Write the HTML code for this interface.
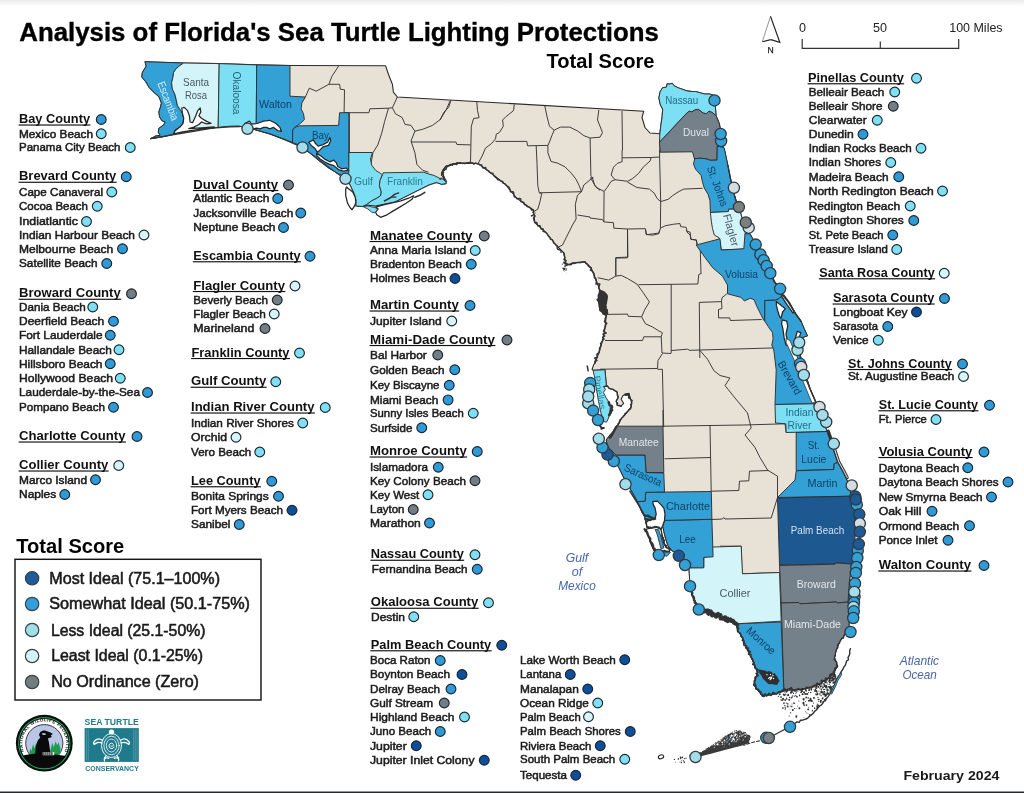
<!DOCTYPE html>
<html lang="en"><head><meta charset="utf-8"><title>Analysis of Florida's Sea Turtle Lighting Protections</title>
<style>html,body{margin:0;padding:0;background:#fff;}body{width:1024px;height:793px;overflow:hidden;position:relative;font-family:"Liberation Sans", sans-serif;}svg{will-change:transform;position:absolute;left:0;top:0;display:block;}text{font-family:"Liberation Sans", sans-serif;}.cn{font-weight:bold;font-size:12.9px;fill:#111;}.bn{font-size:11px;fill:#1c1c1c;stroke:#1c1c1c;stroke-width:0.5px;}.ml{font-size:10.5px;}.cb{fill:none;stroke:#353535;stroke-width:0.95;stroke-linejoin:round;}.cy{stroke:#2f2f2f;stroke-width:0.95;stroke-linejoin:round;}.wt{fill:#fff;stroke:#262626;stroke-width:1.25;stroke-linejoin:round;}.mk{stroke:#303a42;stroke-width:1.3;}.ld{stroke:#1c262e;stroke-width:1.15;}</style></head><body>
<svg width="1024" height="793" viewBox="0 0 1024 793">
<defs><linearGradient id="tg" x1="0" y1="0" x2="0" y2="1"><stop offset="0" stop-color="#ebebeb"/><stop offset="1" stop-color="#ffffff"/></linearGradient></defs>
<rect x="0" y="0" width="1024" height="793" fill="#fff"/>
<rect x="0" y="0" width="1024" height="6.5" fill="url(#tg)"/>
<rect x="0" y="791.5" width="1024" height="1.5" fill="#27282c"/>
<text x="19.3" y="40.5" font-size="25" font-weight="bold" fill="#000" stroke="#000" stroke-width="0.35" textLength="639.5" lengthAdjust="spacingAndGlyphs">Analysis of Florida's Sea Turtle Lighting Protections</text>
<text x="546.5" y="68" font-size="20.6" font-weight="bold" fill="#000" textLength="108" lengthAdjust="spacingAndGlyphs">Total Score</text>
<path d="M802.2 39.1V48.4H958.7V39.1M880.3 41.6V48.4" fill="none" stroke="#333" stroke-width="1.2"/>
<text x="802.4" y="32" font-size="12.6" fill="#222" text-anchor="middle">0</text>
<text x="880" y="32" font-size="12.6" fill="#222" text-anchor="middle">50</text>
<text x="949.2" y="32" font-size="12.6" fill="#222" textLength="53.4" lengthAdjust="spacingAndGlyphs">100 Miles</text>
<path d="M770.5 16.4L762.3 41.8" fill="none" stroke="#666" stroke-width="0.7"/>
<path d="M770.5 16.4L779.8 42.4L770.8 39.6" fill="#fff" stroke="#222" stroke-width="1.2" stroke-linejoin="miter"/>
<path d="M762.3 41.8L770.8 39.6" fill="none" stroke="#222" stroke-width="1.1"/>
<text x="770.7" y="53.4" font-size="8.6" fill="#222" text-anchor="middle" stroke="#222" stroke-width="0.25">N</text>
<g id="map">
<polygon points="145.0,61.7 183.7,63.0 219.2,63.6 256.7,64.9 290.0,65.5 290.0,65.5 385.6,65.8 388.5,74.5 392.4,84.3 393.4,92.2 397.3,97.0 643.8,111.2 642.0,117.5 645.0,127.5 650.0,133.0 660.0,133.8 659.9,133.4 660.8,125.8 662.1,116.9 662.7,109.3 660.2,104.2 658.9,97.8 660.2,91.5 662.7,87.7 666.5,87.1 667.1,83.9 669.7,84.1 672.2,83.2 674.1,85.8 677.9,87.7 681.7,89.0 686.8,90.9 691.9,91.5 695.7,91.5 700.1,92.8 704.6,94.0 709.7,94.0 713.5,95.3 715.0,97.8 715.4,106.7 716.0,115.6 719.2,123.2 720.5,129.6 721.4,135.9 722.6,143.6 723.6,147.4 724.6,150.0 727.8,165.2 730.3,177.9 733.5,191.9 736.0,200.8 739.2,208.7 743.0,221.1 745.2,232.5 745.5,237.6 744.9,249.0 743.8,248.8 745.0,233.8 750.0,233.8 756.0,245.0 761.0,255.8 766.1,265.3 770.5,273.6 774.4,281.8 780.1,288.8 782.6,295.1 788.3,302.1 795.9,314.2 801.0,321.2 804.2,328.8 807.4,335.8 801.2,338.0 798.0,341.2 800.0,355.0 804.5,372.5 810.0,388.8 816.2,403.0 813.8,403.8 818.8,412.5 823.8,422.5 827.0,431.5 831.2,443.8 835.0,455.0 837.5,462.5 842.5,471.2 846.2,478.8 849.5,485.0 851.2,496.2 853.8,505.0 855.0,520.0 855.0,535.0 853.8,550.0 852.0,564.0 849.5,580.0 848.0,602.0 849.5,617.5 848.8,627.5 843.8,636.2 840.0,641.2 836.2,650.0 834.5,657.5 837.5,666.2 833.8,672.5 827.5,678.8 820.0,683.8 812.5,687.0 802.5,689.0 792.5,690.0 783.8,689.5 776.2,693.8 762.5,696.2 753.8,685.0 757.5,672.5 753.8,662.5 747.5,650.0 742.5,637.5 737.5,630.0 736.2,623.8 727.5,618.8 715.0,615.0 705.0,611.2 698.8,609.5 693.8,600.0 690.0,586.2 689.0,567.8 685.5,565.0 677.4,553.8 671.5,550.3 668.0,545.6 665.6,538.6 663.9,531.6 662.7,525.7 664.5,520.4 662.7,525.7 651.6,528.0 646.9,526.9 644.5,516.3 642.2,512.8 639.9,506.9 637.5,501.7 632.5,492.5 625.0,480.0 618.8,467.5 613.8,458.8 610.0,450.0 607.5,445.0 606.2,440.0 610.0,435.0 613.8,431.2 617.5,426.2 616.2,426.9 619.2,422.9 621.1,419.0 624.6,415.1 628.0,411.1 631.0,407.2 631.5,402.3 630.0,397.4 629.0,393.4 626.0,393.9 623.1,395.4 621.1,399.3 623.6,403.3 621.1,406.2 617.2,405.2 616.2,401.3 618.2,397.4 617.2,392.4 613.3,389.5 609.3,388.5 607.4,386.1 606.4,385.6 604.9,369.8 593.1,370.3 592.1,369.3 593.6,364.9 595.0,362.9 595.0,363.0 598.8,353.0 602.5,340.5 605.0,328.0 606.2,315.5 600.0,310.5 598.8,303.0 600.0,290.5 596.2,280.5 591.2,268.0 585.0,261.8 572.5,263.0 566.2,265.5 563.8,253.0 556.0,245.0 546.0,232.5 534.8,222.5 533.5,210.0 526.0,205.0 516.0,197.5 506.0,185.0 493.5,175.0 478.5,163.8 471.0,163.0 453.5,163.8 446.0,166.2 442.2,172.5 446.0,181.2 446.0,183.6 441.6,184.3 436.5,182.4 428.9,184.9 421.2,188.7 411.1,193.8 403.5,197.6 394.6,202.1 388.2,203.3 381.9,204.6 375.6,205.9 367.9,205.2 362.9,206.5 355.9,205.9 355.9,199.5 354.0,193.2 350.8,186.2 347.9,180.5 346.5,177.2 338.6,173.9 328.9,168.0 319.1,160.6 309.3,152.4 303.1,146.9 292.5,142.4 280.0,137.5 270.0,133.8 256.2,130.0 247.5,127.5 237.5,126.0 230.0,126.2 218.0,127.0 214.2,127.7 201.5,129.0 188.8,130.9 176.1,133.4 173.6,134.1 163.4,136.6 150.7,138.8 155.8,136.0 160.2,135.3 158.3,132.2 158.9,128.4 163.4,125.2 165.3,122.0 162.1,120.8 159.6,116.9 158.9,111.9 160.2,108.0 161.5,103.0 158.9,96.6 154.5,92.8 149.4,87.7 145.6,81.4 141.8,77.0 142.4,72.5 146.2,66.2 145.0,61.7" fill="#e8e1d5" stroke="#2a2a2a" stroke-width="1.1" stroke-linejoin="round"/>
<path class="cb" d="M305.4 97.0 L309.3 88.2 L316.2 91.2 L328.9 84.3 L339.6 84.3 L340.2 89.2 L344.5 89.8 L344.1 112.7 M338.6 66.1 L331.8 76.5 L328.9 84.3 M344.1 112.7 L368.9 112.7 L369.9 108.8 L388.5 108.2 L392.4 107.8 L397.3 97.0 M349.4 112.7 L349.4 152.8 M388.5 108.2 L384.6 121.5 L381.7 133.2 L377.8 144.9 L372.9 152.8 L370.9 164.5 M392.4 107.8 L395.4 113.7 L402.2 117.6 L405.1 124.4 L411.0 125.4 L414.9 131.2 M450.1 100.9 L446.2 109.7 L440.3 119.5 L432.5 125.4 L422.7 129.3 L414.9 131.2 L411.0 141.0 L414.9 152.8 L416.9 164.5 L422.7 170.3 L428.6 172.3 M411.0 142.0 L455.9 142.0 L456.9 144.5 L470.6 144.9 M450.9 100.5 L448.6 107.5 L443.9 112.2 L440.0 120.0 M476.8 102.0 L477.5 110.6 L479.1 117.7 L473.6 118.5 L471.3 126.3 L470.5 163.0 M514.3 104.4 L513.5 110.6 L505.7 116.9 L502.6 120.0 L503.3 126.3 L499.4 132.5 L496.3 134.1 L495.5 138.8 L491.6 143.5 L485.4 148.2 L482.2 156.0 L478.3 163.0 M495.5 141.4 L526.8 141.4 L527.6 145.8 L547.9 145.4 M544.8 106.0 L547.1 116.9 L549.5 126.3 L554.2 130.2 L551.8 135.7 L549.5 141.9 L547.9 145.4 L547.9 152.9 L551.0 161.5 L557.3 163.0 L565.1 166.9 L571.4 173.2 L576.1 179.4 L579.2 185.7 L581.5 191.7 M554.2 130.2 L560.4 127.1 L569.8 127.1 L577.6 131.0 L583.9 135.7 L590.1 138.0 L600.0 137.2 L602.5 132.5 L597.5 120.0 L598.8 110.0 M536.2 145.8 L537.0 163.8 L537.8 185.7 L539.3 192.8 L541.7 193.5 L540.1 201.3 L537.8 209.2 L533.8 211.5 M539.3 192.8 L581.5 191.7 L577.6 195.1 L575.3 204.5 L576.1 219.0 L572.5 225.0 L562.5 245.0 L557.5 247.5 M590.1 138.0 L590.9 176.3 L592.5 177.9 L583.9 184.9 L581.5 191.7 M592.5 177.9 L594.8 185.7 L600.0 190.4 M622.0 111.2 L622.5 150.0 L622.1 150.0 L622.1 157.8 M660.0 133.8 L660.0 150.0 L659.6 150.0 L659.6 157.0 L660.7 201.6 L660.4 228.2 M577.5 215.0 L590.0 217.0 L590.0 218.0 L602.5 219.6 L603.8 221.9 M622.1 157.8 L651.0 157.5 L650.2 160.9 L643.2 167.2 L638.5 173.5 L632.2 178.9 L627.5 181.3 L615.0 179.7 L611.1 175.0 L613.5 167.2 L617.4 163.3 L622.1 161.7 L622.1 157.8 M651.0 157.5 L659.6 157.0 M590.0 178.2 L593.1 177.4 L591.6 179.7 L596.3 187.5 L604.1 191.4 L607.2 187.5 L611.1 181.3 L615.0 179.7 M627.5 182.1 L636.9 187.5 L649.4 189.1 L654.1 193.0 L657.2 198.5 L660.7 201.6 L668.2 199.3 L672.9 195.4 L679.1 191.4 L683.8 189.1 L702.6 188.3 M604.1 191.4 L603.8 221.9 L613.5 222.7 L613.8 228.2 L627.5 229.0 L645.5 228.7 L646.3 234.4 L652.6 235.2 L658.8 233.7 L660.4 228.2 L665.1 225.8 L672.9 224.3 L679.9 223.5 L680.7 226.6 L686.2 227.4 L687.0 231.3 L690.1 232.1 L690.9 239.2 L696.4 239.9 L697.1 244.6 M627.5 229.0 L627.9 257.1 L615.8 257.6 L615.8 274.0 L615.8 276.1 M700.3 250.1 L701.0 274.0 L700.3 273.8 L698.7 274.6 L697.9 284.0 M597.8 277.7 L608.8 280.1 L615.8 276.1 L621.3 275.4 L627.5 278.5 L636.9 284.0 L643.2 292.6 L649.4 301.9 L644.7 309.8 L641.6 316.8 L645.5 323.8 L652.6 327.0 L658.8 330.9 L661.9 332.4 M627.5 230.0 L627.5 257.8 L615.8 258.1 L615.8 276.1 M638.5 284.7 L697.9 284.0 M606.4 314.4 L627.5 314.1 L628.3 316.3 L641.6 316.8 M645.5 230.0 L646.3 234.7 L652.6 233.9 L658.8 233.1 L659.6 230.0 M686.2 230.0 L687.8 233.1 L690.1 234.7 L690.9 239.4 L696.4 240.2 L697.1 244.9 M699.3 302.4 L721.5 301.6 L722.0 297.7 L726.9 293.8 M721.5 301.6 L722.0 308.5 L718.5 309.5 L718.5 317.9 L729.8 317.9 L730.3 320.5 L761.8 319.5 M699.3 302.4 L699.8 358.0 M690.0 350.3 L774.6 347.9 M671.2 284.2 L671.2 353.0 M605.0 340.5 L642.5 340.5 L643.8 336.8 L661.2 336.8 L662.0 353.0 L671.2 353.5 M661.2 336.8 L662.5 332.5 M600.0 369.2 L657.5 368.5 L658.0 360.5 L662.5 353.5 M657.5 369.3 L662.4 369.3 L663.7 426.8 M671.2 350.5 L687.5 349.2 L690.0 350.5 M700.0 350.5 L707.5 359.2 L713.8 370.5 L720.0 375.5 L730.0 378.0 L725.0 385.5 L735.0 398.0 L747.5 413.0 L751.2 428.0 L745.0 435.0 L755.0 447.5 L760.0 457.5 L767.5 470.0 L777.5 476.2 L777.5 497.5 M663.0 410.0 L663.0 426.2 M663.0 426.2 L710.0 425.5 L743.8 425.0 L785.0 423.8 L786.2 432.5 M710.0 425.5 L711.2 491.2 M664.5 458.8 L710.5 457.5 M711.2 491.2 L738.8 490.5 L739.5 481.2 L748.8 480.8 L749.5 471.2 L768.8 470.5 M712.0 519.5 L722.5 519.0 L723.8 517.5 L725.0 519.0 L771.2 518.0 L777.5 497.5 M720.0 546.2 L741.2 546.2 L742.0 573.8 L779.5 572.5"/>
<polygon class="cy" points="145.0,61.7 183.7,63.0 179.9,65.5 176.1,68.7 173.6,72.5 172.9,77.6 171.6,82.7 172.3,89.0 174.8,94.1 176.1,99.2 177.4,105.5 179.9,109.3 182.4,113.1 183.7,118.2 183.1,123.3 179.9,127.1 174.8,130.3 173.6,134.1 163.4,136.6 150.7,138.8 155.8,136.0 160.2,135.3 158.3,132.2 158.9,128.4 163.4,125.2 165.3,122.0 162.1,120.8 159.6,116.9 158.9,111.9 160.2,108.0 161.5,103.0 158.9,96.6 154.5,92.8 149.4,87.7 145.6,81.4 141.8,77.0 142.4,72.5 146.2,66.2 145.0,61.7" fill="#33a0d6"/>
<polygon class="cy" points="183.7,63.0 219.2,63.6 218.2,127.3 214.2,127.7 201.5,129.0 188.8,130.9 176.1,133.4 173.6,134.1 174.8,130.3 179.9,127.1 183.1,123.3 183.7,118.2 182.4,113.1 179.9,109.3 177.4,105.5 176.1,99.2 174.8,94.1 172.3,89.0 171.6,82.7 172.9,77.6 173.6,72.5 176.1,68.7 179.9,65.5 183.7,63.0" fill="#d3f4f9"/>
<polygon class="cy" points="219.2,63.6 256.7,64.9 256.2,130.0 247.5,127.5 237.5,126.0 230.0,126.2 218.2,127.3" fill="#7ddff3"/>
<polygon class="cy" points="256.7,64.9 290.0,65.5 290.0,96.2 305.4,97.0 301.9,102.9 301.1,108.8 303.5,113.7 304.4,119.5 300.5,123.4 294.7,127.3 292.7,130.3 292.5,142.4 280.0,137.5 270.0,133.8 256.2,130.0" fill="#33a0d6"/>
<polygon class="cy" points="292.7,130.3 294.7,127.3 299.6,125.8 338.6,125.4 339.6,112.7 348.8,112.7 348.8,172.3 346.5,177.2 338.6,173.9 328.9,168.0 319.1,160.6 309.3,152.4 303.1,146.9 292.5,142.4" fill="#33a0d6"/>
<polygon class="cy" points="348.9,152.5 372.4,152.5 370.5,158.9 371.7,165.2 375.6,170.3 380.6,173.5 382.5,174.8 380.0,180.5 379.4,185.6 381.3,191.9 380.6,195.7 376.8,198.2 371.7,200.8 366.7,204.6 362.9,206.5 355.9,205.9 355.9,199.5 354.0,193.2 350.8,186.2 347.9,180.5 346.5,177.2 348.8,172.3" fill="#7ddff3"/>
<polygon class="cy" points="382.5,174.8 383.2,172.8 423.8,172.2 428.9,174.1 433.9,175.4 440.3,178.6 446.0,179.8 446.0,183.6 441.6,184.3 436.5,182.4 428.9,184.9 421.2,188.7 411.1,193.8 403.5,197.6 394.6,202.1 388.2,203.3 381.9,204.6 375.6,205.9 367.9,205.2 362.9,206.5 366.7,204.6 371.7,200.8 376.8,198.2 380.6,195.7 381.3,191.9 379.4,185.6 380.0,180.5 382.5,174.8" fill="#7ddff3"/>
<polygon class="cy" points="659.5,142.3 659.9,133.4 660.8,125.8 662.1,116.9 662.7,109.3 660.2,104.2 658.9,97.8 660.2,91.5 662.7,87.7 666.5,87.1 667.1,83.9 669.7,84.1 672.2,83.2 674.1,85.8 677.9,87.7 681.7,89.0 686.8,90.9 691.9,91.5 695.7,91.5 700.1,92.8 704.6,94.0 709.7,94.0 713.5,95.3 715.0,97.8 715.4,106.7 716.0,115.6 712.2,112.5 709.0,111.2 706.5,113.7 703.3,113.1 700.8,111.2 698.2,109.3 695.1,109.9 691.9,111.8 689.4,111.2 686.8,113.1 659.5,142.3" fill="#7ddff3"/>
<polygon class="cy" points="659.5,142.3 686.8,113.1 689.4,111.2 691.9,111.8 695.1,109.9 698.2,109.3 700.8,111.2 703.3,113.1 706.5,113.7 709.0,111.2 712.2,112.5 716.0,115.6 719.2,123.2 720.5,129.6 721.4,135.9 722.6,143.6 723.6,147.4 717.3,146.1 717.0,160.1 710.3,160.3 705.9,158.8 699.5,158.2 694.4,158.8 692.5,151.8 660.2,152.2" fill="#74808a"/>
<polygon class="cy" points="694.4,158.8 699.5,158.2 705.9,158.8 710.3,160.3 717.0,160.1 717.3,146.1 723.6,147.4 724.6,150.0 727.8,165.2 730.3,177.9 733.5,191.9 736.0,200.8 739.2,208.7 728.6,209.3 728.4,211.6 710.4,212.5 710.0,200.8 708.1,194.4 704.3,188.1 702.4,181.7 701.1,175.4 695.4,169.0 693.5,164.0 694.8,158.2" fill="#33a0d6"/>
<polygon class="cy" points="710.4,212.5 728.4,211.6 728.6,209.3 739.2,208.7 743.0,221.1 745.2,232.5 745.5,237.6 744.9,249.0 721.3,250.0 720.1,242.7 718.9,237.6 714.4,235.1 712.5,228.7 711.3,221.1 710.4,212.5" fill="#d3f4f9"/>
<polygon class="cy" points="696.2,245.0 720.0,238.8 721.2,250.0 743.8,248.8 745.0,233.8 750.0,233.8 756.0,245.0 761.0,255.8 766.1,265.3 770.5,273.6 774.4,281.8 780.1,288.8 782.6,295.1 779.4,298.3 775.6,300.2 764.8,300.5 764.8,321.2 763.6,319.9 760.4,313.6 756.6,305.9 754.0,299.6 750.2,298.3 744.5,300.9 740.7,297.3 735.0,295.8 727.5,293.8 727.5,285.0 722.5,276.2 712.5,267.5 705.0,257.5 696.2,245.0" fill="#33a0d6"/>
<polygon class="cy" points="764.8,321.2 764.8,300.5 775.6,300.2 779.4,298.3 782.6,295.1 788.3,302.1 795.9,314.2 801.0,321.2 804.2,328.8 807.4,335.8 801.2,338.0 798.0,341.2 800.0,355.0 804.5,372.5 810.0,388.8 816.2,403.0 813.8,403.8 775.0,404.5 776.2,370.0 773.8,350.0 771.8,345.0 773.1,338.9 772.5,332.6 768.0,326.2 764.8,321.2" fill="#33a0d6"/>
<polygon class="cy" points="775.0,404.5 813.8,403.8 818.8,412.5 823.8,422.5 827.0,431.5 786.2,432.5 785.8,423.8 775.5,423.0" fill="#7ddff3"/>
<polygon class="cy" points="796.2,432.5 827.0,431.5 831.2,443.8 835.0,455.0 837.5,462.5 834.2,463.8 833.8,469.5 796.2,470.5" fill="#33a0d6"/>
<polygon class="cy" points="796.2,470.8 833.8,469.5 834.2,463.8 837.5,462.5 842.5,471.2 846.2,478.8 849.5,485.0 851.2,496.2 777.5,497.5 795.0,480.0" fill="#33a0d6"/>
<polygon class="cy" points="777.5,498.0 851.2,496.2 853.8,505.0 855.0,520.0 855.0,535.0 853.8,550.0 852.0,564.0 836.2,562.5 835.0,564.0 779.5,565.0" fill="#1d5891"/>
<polygon class="cy" points="779.5,565.5 835.0,564.2 836.2,563.0 852.0,564.0 849.5,580.0 848.0,602.0 837.5,603.0 836.2,602.0 800.0,603.8 798.8,602.5 781.2,603.0" fill="#74808a"/>
<polygon class="cy" points="781.2,603.0 798.8,602.5 800.0,603.8 836.2,602.0 837.5,603.0 848.0,602.0 849.5,617.5 848.8,627.5 843.8,636.2 840.0,641.2 836.2,650.0 834.5,657.5 837.5,666.2 833.8,672.5 827.5,678.8 820.0,683.8 812.5,687.0 802.5,689.0 792.5,690.0 783.8,689.5" fill="#74808a"/>
<polygon class="cy" points="736.2,623.8 781.2,622.0 783.8,689.5 776.2,693.8 762.5,696.2 753.8,685.0 757.5,672.5 753.8,662.5 747.5,650.0 742.5,637.5 737.5,630.0 736.2,623.8" fill="#33a0d6"/>
<polygon class="cy" points="689.0,567.8 703.8,567.5 703.8,557.5 712.5,555.0 712.5,547.0 741.2,546.2 742.5,573.8 779.5,572.5 781.2,621.2 736.2,623.8 727.5,618.8 715.0,615.0 705.0,611.2 698.8,609.5 693.8,600.0 690.0,586.2 689.0,567.8" fill="#d3f4f9"/>
<polygon class="cy" points="664.5,520.4 711.9,519.3 713.1,556.8 703.7,557.4 703.7,567.9 689.0,567.8 685.5,565.0 677.4,553.8 671.5,550.3 668.0,545.6 665.6,538.6 663.9,531.6 662.7,525.7 664.5,520.4" fill="#33a0d6"/>
<polygon class="cy" points="645.7,492.3 711.3,491.5 711.9,519.3 664.5,520.4 662.7,525.7 651.6,528.0 646.9,526.9 644.5,516.3 642.2,512.8 639.9,506.9 637.5,501.7 645.1,501.1" fill="#33a0d6"/>
<polygon class="cy" points="616.2,455.0 645.0,455.0 646.2,472.5 663.8,473.0 664.5,492.0 645.7,492.3 645.1,501.1 637.5,501.7 632.5,492.5 625.0,480.0 618.8,467.5 613.8,458.8 610.0,450.0" fill="#33a0d6"/>
<polygon class="cy" points="617.5,426.2 663.0,426.2 663.8,472.5 646.2,472.5 645.0,455.0 616.2,455.0 610.0,450.0 607.5,445.0 606.2,440.0 610.0,435.0 613.8,431.2 617.5,426.2" fill="#74808a"/>
<polygon class="cy" points="593.1,370.3 604.9,369.8 606.4,385.6 603.9,386.6 605.4,389.5 603.4,392.4 605.9,397.4 608.4,401.3 609.3,404.2 610.3,407.7 609.8,412.6 608.5,418.0 606.6,422.1 604.4,421.8 602.5,419.0 600.5,411.1 598.5,401.3 597.0,392.4 595.6,384.6 594.6,377.7" fill="#7ddff3"/>
<polygon class="wt" points="181.8,108.0 184.3,107.4 187.5,110.6 189.4,115.7 190.1,122.0 192.6,122.7 195.8,115.7 197.7,110.6 200.2,108.0 200.8,111.9 198.9,115.7 201.5,118.2 206.6,121.4 211.0,123.3 206.6,123.9 201.5,122.0 198.9,124.5 193.9,127.1 188.8,128.6 201.5,127.8 214.2,126.8 214.2,127.7 201.5,129.0 188.8,130.9 181.2,132.2 176.1,133.4 174.2,134.1 174.8,130.9 179.9,127.1 183.1,123.3 183.7,118.2 182.4,113.1"/>
<polygon class="wt" points="249.4,121.1 251.7,124.2 257.2,123.5 263.5,121.1 269.7,120.3 276.0,123.5 279.9,127.4 281.4,131.3 277.5,130.5 273.6,127.4 269.7,128.9 266.6,127.4 263.5,127.4 260.3,128.9 256.4,128.2 253.3,128.9 250.9,126.6 248.6,125.0 244.7,124.7 244.7,123.5"/>
<polygon class="wt" points="308.8,142.2 313.5,139.9 315.1,143.0 318.2,146.1 322.9,144.6 327.6,142.2 329.9,137.5 330.7,140.7 328.4,145.4 322.9,146.9 319.8,150.1 317.4,152.4 315.1,148.5 311.2,145.4"/>
<polygon class="wt" points="316.6,153.2 321.3,156.3 325.2,159.4 329.9,161.8 333.8,160.2 336.2,162.6 337.8,166.5 341.7,168.8 346.4,168.0 347.9,170.4 343.2,171.2 338.5,169.6 333.8,165.7 329.1,164.1 324.4,161.8 319.8,158.7 316.6,155.5"/>
<polygon class="wt" points="346.4,186.8 347.6,188.1 352.7,191.9 355.2,197.0 355.9,202.1 354.6,205.9 352.1,209.7 350.2,207.8 347.6,203.3 345.7,195.7 345.7,189.4"/>
<polygon class="wt" points="375.6,207.1 384.4,204.6 393.3,202.7 400.9,200.8 408.6,198.2 413.6,195.7 412.4,198.9 406.0,203.3 399.7,207.1 393.3,210.9 387.0,214.8 380.6,217.3 376.8,214.8 375.6,212.2 378.1,209.0"/>
<polygon class="wt" points="652.7,501.7 657.4,501.1 660.9,504.6 663.9,508.1 665.0,514.0 664.5,520.4 662.7,525.7 660.9,529.2 656.2,526.9 651.6,528.0 646.9,526.9 646.3,522.2 649.2,519.9 655.1,518.7 656.2,514.0 655.1,508.1 653.3,504.6"/>
<polygon class="wt" points="646.3,529.2 651.6,528.0 656.2,526.9 660.9,529.2 662.1,535.1 663.3,542.1 665.6,546.8 670.3,549.1 669.1,551.5 663.3,550.9 658.6,550.3 653.9,550.3 651.6,545.6 649.2,538.6 646.9,532.7"/>
<polygon class="wt" points="776.3,301.5 779.4,304.0 783.2,306.9 785.4,308.7 782.6,312.0 781.0,318.4 779.4,316.1 777.8,311.0 776.5,305.9"/>
<polygon class="wt" points="782.2,319.9 786.8,321.2 787.7,326.2 786.0,333.9 787.3,341.5 789.0,345.0 786.0,345.0 784.1,337.7 782.9,328.8 781.6,323.7"/>
<polygon class="wt" points="797.2,331.3 800.8,332.6 798.7,338.9 794.9,341.7 795.9,336.4"/>
<polygon class="wt" points="781.3,295.8 783.9,295.1 789.6,302.8 794.7,312.3 792.8,312.9 787.0,304.7"/>
<path d="M470.0 163.3 L468.4 163.4 L466.9 162.8 L465.3 163.2 L463.7 163.1 L462.1 163.5 L460.6 162.7 L459.0 163.2 L457.3 162.6 L455.8 163.4 L454.3 164.0 L452.4 163.9 L451.0 165.1 L449.4 165.6 L447.9 166.5 L446.6 167.3 L446.1 169.3 L443.7 168.9 L442.8 170.3 L442.1 171.9 L441.6 173.6 L441.6 175.4" fill="none" stroke="#333" stroke-width="1.3" stroke-linecap="round" stroke-linejoin="round"/>
<path d="M446.0 181.2 L444.3 180.3 L443.6 178.8 L443.6 177.1 L443.2 175.5 L443.1 173.9 L442.2 172.5 L443.2 170.9 L444.4 169.6 L444.7 167.6 L446.0 166.2 L447.6 166.0 L449.1 165.5 L450.4 164.3 L452.4 165.4 L453.5 163.8 L455.1 164.1 L456.7 164.5 L458.3 163.1 L459.8 163.0 L461.4 163.2 L463.0 163.3 L464.7 163.7 L466.2 163.4 L467.8 162.8 L469.4 162.4 L471.0 163.0 L472.5 162.8 L473.9 164.2 L475.6 162.9 L477.0 163.8 L478.5 163.8 L479.6 164.9 L481.6 164.8 L482.2 166.6 L483.0 168.2 L485.6 167.3 L486.1 169.2 L487.3 170.3 L488.8 170.8 L489.5 172.5 L491.0 173.1 L492.9 173.2 L493.5 175.0 L494.4 176.5 L495.7 177.4 L496.8 178.5 L497.9 179.8 L499.6 180.2 L500.9 181.1 L502.8 181.3 L503.2 183.3 L505.0 183.7 L506.0 185.0 L507.2 186.1 L508.7 186.9 L509.5 188.3 L510.3 189.8 L510.3 191.8 L513.1 191.6 L513.8 193.1 L513.9 195.1 L514.2 196.9 L516.0 197.5 L517.0 198.8 L519.3 198.3 L520.8 198.9 L520.8 201.5 L522.6 201.8 L524.0 202.5 L524.3 204.6 L526.0 205.0 L526.8 206.5 L528.4 206.8 L529.7 207.6 L530.8 208.6 L531.6 210.1 L533.5 210.0 L533.2 211.6 L533.5 213.2 L533.6 214.7 L535.2 216.1 L533.4 217.9 L533.8 219.4 L534.2 221.0 L534.8 222.5 L536.8 222.5 L537.3 224.2 L537.7 225.9 L540.1 225.6 L540.5 227.4 L541.0 229.0 L543.2 228.8 L543.0 231.3 L544.6 231.8 L546.0 232.5 L547.1 233.7 L547.8 235.1 L548.6 236.5 L549.9 237.6 L550.4 239.3 L552.4 239.7 L553.2 241.1 L553.4 243.0 L555.0 243.8 L556.0 245.0 L557.3 245.9 L557.1 247.9 L557.6 249.3 L559.6 249.8 L561.0 250.7 L561.0 252.5" fill="none" stroke="#333" stroke-width="1.3" stroke-linecap="round" stroke-linejoin="round"/>
<path d="M563.8 253.0 L564.2 254.5 L564.5 256.1 L564.9 257.6 L563.9 259.5 L566.1 260.7 L564.6 262.6 L566.9 263.7 L566.2 265.5 L567.6 264.3 L569.6 264.7 L571.3 264.5 L572.5 263.0 L574.1 263.5 L575.7 263.0 L577.2 262.6 L578.8 262.5 L580.4 262.7 L581.9 261.9 L583.5 262.1 L585.0 261.8 L585.9 263.3 L587.5 264.3 L588.3 265.9 L589.7 267.1 L591.2 268.0 L590.4 270.2 L592.3 271.2 L593.4 272.6 L594.0 274.1 L594.4 275.8 L594.3 277.6 L595.9 278.8 L596.2 280.5 L596.5 282.0 L595.9 283.9 L599.8 284.1 L599.2 285.9 L598.7 287.7 L599.2 289.2 L600.0 290.5 L599.7 292.0 L600.0 293.7 L599.0 295.1 L599.2 296.7 L599.6 298.4 L597.1 299.7 L598.6 301.4 L598.8 303.0 L599.4 304.4 L599.3 306.0 L599.7 307.5 L599.8 309.0 L600.0 310.5 L602.6 309.8 L602.7 312.2 L603.2 314.1 L605.6 313.8 L606.2 315.5 L606.1 317.1 L605.2 318.5 L605.1 320.1 L604.4 321.6 L606.8 323.4 L605.6 324.9 L605.4 326.5 L605.0 328.0 L604.2 329.5 L603.5 331.0 L606.2 333.1 L602.9 334.1 L604.6 336.0 L602.6 337.3 L604.0 339.2 L602.5 340.5 L601.9 342.0 L600.6 343.4 L601.2 345.2 L600.5 346.7 L599.5 348.1 L599.6 349.8 L599.3 351.5 L598.8 353.0 L597.1 354.0 L596.9 355.6 L597.4 357.4 L594.6 357.9 L596.9 360.5 L594.9 361.3 L595.0 363.0" fill="none" stroke="#333" stroke-width="1.5" stroke-linecap="round" stroke-linejoin="round"/>
<path d="M736.2 623.8 L734.9 623.3 L733.8 622.2 L732.9 620.9 L731.4 620.7 L730.3 619.6 L727.9 620.9 L727.5 618.8 L725.8 620.0 L725.2 617.4 L723.4 618.6 L722.2 618.3 L720.8 618.4 L720.4 615.2 L719.0 615.3 L718.0 614.2 L716.0 616.4 L715.0 615.0 L713.8 614.5 L712.1 615.2 L711.5 612.8 L710.6 611.5 L708.4 613.6 L708.1 610.6 L706.6 610.7 L705.0 611.2 L703.4 611.0 L701.3 612.5 L700.7 608.4 L698.8 609.5" fill="none" stroke="#333" stroke-width="4.4" stroke-linecap="round" stroke-linejoin="round"/>
<path d="M698.8 609.5 L698.1 608.3 L697.2 607.3 L697.1 605.8 L696.4 604.7 L696.3 603.2 L694.5 602.6 L694.9 600.9 L693.8 600.0 L694.1 598.4 L693.7 597.1 L692.5 595.9 L691.9 594.6 L692.4 593.0 L691.6 591.7 L691.2 590.4 L691.4 588.8 L690.2 587.7 L690.0 586.2" fill="none" stroke="#333" stroke-width="2.2" stroke-linecap="round" stroke-linejoin="round"/>
<path d="M736.2 623.8 L738.4 625.0 L737.2 626.8 L738.6 628.1 L737.5 630.0 L737.8 631.6 L739.0 632.6 L740.4 633.5 L740.8 635.0 L741.1 636.6 L742.5 637.5 L742.9 638.8 L742.5 640.4 L744.0 641.2 L743.7 642.8 L743.9 644.2 L744.3 645.5 L746.5 646.1 L745.8 647.8 L748.4 648.2 L747.5 650.0 L748.9 650.9 L750.2 651.8 L748.6 654.1 L750.9 654.6 L750.6 656.2 L751.4 657.4 L751.9 658.7 L752.9 659.8 L753.0 661.3 L753.8 662.5 L752.9 664.3 L754.7 665.0 L754.8 666.4 L754.9 667.8 L756.2 668.7 L757.5 669.6 L757.4 671.1 L757.5 672.5 L756.3 673.5 L758.0 675.4 L756.8 676.4 L755.2 677.3 L755.0 678.6 L755.2 680.0 L754.3 681.1 L754.4 682.5 L755.0 684.0 L753.8 685.0 L755.6 685.4 L755.9 686.9 L755.8 688.8 L757.6 689.2 L758.7 690.2 L759.5 691.4 L760.8 692.1 L760.8 693.9 L762.4 694.5 L762.5 696.2 L763.9 696.3 L764.9 693.9 L766.7 695.8 L767.9 694.7 L769.1 693.5 L770.9 695.3 L772.1 694.3 L773.2 692.5 L774.7 693.3 L776.2 693.8 L777.6 693.2 L778.6 692.0 L780.3 692.2 L781.5 691.4 L782.8 690.7 L783.8 689.5" fill="none" stroke="#333" stroke-width="1.8" stroke-linecap="round" stroke-linejoin="round"/>
<path d="M837.5 666.2 L836.5 667.4 L835.1 668.2 L834.8 669.7 L834.2 671.1 L833.8 672.5 L833.9 674.7 L831.2 674.1 L829.9 674.9 L829.8 676.8 L828.8 678.0 L827.5 678.8 L825.4 678.3 L825.8 681.6 L823.5 680.9 L821.4 680.5 L821.7 683.5 L820.0 683.8 L818.5 683.8 L816.9 683.4 L816.3 685.5 L814.8 685.5 L813.5 685.8 L812.5 687.0 L811.2 688.0 L809.7 687.6 L808.2 687.6 L806.7 687.5 L805.4 688.5 L804.0 688.9 L802.5 689.0 L801.2 690.0 L799.7 689.6 L798.1 688.7 L796.8 689.5 L795.4 690.4 L794.0 690.5 L792.5 690.0 L791.2 687.8 L789.6 688.9 L788.2 689.2 L786.5 691.7 L785.2 689.1 L783.8 689.5" fill="none" stroke="#333" stroke-width="1.8" stroke-linecap="round" stroke-linejoin="round"/>
<path d="M848.8 627.5 L847.7 628.8 L846.4 630.0 L846.1 631.8 L845.4 633.4 L844.4 634.7 L843.8 636.2 L843.6 638.1 L841.5 638.4 L840.8 639.9 L840.0 641.2 L839.7 642.8 L838.1 643.9 L837.3 645.3 L838.1 647.4 L837.2 648.7 L836.2 650.0 L835.8 651.5 L835.5 653.0 L835.4 654.5 L835.3 656.1 L834.5 657.5 L834.0 659.3 L835.0 660.6 L836.6 661.7 L837.1 663.1 L836.2 665.1 L837.5 666.2" fill="none" stroke="#333" stroke-width="1.1" stroke-linecap="round" stroke-linejoin="round"/>
<path d="M151.2 138.2 L165.0 136.2 L180.0 133.5 L195.0 131.2 L212.5 128.2 L230.0 126.8 L240.0 126.5" fill="none" stroke="#333" stroke-width="1.3" stroke-linecap="round" stroke-linejoin="round"/>
<path d="M256.2 130.0 L270.0 134.2 L285.0 140.0 L297.5 145.5 L310.0 153.0 L325.0 164.0 L337.5 173.8 L345.0 179.2" fill="none" stroke="#333" stroke-width="1.0" stroke-linecap="round" stroke-linejoin="round"/>
<path d="M414.9 197.2 L421.2 194.7 L424.8 192.4" fill="none" stroke="#333" stroke-width="1.6" stroke-linecap="round" stroke-linejoin="round"/>
<path d="M384.4 201.0 L390.8 197.5 L394.6 194.4 L398.6 192.9" fill="none" stroke="#333" stroke-width="1.5" stroke-linecap="round" stroke-linejoin="round"/>
<path d="M391.4 197.2 L395.9 197.2" fill="none" stroke="#333" stroke-width="1.2" stroke-linecap="round" stroke-linejoin="round"/>
<path d="M362.9 206.5 L367.9 205.9 L375.6 207.8 L377.4 209.7 L374.9 212.8 L371.7 212.2 L367.9 209.0Z" fill="#7ddff3" stroke="#333" stroke-width="0.9"/>
<path d="M782.6 295.1 L788.3 302.1 L795.9 314.2 L801.0 321.2" fill="none" stroke="#333" stroke-width="1.6" stroke-linecap="round" stroke-linejoin="round"/>
<path d="M771.2 274.8 L774.4 281.8 L780.1 288.8 L782.6 295.1" fill="none" stroke="#333" stroke-width="1.8" stroke-linecap="round" stroke-linejoin="round"/>
<path d="M786.2 338.5 L789.8 340.5 L798.2 359.0 L806.3 380.5 L815.6 402.2 L812.0 403.0 L803.0 381.5 L795.0 362.0 L786.2 342.5Z" fill="#fff" stroke="#333" stroke-width="0.8" stroke-linejoin="round"/>
<path d="M798.0 341.2 L800.0 355.0 L804.5 372.5 L810.0 388.8 L816.2 403.0 L822.5 416.2" fill="none" stroke="#333" stroke-width="1.5" stroke-linecap="round" stroke-linejoin="round"/>
<path d="M828.3 431.0 L832.6 443.3 L836.4 454.6 L838.9 462.0 L843.8 470.8 L847.3 477.6" fill="none" stroke="#333" stroke-width="3.0" stroke-linecap="round" stroke-linejoin="round"/>
<path d="M832.6 443.3 L836.4 454.6 L838.9 462.0 L843.8 470.8 L847.3 477.6" fill="none" stroke="#fff" stroke-width="0.9" stroke-linecap="round" stroke-linejoin="round"/>
<path d="M727.8 165.2 L730.3 177.9 L733.5 191.9 L736.0 200.8" fill="none" stroke="#333" stroke-width="1.3" stroke-linecap="round" stroke-linejoin="round"/>
<path d="M587.2 365.9 L588.2 370.8" fill="none" stroke="#333" stroke-width="1.5" stroke-linecap="round" stroke-linejoin="round"/>
<path d="M608.8 402.3 L609.2 403.6 L609.6 404.8 L610.7 405.5 L611.8 406.2 L612.0 407.5 L611.2 408.6 L612.1 410.1 L610.8 411.1 L610.7 412.6 L609.9 413.8 L609.3 415.1" fill="none" stroke="#333" stroke-width="2.6" stroke-linecap="round" stroke-linejoin="round"/>
<path d="M625.1 394.6 L626.8 394.8 L628.5 394.4 L629.1 396.1 L629.0 397.9" fill="none" stroke="#333" stroke-width="2.2" stroke-linecap="round" stroke-linejoin="round"/>
<path d="M616.2 426.9 L615.6 428.2 L614.7 429.4 L614.2 430.8 L613.4 432.0 L612.7 433.3 L612.3 434.7 L611.4 435.6 L610.8 436.8 L609.8 437.7" fill="none" stroke="#333" stroke-width="2.4" stroke-linecap="round" stroke-linejoin="round"/>
<path d="M599.5 423.9 L599.7 425.3 L600.5 426.4 L601.3 427.5 L601.5 428.8 L602.6 428.1 L603.9 427.9" fill="none" stroke="#333" stroke-width="2.0" stroke-linecap="round" stroke-linejoin="round"/>
<path d="M603.9 386.6 L605.6 386.3 L607.4 386.1 L608.4 387.3 L609.3 388.5 L610.6 388.9 L612.0 389.2 L613.3 389.5 L614.2 390.3 L615.3 390.9 L616.6 391.3 L617.2 392.4 L617.3 393.7 L617.2 395.0 L617.7 396.2 L618.2 397.4 L617.6 398.7 L616.7 399.9 L616.2 401.3 L617.0 402.5 L617.7 403.7 L617.2 405.2 L618.5 405.6 L619.9 405.5 L621.1 406.2" fill="none" stroke="#333" stroke-width="1.3" stroke-linecap="round" stroke-linejoin="round"/>
<path d="M630.0 397.4 L630.0 398.7 L631.2 399.7 L632.2 400.7 L631.5 402.3 L631.8 403.6 L630.5 404.7 L631.3 406.0 L631.0 407.2 L630.7 408.6 L629.8 409.4 L628.6 410.0 L628.0 411.1 L627.0 412.0 L626.2 413.0 L624.9 413.6 L624.6 415.1 L623.5 415.8 L622.9 417.0 L621.8 417.8 L621.1 419.0 L619.8 420.0 L619.4 421.4 L619.2 422.9 L618.1 423.6 L618.1 425.2 L617.0 425.9 L616.2 426.9" fill="none" stroke="#333" stroke-width="1.4" stroke-linecap="round" stroke-linejoin="round"/>
<path d="M655.1 529.2 L658.6 529.8 L660.9 536.2 L662.7 543.3 L663.9 548.0 L660.9 548.6 L659.2 542.1 L657.4 535.1Z" fill="#33a0d6" stroke="#333" stroke-width="0.9"/>
<path d="M663.3 551.7 L670.5 552.4 L666.8 556.4 L663.9 555.2Z" fill="#33a0d6" stroke="#333" stroke-width="0.8"/>
<path d="M644.5 529.2 L645.5 530.9 L646.9 532.1 L647.6 533.3 L647.7 534.7 L648.4 535.8 L648.9 537.0 L649.9 538.0 L650.4 539.2 L650.0 541.0 L651.1 542.2 L652.2 543.4 L652.7 544.8 L653.3 546.2 L653.0 547.8 L654.6 548.5 L654.8 549.9 L655.7 550.9" fill="none" stroke="#333" stroke-width="2.2" stroke-linecap="round" stroke-linejoin="round"/>
<path d="M644.5 515.2 L645.6 515.9 L646.9 515.9 L648.2 515.8 L649.2 516.6 L650.4 517.1 L651.5 517.5 L652.6 518.3 L653.8 518.5 L655.1 518.7 L653.8 519.0 L652.4 519.0 L651.1 519.5 L649.8 520.1 L648.4 519.7 L646.9 519.4 L645.5 519.1" fill="none" stroke="#333" stroke-width="2.4" stroke-linecap="round" stroke-linejoin="round"/>
<path d="M646.9 526.9 L648.1 527.1 L649.2 527.7 L650.5 527.3 L651.6 528.0 L652.7 527.5 L653.9 527.5 L654.9 526.6 L656.2 526.9 L657.5 527.3 L659.0 527.3 L659.9 528.4 L660.9 529.2" fill="none" stroke="#333" stroke-width="1.8" stroke-linecap="round" stroke-linejoin="round"/>
<path d="M653.9 550.3 L655.5 550.5 L657.0 550.5 L658.6 550.3 L660.2 550.5 L661.7 550.6 L663.3 550.9 L664.8 550.6 L666.2 551.7 L667.7 551.5 L669.1 551.5" fill="none" stroke="#333" stroke-width="1.5" stroke-linecap="round" stroke-linejoin="round"/>
<path d="M662.1 535.1 L662.0 536.6 L663.2 537.8 L663.2 539.3 L664.2 540.5 L663.9 542.1 L664.2 543.6 L664.7 544.9 L666.3 545.8 L666.2 547.4 L667.6 548.0 L668.8 548.9 L670.3 549.4" fill="none" stroke="#333" stroke-width="1.8" stroke-linecap="round" stroke-linejoin="round"/>
<path d="M629.9 491.1 L634.0 497.6 L638.7 505.2 L643.4 513.4" fill="none" stroke="#333" stroke-width="1.6" stroke-linecap="round" stroke-linejoin="round"/>
<path d="M598.8 290.5 L600.5 289.9 L602.1 290.2 L603.5 290.9 L605.0 291.8 L606.3 293.3 L607.6 294.7 L608.0 296.8 L607.8 298.4 L607.5 300.1 L607.2 301.7 L607.0 303.4 L606.4 305.0 L607.0 306.8 L606.6 308.3 L608.1 309.7 L607.9 311.2 L608.3 312.7 L608.0 314.2 L606.4 315.4 L604.5 315.5 L603.4 314.3 L602.3 313.0 L601.2 311.8 L601.2 310.1 L599.8 308.8 L599.7 307.2 L600.0 305.5 L599.2 303.8 L598.2 302.2 L597.5 300.5 L597.5 298.9 L597.7 297.4 L597.5 295.8 L598.0 294.2 L598.7 292.4 L598.8 290.5Z" fill="#333"/>
<path d="M564.3 266.8a0.7 0.7 0 1 0 1.5 0a0.7 0.7 0 1 0 -1.5 0M562.9 270.0a0.5 0.5 0 1 0 1.1 0a0.5 0.5 0 1 0 -1.1 0M563.5 263.1a0.8 0.8 0 1 0 1.5 0a0.8 0.8 0 1 0 -1.5 0M564.5 264.2a0.3 0.3 0 1 0 0.7 0a0.3 0.3 0 1 0 -0.7 0M562.2 268.2a0.7 0.7 0 1 0 1.5 0a0.7 0.7 0 1 0 -1.5 0M565.2 265.9a0.3 0.3 0 1 0 0.6 0a0.3 0.3 0 1 0 -0.6 0M565.7 268.9a0.7 0.7 0 1 0 1.4 0a0.7 0.7 0 1 0 -1.4 0M564.5 265.6a0.5 0.5 0 1 0 0.9 0a0.5 0.5 0 1 0 -0.9 0M561.7 264.1a0.6 0.6 0 1 0 1.2 0a0.6 0.6 0 1 0 -1.2 0M563.9 271.0a0.4 0.4 0 1 0 0.8 0a0.4 0.4 0 1 0 -0.8 0M566.5 273.0a0.3 0.3 0 1 0 0.6 0a0.3 0.3 0 1 0 -0.6 0M563.1 262.3a0.9 0.9 0 1 0 1.8 0a0.9 0.9 0 1 0 -1.8 0M564.8 265.0a0.4 0.4 0 1 0 0.9 0a0.4 0.4 0 1 0 -0.9 0M564.2 268.7a0.6 0.6 0 1 0 1.3 0a0.6 0.6 0 1 0 -1.3 0M563.3 269.0a0.9 0.9 0 1 0 1.7 0a0.9 0.9 0 1 0 -1.7 0M565.4 270.2a0.6 0.6 0 1 0 1.2 0a0.6 0.6 0 1 0 -1.2 0" fill="#333"/>
<path d="M534.4 215.4a0.4 0.4 0 1 0 0.9 0a0.4 0.4 0 1 0 -0.9 0M532.2 214.8a0.3 0.3 0 1 0 0.6 0a0.3 0.3 0 1 0 -0.6 0M532.2 215.3a0.6 0.6 0 1 0 1.1 0a0.6 0.6 0 1 0 -1.1 0M533.0 212.6a0.5 0.5 0 1 0 1.0 0a0.5 0.5 0 1 0 -1.0 0M533.7 211.5a0.3 0.3 0 1 0 0.6 0a0.3 0.3 0 1 0 -0.6 0M534.9 213.0a0.4 0.4 0 1 0 0.7 0a0.4 0.4 0 1 0 -0.7 0M530.7 215.8a0.8 0.8 0 1 0 1.7 0a0.8 0.8 0 1 0 -1.7 0M532.3 212.5a0.5 0.5 0 1 0 1.1 0a0.5 0.5 0 1 0 -1.1 0" fill="#333"/>
<path d="M441.6 178.1a0.5 0.5 0 1 0 1.0 0a0.5 0.5 0 1 0 -1.0 0M443.7 172.1a0.3 0.3 0 1 0 0.7 0a0.3 0.3 0 1 0 -0.7 0M440.7 178.2a0.5 0.5 0 1 0 0.9 0a0.5 0.5 0 1 0 -0.9 0M442.8 176.5a0.5 0.5 0 1 0 0.9 0a0.5 0.5 0 1 0 -0.9 0M443.1 172.1a0.5 0.5 0 1 0 1.0 0a0.5 0.5 0 1 0 -1.0 0M439.3 179.2a0.8 0.8 0 1 0 1.6 0a0.8 0.8 0 1 0 -1.6 0M443.7 169.7a0.9 0.9 0 1 0 1.7 0a0.9 0.9 0 1 0 -1.7 0M443.0 169.0a0.3 0.3 0 1 0 0.7 0a0.3 0.3 0 1 0 -0.7 0M441.9 173.4a0.8 0.8 0 1 0 1.5 0a0.8 0.8 0 1 0 -1.5 0M442.2 172.0a0.3 0.3 0 1 0 0.7 0a0.3 0.3 0 1 0 -0.7 0M441.0 174.8a0.6 0.6 0 1 0 1.2 0a0.6 0.6 0 1 0 -1.2 0M442.7 172.6a0.7 0.7 0 1 0 1.5 0a0.7 0.7 0 1 0 -1.5 0M442.0 176.5a0.7 0.7 0 1 0 1.4 0a0.7 0.7 0 1 0 -1.4 0M442.9 172.9a0.5 0.5 0 1 0 1.1 0a0.5 0.5 0 1 0 -1.1 0" fill="#333"/>
<path d="M757.8 668.9 L759.2 669.7 L760.8 669.7 L762.3 670.1 L763.8 670.4 L765.4 670.5 L766.8 671.7 L768.6 670.9 L770.2 671.5 L771.7 671.8 L772.3 673.7 L774.7 673.2 L775.7 674.7 L776.8 675.9 L777.7 677.6 L778.6 679.3 L779.6 680.9 L778.5 682.2 L777.8 683.7 L776.8 685.0 L775.2 684.7 L773.6 684.6 L772.1 684.1 L770.5 684.2 L768.4 683.9 L766.9 682.5 L765.4 681.2 L764.4 679.9 L763.2 678.9 L762.2 677.6 L761.6 676.1 L760.9 674.7 L759.7 673.7 L759.0 672.3 L758.6 670.5 L757.8 668.9Z" fill="#2f2f2f"/>
<path d="M769.9 678.4a0.7 0.7 0 1 0 1.4 0a0.7 0.7 0 1 0 -1.4 0M769.6 679.3a0.6 0.6 0 1 0 1.1 0a0.6 0.6 0 1 0 -1.1 0M770.5 676.8a0.4 0.4 0 1 0 0.8 0a0.4 0.4 0 1 0 -0.8 0M768.0 678.5a0.5 0.5 0 1 0 1.0 0a0.5 0.5 0 1 0 -1.0 0M772.8 678.5a0.6 0.6 0 1 0 1.3 0a0.6 0.6 0 1 0 -1.3 0M769.3 677.4a0.6 0.6 0 1 0 1.2 0a0.6 0.6 0 1 0 -1.2 0M771.3 677.1a0.5 0.5 0 1 0 1.1 0a0.5 0.5 0 1 0 -1.1 0M770.6 678.2a0.7 0.7 0 1 0 1.3 0a0.7 0.7 0 1 0 -1.3 0M772.2 675.5a0.7 0.7 0 1 0 1.4 0a0.7 0.7 0 1 0 -1.4 0M768.7 677.7a0.4 0.4 0 1 0 0.7 0a0.4 0.4 0 1 0 -0.7 0M766.3 674.8a0.7 0.7 0 1 0 1.4 0a0.7 0.7 0 1 0 -1.4 0M769.9 674.6a0.6 0.6 0 1 0 1.2 0a0.6 0.6 0 1 0 -1.2 0" fill="#fff"/>
<path d="M814.3 698.1a0.5 0.5 0 1 0 1.0 0a0.5 0.5 0 1 0 -1.0 0M833.1 679.9a0.5 0.5 0 1 0 1.1 0a0.5 0.5 0 1 0 -1.1 0M824.1 693.7a0.7 0.7 0 1 0 1.4 0a0.7 0.7 0 1 0 -1.4 0M821.3 689.9a0.4 0.4 0 1 0 0.7 0a0.4 0.4 0 1 0 -0.7 0M802.7 699.2a1.0 1.0 0 1 0 1.9 0a1.0 1.0 0 1 0 -1.9 0M814.0 690.9a0.8 0.8 0 1 0 1.7 0a0.8 0.8 0 1 0 -1.7 0M803.0 688.9a0.6 0.6 0 1 0 1.3 0a0.6 0.6 0 1 0 -1.3 0M797.0 706.0a0.4 0.4 0 1 0 0.7 0a0.4 0.4 0 1 0 -0.7 0M805.3 697.5a0.9 0.9 0 1 0 1.8 0a0.9 0.9 0 1 0 -1.8 0M827.7 686.9a0.6 0.6 0 1 0 1.1 0a0.6 0.6 0 1 0 -1.1 0M829.6 679.3a0.6 0.6 0 1 0 1.1 0a0.6 0.6 0 1 0 -1.1 0M833.6 676.9a0.6 0.6 0 1 0 1.3 0a0.6 0.6 0 1 0 -1.3 0M826.0 698.2a0.5 0.5 0 1 0 1.0 0a0.5 0.5 0 1 0 -1.0 0M833.6 672.8a0.6 0.6 0 1 0 1.3 0a0.6 0.6 0 1 0 -1.3 0M832.6 682.2a1.0 1.0 0 1 0 2.0 0a1.0 1.0 0 1 0 -2.0 0M806.1 691.2a0.4 0.4 0 1 0 0.7 0a0.4 0.4 0 1 0 -0.7 0M824.5 686.4a0.5 0.5 0 1 0 0.9 0a0.5 0.5 0 1 0 -0.9 0M782.3 691.8a0.4 0.4 0 1 0 0.9 0a0.4 0.4 0 1 0 -0.9 0M832.4 674.3a0.9 0.9 0 1 0 1.9 0a0.9 0.9 0 1 0 -1.9 0M810.6 687.3a1.0 1.0 0 1 0 2.0 0a1.0 1.0 0 1 0 -2.0 0M794.1 696.2a0.6 0.6 0 1 0 1.3 0a0.6 0.6 0 1 0 -1.3 0M830.5 687.1a0.4 0.4 0 1 0 0.8 0a0.4 0.4 0 1 0 -0.8 0M832.3 674.3a0.6 0.6 0 1 0 1.2 0a0.6 0.6 0 1 0 -1.2 0M795.5 716.5a0.9 0.9 0 1 0 1.7 0a0.9 0.9 0 1 0 -1.7 0M804.5 693.9a1.0 1.0 0 1 0 2.0 0a1.0 1.0 0 1 0 -2.0 0M824.5 699.5a0.7 0.7 0 1 0 1.4 0a0.7 0.7 0 1 0 -1.4 0M834.4 682.0a0.7 0.7 0 1 0 1.3 0a0.7 0.7 0 1 0 -1.3 0M816.4 708.1a0.9 0.9 0 1 0 1.7 0a0.9 0.9 0 1 0 -1.7 0M830.2 686.3a0.6 0.6 0 1 0 1.1 0a0.6 0.6 0 1 0 -1.1 0M807.3 709.4a0.9 0.9 0 1 0 1.8 0a0.9 0.9 0 1 0 -1.8 0M800.6 690.4a0.6 0.6 0 1 0 1.2 0a0.6 0.6 0 1 0 -1.2 0M835.7 679.6a0.4 0.4 0 1 0 0.8 0a0.4 0.4 0 1 0 -0.8 0M786.8 695.8a0.5 0.5 0 1 0 1.0 0a0.5 0.5 0 1 0 -1.0 0M810.1 700.7a0.9 0.9 0 1 0 1.9 0a0.9 0.9 0 1 0 -1.9 0M824.5 681.9a0.7 0.7 0 1 0 1.5 0a0.7 0.7 0 1 0 -1.5 0M808.2 707.5a0.5 0.5 0 1 0 1.0 0a0.5 0.5 0 1 0 -1.0 0M784.9 708.0a0.6 0.6 0 1 0 1.3 0a0.6 0.6 0 1 0 -1.3 0M834.5 676.0a0.8 0.8 0 1 0 1.6 0a0.8 0.8 0 1 0 -1.6 0M832.6 672.2a0.9 0.9 0 1 0 1.9 0a0.9 0.9 0 1 0 -1.9 0M831.9 674.2a0.5 0.5 0 1 0 1.0 0a0.5 0.5 0 1 0 -1.0 0M834.3 676.4a1.0 1.0 0 1 0 1.9 0a1.0 1.0 0 1 0 -1.9 0M813.0 689.6a0.4 0.4 0 1 0 0.8 0a0.4 0.4 0 1 0 -0.8 0M822.2 694.1a0.4 0.4 0 1 0 0.9 0a0.4 0.4 0 1 0 -0.9 0M795.3 693.5a0.5 0.5 0 1 0 1.0 0a0.5 0.5 0 1 0 -1.0 0M783.0 691.0a0.6 0.6 0 1 0 1.1 0a0.6 0.6 0 1 0 -1.1 0M789.5 709.0a0.4 0.4 0 1 0 0.8 0a0.4 0.4 0 1 0 -0.8 0M809.4 699.9a0.5 0.5 0 1 0 0.9 0a0.5 0.5 0 1 0 -0.9 0M825.2 685.9a1.0 1.0 0 1 0 2.0 0a1.0 1.0 0 1 0 -2.0 0M802.5 703.1a1.0 1.0 0 1 0 1.9 0a1.0 1.0 0 1 0 -1.9 0M834.8 674.5a0.5 0.5 0 1 0 1.0 0a0.5 0.5 0 1 0 -1.0 0M777.7 696.3a0.6 0.6 0 1 0 1.3 0a0.6 0.6 0 1 0 -1.3 0M831.7 678.9a0.7 0.7 0 1 0 1.5 0a0.7 0.7 0 1 0 -1.5 0M825.0 698.6a0.6 0.6 0 1 0 1.2 0a0.6 0.6 0 1 0 -1.2 0M815.4 688.0a1.0 1.0 0 1 0 2.0 0a1.0 1.0 0 1 0 -2.0 0M788.2 695.5a0.5 0.5 0 1 0 1.0 0a0.5 0.5 0 1 0 -1.0 0M783.8 707.5a0.4 0.4 0 1 0 0.8 0a0.4 0.4 0 1 0 -0.8 0M832.9 676.0a0.9 0.9 0 1 0 1.9 0a0.9 0.9 0 1 0 -1.9 0M786.8 706.5a0.9 0.9 0 1 0 1.9 0a0.9 0.9 0 1 0 -1.9 0M829.6 678.2a0.7 0.7 0 1 0 1.4 0a0.7 0.7 0 1 0 -1.4 0M808.1 690.0a1.0 1.0 0 1 0 2.0 0a1.0 1.0 0 1 0 -2.0 0M782.8 694.5a0.9 0.9 0 1 0 1.9 0a0.9 0.9 0 1 0 -1.9 0M786.3 699.0a0.6 0.6 0 1 0 1.1 0a0.6 0.6 0 1 0 -1.1 0M810.3 700.5a0.7 0.7 0 1 0 1.3 0a0.7 0.7 0 1 0 -1.3 0M811.5 686.5a0.5 0.5 0 1 0 1.0 0a0.5 0.5 0 1 0 -1.0 0M828.2 690.0a0.7 0.7 0 1 0 1.4 0a0.7 0.7 0 1 0 -1.4 0M790.5 691.3a0.7 0.7 0 1 0 1.3 0a0.7 0.7 0 1 0 -1.3 0M815.8 685.6a0.9 0.9 0 1 0 1.7 0a0.9 0.9 0 1 0 -1.7 0M829.1 684.5a0.6 0.6 0 1 0 1.2 0a0.6 0.6 0 1 0 -1.2 0M833.6 672.1a0.9 0.9 0 1 0 1.7 0a0.9 0.9 0 1 0 -1.7 0M829.3 678.2a1.0 1.0 0 1 0 2.0 0a1.0 1.0 0 1 0 -2.0 0M832.5 673.6a0.4 0.4 0 1 0 0.8 0a0.4 0.4 0 1 0 -0.8 0M807.2 709.7a0.5 0.5 0 1 0 1.1 0a0.5 0.5 0 1 0 -1.1 0M828.1 677.7a0.5 0.5 0 1 0 1.0 0a0.5 0.5 0 1 0 -1.0 0M798.4 701.0a0.5 0.5 0 1 0 1.0 0a0.5 0.5 0 1 0 -1.0 0M784.7 709.3a0.5 0.5 0 1 0 0.9 0a0.5 0.5 0 1 0 -0.9 0M827.5 678.3a0.6 0.6 0 1 0 1.2 0a0.6 0.6 0 1 0 -1.2 0M830.9 680.0a0.4 0.4 0 1 0 0.8 0a0.4 0.4 0 1 0 -0.8 0M834.2 676.8a0.5 0.5 0 1 0 1.1 0a0.5 0.5 0 1 0 -1.1 0M834.1 676.5a0.7 0.7 0 1 0 1.3 0a0.7 0.7 0 1 0 -1.3 0M789.6 706.1a0.5 0.5 0 1 0 1.1 0a0.5 0.5 0 1 0 -1.1 0M823.9 699.8a0.6 0.6 0 1 0 1.1 0a0.6 0.6 0 1 0 -1.1 0M784.2 690.2a0.7 0.7 0 1 0 1.3 0a0.7 0.7 0 1 0 -1.3 0M817.6 705.4a0.8 0.8 0 1 0 1.6 0a0.8 0.8 0 1 0 -1.6 0M785.3 689.9a0.6 0.6 0 1 0 1.2 0a0.6 0.6 0 1 0 -1.2 0M793.1 703.1a0.8 0.8 0 1 0 1.6 0a0.8 0.8 0 1 0 -1.6 0M814.6 687.6a0.5 0.5 0 1 0 0.9 0a0.5 0.5 0 1 0 -0.9 0M785.8 698.1a0.6 0.6 0 1 0 1.3 0a0.6 0.6 0 1 0 -1.3 0M800.8 688.9a0.6 0.6 0 1 0 1.2 0a0.6 0.6 0 1 0 -1.2 0M825.0 687.6a0.5 0.5 0 1 0 1.0 0a0.5 0.5 0 1 0 -1.0 0M831.1 674.1a0.5 0.5 0 1 0 1.0 0a0.5 0.5 0 1 0 -1.0 0M782.1 698.7a1.0 1.0 0 1 0 2.0 0a1.0 1.0 0 1 0 -2.0 0M791.9 692.0a0.8 0.8 0 1 0 1.6 0a0.8 0.8 0 1 0 -1.6 0M829.2 678.5a0.4 0.4 0 1 0 0.8 0a0.4 0.4 0 1 0 -0.8 0M832.4 682.9a0.9 0.9 0 1 0 1.9 0a0.9 0.9 0 1 0 -1.9 0M827.5 684.2a0.5 0.5 0 1 0 1.0 0a0.5 0.5 0 1 0 -1.0 0M790.1 692.6a0.9 0.9 0 1 0 1.7 0a0.9 0.9 0 1 0 -1.7 0M826.2 693.8a0.7 0.7 0 1 0 1.5 0a0.7 0.7 0 1 0 -1.5 0M811.7 706.0a0.8 0.8 0 1 0 1.6 0a0.8 0.8 0 1 0 -1.6 0M833.5 673.5a0.5 0.5 0 1 0 1.1 0a0.5 0.5 0 1 0 -1.1 0M793.8 708.3a0.6 0.6 0 1 0 1.2 0a0.6 0.6 0 1 0 -1.2 0M831.3 678.5a0.8 0.8 0 1 0 1.6 0a0.8 0.8 0 1 0 -1.6 0M826.3 690.3a0.9 0.9 0 1 0 1.9 0a0.9 0.9 0 1 0 -1.9 0M825.6 694.6a0.7 0.7 0 1 0 1.5 0a0.7 0.7 0 1 0 -1.5 0M803.0 692.3a1.0 1.0 0 1 0 2.0 0a1.0 1.0 0 1 0 -2.0 0M794.7 691.0a0.6 0.6 0 1 0 1.2 0a0.6 0.6 0 1 0 -1.2 0M794.2 690.5a0.8 0.8 0 1 0 1.6 0a0.8 0.8 0 1 0 -1.6 0M826.9 692.0a0.6 0.6 0 1 0 1.2 0a0.6 0.6 0 1 0 -1.2 0M830.3 687.6a1.0 1.0 0 1 0 1.9 0a1.0 1.0 0 1 0 -1.9 0M834.2 684.2a0.4 0.4 0 1 0 0.9 0a0.4 0.4 0 1 0 -0.9 0M780.1 697.1a0.9 0.9 0 1 0 1.9 0a0.9 0.9 0 1 0 -1.9 0M823.4 685.9a0.9 0.9 0 1 0 1.8 0a0.9 0.9 0 1 0 -1.8 0M795.2 695.5a0.5 0.5 0 1 0 1.1 0a0.5 0.5 0 1 0 -1.1 0M798.4 708.2a1.0 1.0 0 1 0 2.0 0a1.0 1.0 0 1 0 -2.0 0M816.7 704.2a0.6 0.6 0 1 0 1.3 0a0.6 0.6 0 1 0 -1.3 0M811.7 706.2a0.7 0.7 0 1 0 1.5 0a0.7 0.7 0 1 0 -1.5 0M790.2 712.7a0.5 0.5 0 1 0 0.9 0a0.5 0.5 0 1 0 -0.9 0M783.5 689.0a0.4 0.4 0 1 0 0.7 0a0.4 0.4 0 1 0 -0.7 0M815.5 694.7a0.7 0.7 0 1 0 1.4 0a0.7 0.7 0 1 0 -1.4 0M806.3 713.0a0.5 0.5 0 1 0 1.1 0a0.5 0.5 0 1 0 -1.1 0M791.0 706.6a0.8 0.8 0 1 0 1.6 0a0.8 0.8 0 1 0 -1.6 0M782.3 699.7a0.8 0.8 0 1 0 1.6 0a0.8 0.8 0 1 0 -1.6 0M806.2 697.4a0.4 0.4 0 1 0 0.8 0a0.4 0.4 0 1 0 -0.8 0M830.9 674.9a1.0 1.0 0 1 0 2.0 0a1.0 1.0 0 1 0 -2.0 0M816.2 691.8a0.7 0.7 0 1 0 1.3 0a0.7 0.7 0 1 0 -1.3 0M818.5 699.3a0.6 0.6 0 1 0 1.2 0a0.6 0.6 0 1 0 -1.2 0M805.1 690.3a0.9 0.9 0 1 0 1.7 0a0.9 0.9 0 1 0 -1.7 0M792.1 696.9a0.4 0.4 0 1 0 0.9 0a0.4 0.4 0 1 0 -0.9 0M814.1 708.2a0.6 0.6 0 1 0 1.1 0a0.6 0.6 0 1 0 -1.1 0M826.9 694.0a0.5 0.5 0 1 0 1.0 0a0.5 0.5 0 1 0 -1.0 0M805.1 701.6a0.5 0.5 0 1 0 1.0 0a0.5 0.5 0 1 0 -1.0 0M835.8 678.9a0.4 0.4 0 1 0 0.8 0a0.4 0.4 0 1 0 -0.8 0M809.1 715.0a0.7 0.7 0 1 0 1.3 0a0.7 0.7 0 1 0 -1.3 0M791.4 704.0a0.6 0.6 0 1 0 1.2 0a0.6 0.6 0 1 0 -1.2 0M784.1 691.9a0.7 0.7 0 1 0 1.4 0a0.7 0.7 0 1 0 -1.4 0M824.1 689.4a0.6 0.6 0 1 0 1.3 0a0.6 0.6 0 1 0 -1.3 0M827.2 693.8a0.9 0.9 0 1 0 1.7 0a0.9 0.9 0 1 0 -1.7 0M810.4 689.7a0.9 0.9 0 1 0 1.8 0a0.9 0.9 0 1 0 -1.8 0M826.2 693.4a0.7 0.7 0 1 0 1.3 0a0.7 0.7 0 1 0 -1.3 0M803.2 705.1a0.9 0.9 0 1 0 1.8 0a0.9 0.9 0 1 0 -1.8 0M826.6 689.4a0.7 0.7 0 1 0 1.3 0a0.7 0.7 0 1 0 -1.3 0M822.8 687.2a0.5 0.5 0 1 0 1.0 0a0.5 0.5 0 1 0 -1.0 0M824.0 694.8a1.0 1.0 0 1 0 2.1 0a1.0 1.0 0 1 0 -2.1 0M783.2 695.0a1.0 1.0 0 1 0 2.0 0a1.0 1.0 0 1 0 -2.0 0M816.0 686.0a0.9 0.9 0 1 0 1.7 0a0.9 0.9 0 1 0 -1.7 0M817.3 697.4a0.6 0.6 0 1 0 1.3 0a0.6 0.6 0 1 0 -1.3 0M832.4 673.6a0.9 0.9 0 1 0 1.8 0a0.9 0.9 0 1 0 -1.8 0M782.1 708.4a0.5 0.5 0 1 0 1.1 0a0.5 0.5 0 1 0 -1.1 0M808.8 687.6a0.8 0.8 0 1 0 1.7 0a0.8 0.8 0 1 0 -1.7 0M806.3 693.9a1.0 1.0 0 1 0 2.0 0a1.0 1.0 0 1 0 -2.0 0M817.7 687.4a0.5 0.5 0 1 0 1.0 0a0.5 0.5 0 1 0 -1.0 0M785.6 703.1a0.7 0.7 0 1 0 1.4 0a0.7 0.7 0 1 0 -1.4 0M819.8 686.8a0.8 0.8 0 1 0 1.6 0a0.8 0.8 0 1 0 -1.6 0M830.0 687.7a0.7 0.7 0 1 0 1.5 0a0.7 0.7 0 1 0 -1.5 0M783.9 705.6a0.5 0.5 0 1 0 1.1 0a0.5 0.5 0 1 0 -1.1 0M808.0 692.4a0.4 0.4 0 1 0 0.7 0a0.4 0.4 0 1 0 -0.7 0M826.3 683.0a0.7 0.7 0 1 0 1.4 0a0.7 0.7 0 1 0 -1.4 0M810.9 701.1a1.0 1.0 0 1 0 2.0 0a1.0 1.0 0 1 0 -2.0 0M830.4 674.8a0.9 0.9 0 1 0 1.8 0a0.9 0.9 0 1 0 -1.8 0M785.5 705.8a0.4 0.4 0 1 0 0.7 0a0.4 0.4 0 1 0 -0.7 0M834.1 678.6a0.4 0.4 0 1 0 0.9 0a0.4 0.4 0 1 0 -0.9 0M791.8 710.0a1.0 1.0 0 1 0 2.0 0a1.0 1.0 0 1 0 -2.0 0M828.7 678.3a0.9 0.9 0 1 0 1.8 0a0.9 0.9 0 1 0 -1.8 0M826.0 695.5a0.5 0.5 0 1 0 1.0 0a0.5 0.5 0 1 0 -1.0 0M825.4 687.2a1.0 1.0 0 1 0 1.9 0a1.0 1.0 0 1 0 -1.9 0M819.1 688.1a0.7 0.7 0 1 0 1.4 0a0.7 0.7 0 1 0 -1.4 0M785.2 694.7a0.7 0.7 0 1 0 1.4 0a0.7 0.7 0 1 0 -1.4 0M820.1 702.5a0.7 0.7 0 1 0 1.4 0a0.7 0.7 0 1 0 -1.4 0M820.5 695.7a0.6 0.6 0 1 0 1.3 0a0.6 0.6 0 1 0 -1.3 0M832.8 672.3a0.4 0.4 0 1 0 0.7 0a0.4 0.4 0 1 0 -0.7 0M822.7 694.2a1.0 1.0 0 1 0 2.1 0a1.0 1.0 0 1 0 -2.1 0M816.6 694.0a0.9 0.9 0 1 0 1.7 0a0.9 0.9 0 1 0 -1.7 0M823.6 686.5a0.7 0.7 0 1 0 1.4 0a0.7 0.7 0 1 0 -1.4 0M818.2 701.3a0.6 0.6 0 1 0 1.3 0a0.6 0.6 0 1 0 -1.3 0M819.9 701.5a0.6 0.6 0 1 0 1.3 0a0.6 0.6 0 1 0 -1.3 0M814.5 689.6a0.8 0.8 0 1 0 1.6 0a0.8 0.8 0 1 0 -1.6 0M828.3 681.2a0.8 0.8 0 1 0 1.5 0a0.8 0.8 0 1 0 -1.5 0M824.5 695.8a1.0 1.0 0 1 0 1.9 0a1.0 1.0 0 1 0 -1.9 0M818.5 685.0a0.5 0.5 0 1 0 1.0 0a0.5 0.5 0 1 0 -1.0 0M832.2 678.4a1.0 1.0 0 1 0 2.0 0a1.0 1.0 0 1 0 -2.0 0M822.1 692.3a0.8 0.8 0 1 0 1.5 0a0.8 0.8 0 1 0 -1.5 0M824.5 682.4a0.9 0.9 0 1 0 1.8 0a0.9 0.9 0 1 0 -1.8 0M790.5 691.9a1.0 1.0 0 1 0 2.0 0a1.0 1.0 0 1 0 -2.0 0M824.7 685.4a0.7 0.7 0 1 0 1.5 0a0.7 0.7 0 1 0 -1.5 0M798.9 695.4a0.7 0.7 0 1 0 1.3 0a0.7 0.7 0 1 0 -1.3 0M825.3 699.0a0.4 0.4 0 1 0 0.8 0a0.4 0.4 0 1 0 -0.8 0M783.3 703.3a0.7 0.7 0 1 0 1.3 0a0.7 0.7 0 1 0 -1.3 0M781.5 691.2a1.0 1.0 0 1 0 2.1 0a1.0 1.0 0 1 0 -2.1 0M815.1 694.0a0.5 0.5 0 1 0 1.0 0a0.5 0.5 0 1 0 -1.0 0M795.2 690.2a0.4 0.4 0 1 0 0.9 0a0.4 0.4 0 1 0 -0.9 0M833.6 672.5a0.4 0.4 0 1 0 0.7 0a0.4 0.4 0 1 0 -0.7 0M826.5 681.8a0.4 0.4 0 1 0 0.8 0a0.4 0.4 0 1 0 -0.8 0M829.5 687.5a0.4 0.4 0 1 0 0.8 0a0.4 0.4 0 1 0 -0.8 0M822.7 694.4a0.5 0.5 0 1 0 1.1 0a0.5 0.5 0 1 0 -1.1 0M834.2 678.5a0.8 0.8 0 1 0 1.6 0a0.8 0.8 0 1 0 -1.6 0M828.9 677.8a0.5 0.5 0 1 0 0.9 0a0.5 0.5 0 1 0 -0.9 0M831.4 680.3a0.8 0.8 0 1 0 1.5 0a0.8 0.8 0 1 0 -1.5 0M812.9 703.1a0.6 0.6 0 1 0 1.2 0a0.6 0.6 0 1 0 -1.2 0M823.6 691.9a0.9 0.9 0 1 0 1.8 0a0.9 0.9 0 1 0 -1.8 0M833.9 680.1a0.4 0.4 0 1 0 0.8 0a0.4 0.4 0 1 0 -0.8 0M834.6 677.5a0.8 0.8 0 1 0 1.5 0a0.8 0.8 0 1 0 -1.5 0M834.5 678.9a0.6 0.6 0 1 0 1.3 0a0.6 0.6 0 1 0 -1.3 0M831.1 677.0a1.0 1.0 0 1 0 2.0 0a1.0 1.0 0 1 0 -2.0 0M829.4 679.6a0.6 0.6 0 1 0 1.3 0a0.6 0.6 0 1 0 -1.3 0M821.6 698.6a0.9 0.9 0 1 0 1.9 0a0.9 0.9 0 1 0 -1.9 0M829.7 688.8a0.9 0.9 0 1 0 1.9 0a0.9 0.9 0 1 0 -1.9 0M830.4 685.7a0.4 0.4 0 1 0 0.8 0a0.4 0.4 0 1 0 -0.8 0M819.9 700.7a1.0 1.0 0 1 0 2.0 0a1.0 1.0 0 1 0 -2.0 0M794.2 703.5a0.5 0.5 0 1 0 1.0 0a0.5 0.5 0 1 0 -1.0 0M795.7 708.5a0.4 0.4 0 1 0 0.8 0a0.4 0.4 0 1 0 -0.8 0M829.7 688.2a1.0 1.0 0 1 0 2.0 0a1.0 1.0 0 1 0 -2.0 0M831.4 679.6a0.5 0.5 0 1 0 1.0 0a0.5 0.5 0 1 0 -1.0 0M795.5 691.9a0.7 0.7 0 1 0 1.5 0a0.7 0.7 0 1 0 -1.5 0M809.5 698.9a1.0 1.0 0 1 0 2.1 0a1.0 1.0 0 1 0 -2.1 0M807.5 688.4a0.5 0.5 0 1 0 0.9 0a0.5 0.5 0 1 0 -0.9 0M821.9 687.9a0.4 0.4 0 1 0 0.7 0a0.4 0.4 0 1 0 -0.7 0M834.7 679.0a0.5 0.5 0 1 0 1.1 0a0.5 0.5 0 1 0 -1.1 0M828.9 682.5a0.9 0.9 0 1 0 1.8 0a0.9 0.9 0 1 0 -1.8 0M833.8 674.0a0.5 0.5 0 1 0 1.0 0a0.5 0.5 0 1 0 -1.0 0M788.6 689.9a0.7 0.7 0 1 0 1.3 0a0.7 0.7 0 1 0 -1.3 0M835.0 682.0a0.6 0.6 0 1 0 1.3 0a0.6 0.6 0 1 0 -1.3 0M782.1 708.1a0.8 0.8 0 1 0 1.6 0a0.8 0.8 0 1 0 -1.6 0M833.8 678.7a0.5 0.5 0 1 0 0.9 0a0.5 0.5 0 1 0 -0.9 0M835.2 681.9a0.5 0.5 0 1 0 1.1 0a0.5 0.5 0 1 0 -1.1 0M807.7 713.8a0.4 0.4 0 1 0 0.8 0a0.4 0.4 0 1 0 -0.8 0M828.5 686.3a0.4 0.4 0 1 0 0.8 0a0.4 0.4 0 1 0 -0.8 0M787.3 703.9a0.6 0.6 0 1 0 1.1 0a0.6 0.6 0 1 0 -1.1 0M822.4 697.3a0.5 0.5 0 1 0 1.1 0a0.5 0.5 0 1 0 -1.1 0M789.0 697.4a0.5 0.5 0 1 0 0.9 0a0.5 0.5 0 1 0 -0.9 0M825.0 680.6a0.4 0.4 0 1 0 0.8 0a0.4 0.4 0 1 0 -0.8 0M833.0 674.4a1.0 1.0 0 1 0 1.9 0a1.0 1.0 0 1 0 -1.9 0M790.6 697.6a0.9 0.9 0 1 0 1.9 0a0.9 0.9 0 1 0 -1.9 0M822.9 689.6a0.7 0.7 0 1 0 1.4 0a0.7 0.7 0 1 0 -1.4 0M823.1 683.9a0.8 0.8 0 1 0 1.7 0a0.8 0.8 0 1 0 -1.7 0M819.2 685.6a0.6 0.6 0 1 0 1.3 0a0.6 0.6 0 1 0 -1.3 0M793.1 693.4a0.5 0.5 0 1 0 0.9 0a0.5 0.5 0 1 0 -0.9 0M815.0 690.8a1.0 1.0 0 1 0 2.1 0a1.0 1.0 0 1 0 -2.1 0M780.4 700.0a0.7 0.7 0 1 0 1.4 0a0.7 0.7 0 1 0 -1.4 0M801.5 694.2a1.0 1.0 0 1 0 2.1 0a1.0 1.0 0 1 0 -2.1 0M835.6 679.4a1.0 1.0 0 1 0 2.0 0a1.0 1.0 0 1 0 -2.0 0M782.3 699.1a0.4 0.4 0 1 0 0.7 0a0.4 0.4 0 1 0 -0.7 0M828.8 680.4a0.9 0.9 0 1 0 1.9 0a0.9 0.9 0 1 0 -1.9 0M816.4 687.8a0.5 0.5 0 1 0 1.0 0a0.5 0.5 0 1 0 -1.0 0M820.1 686.1a0.8 0.8 0 1 0 1.7 0a0.8 0.8 0 1 0 -1.7 0M797.2 691.0a0.7 0.7 0 1 0 1.4 0a0.7 0.7 0 1 0 -1.4 0M800.2 692.2a0.9 0.9 0 1 0 1.8 0a0.9 0.9 0 1 0 -1.8 0M821.5 686.2a0.6 0.6 0 1 0 1.3 0a0.6 0.6 0 1 0 -1.3 0M826.0 679.4a0.9 0.9 0 1 0 1.9 0a0.9 0.9 0 1 0 -1.9 0M832.3 680.2a0.7 0.7 0 1 0 1.4 0a0.7 0.7 0 1 0 -1.4 0M831.4 677.9a0.6 0.6 0 1 0 1.2 0a0.6 0.6 0 1 0 -1.2 0M792.1 695.9a0.7 0.7 0 1 0 1.4 0a0.7 0.7 0 1 0 -1.4 0M812.9 697.9a0.9 0.9 0 1 0 1.8 0a0.9 0.9 0 1 0 -1.8 0M830.6 677.4a0.9 0.9 0 1 0 1.8 0a0.9 0.9 0 1 0 -1.8 0M781.5 700.2a0.7 0.7 0 1 0 1.4 0a0.7 0.7 0 1 0 -1.4 0M819.5 694.7a0.5 0.5 0 1 0 1.0 0a0.5 0.5 0 1 0 -1.0 0M795.9 692.0a0.4 0.4 0 1 0 0.7 0a0.4 0.4 0 1 0 -0.7 0M784.4 700.0a0.8 0.8 0 1 0 1.5 0a0.8 0.8 0 1 0 -1.5 0M820.4 692.0a1.0 1.0 0 1 0 1.9 0a1.0 1.0 0 1 0 -1.9 0M826.3 680.3a0.7 0.7 0 1 0 1.4 0a0.7 0.7 0 1 0 -1.4 0M801.4 691.0a0.8 0.8 0 1 0 1.5 0a0.8 0.8 0 1 0 -1.5 0M829.9 675.9a0.5 0.5 0 1 0 0.9 0a0.5 0.5 0 1 0 -0.9 0M830.3 689.7a0.9 0.9 0 1 0 1.9 0a0.9 0.9 0 1 0 -1.9 0M818.4 691.1a0.6 0.6 0 1 0 1.2 0a0.6 0.6 0 1 0 -1.2 0M796.0 696.7a0.9 0.9 0 1 0 1.8 0a0.9 0.9 0 1 0 -1.8 0M833.4 682.1a0.7 0.7 0 1 0 1.4 0a0.7 0.7 0 1 0 -1.4 0M834.6 682.0a0.8 0.8 0 1 0 1.6 0a0.8 0.8 0 1 0 -1.6 0M807.8 700.7a0.7 0.7 0 1 0 1.4 0a0.7 0.7 0 1 0 -1.4 0M785.3 690.1a1.0 1.0 0 1 0 2.0 0a1.0 1.0 0 1 0 -2.0 0M825.0 695.5a0.4 0.4 0 1 0 0.7 0a0.4 0.4 0 1 0 -0.7 0M823.5 684.7a0.7 0.7 0 1 0 1.5 0a0.7 0.7 0 1 0 -1.5 0M833.1 679.7a0.7 0.7 0 1 0 1.3 0a0.7 0.7 0 1 0 -1.3 0M833.0 675.3a0.4 0.4 0 1 0 0.9 0a0.4 0.4 0 1 0 -0.9 0M821.9 701.9a0.7 0.7 0 1 0 1.4 0a0.7 0.7 0 1 0 -1.4 0M818.0 686.7a0.6 0.6 0 1 0 1.1 0a0.6 0.6 0 1 0 -1.1 0M809.9 692.6a0.7 0.7 0 1 0 1.5 0a0.7 0.7 0 1 0 -1.5 0M830.2 682.6a0.5 0.5 0 1 0 1.0 0a0.5 0.5 0 1 0 -1.0 0M825.6 685.7a0.7 0.7 0 1 0 1.4 0a0.7 0.7 0 1 0 -1.4 0M803.8 693.7a0.6 0.6 0 1 0 1.2 0a0.6 0.6 0 1 0 -1.2 0M820.3 684.3a0.5 0.5 0 1 0 1.0 0a0.5 0.5 0 1 0 -1.0 0M819.4 693.8a0.6 0.6 0 1 0 1.1 0a0.6 0.6 0 1 0 -1.1 0M828.7 679.7a0.7 0.7 0 1 0 1.3 0a0.7 0.7 0 1 0 -1.3 0M785.3 693.7a0.4 0.4 0 1 0 0.9 0a0.4 0.4 0 1 0 -0.9 0M788.7 716.0a0.6 0.6 0 1 0 1.2 0a0.6 0.6 0 1 0 -1.2 0M805.6 705.1a0.9 0.9 0 1 0 1.8 0a0.9 0.9 0 1 0 -1.8 0M817.5 699.5a0.7 0.7 0 1 0 1.4 0a0.7 0.7 0 1 0 -1.4 0M829.0 687.4a1.0 1.0 0 1 0 1.9 0a1.0 1.0 0 1 0 -1.9 0M778.7 694.2a1.0 1.0 0 1 0 2.0 0a1.0 1.0 0 1 0 -2.0 0M820.4 689.2a0.8 0.8 0 1 0 1.6 0a0.8 0.8 0 1 0 -1.6 0M807.6 697.8a0.6 0.6 0 1 0 1.1 0a0.6 0.6 0 1 0 -1.1 0M808.5 700.6a0.9 0.9 0 1 0 1.8 0a0.9 0.9 0 1 0 -1.8 0M830.5 681.0a0.6 0.6 0 1 0 1.1 0a0.6 0.6 0 1 0 -1.1 0M788.3 699.8a1.0 1.0 0 1 0 2.0 0a1.0 1.0 0 1 0 -2.0 0M804.9 711.8a0.5 0.5 0 1 0 1.0 0a0.5 0.5 0 1 0 -1.0 0M811.7 710.8a0.7 0.7 0 1 0 1.5 0a0.7 0.7 0 1 0 -1.5 0M816.2 706.2a1.0 1.0 0 1 0 2.1 0a1.0 1.0 0 1 0 -2.1 0M817.0 694.1a0.6 0.6 0 1 0 1.2 0a0.6 0.6 0 1 0 -1.2 0M822.2 687.8a0.7 0.7 0 1 0 1.4 0a0.7 0.7 0 1 0 -1.4 0M787.5 694.8a0.8 0.8 0 1 0 1.5 0a0.8 0.8 0 1 0 -1.5 0M832.2 686.4a0.8 0.8 0 1 0 1.6 0a0.8 0.8 0 1 0 -1.6 0M833.6 673.4a0.5 0.5 0 1 0 0.9 0a0.5 0.5 0 1 0 -0.9 0M803.5 717.7a0.4 0.4 0 1 0 0.9 0a0.4 0.4 0 1 0 -0.9 0" fill="#333"/>
<path d="M850.5 648.6 L849.6 650.8 L849.9 653.3 L849.2 655.5 L848.0 657.3 L848.5 659.7 L846.5 661.1 L846.0 663.2 L845.2 665.4 L843.7 667.3 L842.8 669.5 L841.4 671.3 L840.3 673.3 L839.7 675.1 L838.4 676.5 L837.4 678.0 L836.5 679.7 L835.4 681.7 L835.1 684.0 L833.9 686.0 L833.3 688.1 L832.6 690.1 L830.3 691.3 L830.1 693.6 L828.9 695.4 L827.7 697.1 L826.3 698.7 L825.5 700.6 L823.5 701.7 L822.7 703.6 L821.2 705.1 L819.4 706.2 L818.0 707.9 L816.7 709.6 L815.0 711.0 L813.6 712.7 L812.4 714.2 L810.7 715.3 L809.2 716.6 L807.8 718.1 L806.0 719.0 L804.2 719.6 L802.4 720.2 L800.4 720.3 L799.1 722.4 L796.9 721.9 L795.2 723.3 L793.4 724.6 L791.5 725.8 L789.5 726.9" fill="none" stroke="#333" stroke-width="1.4" stroke-linecap="round" stroke-linejoin="round"/>
<path d="M841.6 672.7 L840.3 673.3 L836.5 679.7 L833.9 686.0 L830.4 693.6 L831.7 694.1 L835.5 686.5 L838.0 680.4 L841.6 674.8Z" fill="#33a0d6" stroke="#333" stroke-width="0.8"/>
<path d="M789.5 726.9 L779.7 732.0 L768.8 738.0" fill="none" stroke="#333" stroke-width="1.3" stroke-linecap="round" stroke-linejoin="round"/>
<path d="M759.4 740.9 L753.1 742.2 L743.8 745.3" fill="none" stroke="#333" stroke-width="1.1" stroke-linecap="round" stroke-linejoin="round" stroke-dasharray="3 2"/>
<path d="M706.7 752.6a0.9 0.9 0 1 0 1.9 0a0.9 0.9 0 1 0 -1.9 0M706.1 753.1a0.5 0.5 0 1 0 1.0 0a0.5 0.5 0 1 0 -1.0 0M732.0 734.4a0.6 0.6 0 1 0 1.1 0a0.6 0.6 0 1 0 -1.1 0M740.5 744.2a0.4 0.4 0 1 0 0.8 0a0.4 0.4 0 1 0 -0.8 0M739.4 741.8a0.8 0.8 0 1 0 1.7 0a0.8 0.8 0 1 0 -1.7 0M720.3 748.5a0.6 0.6 0 1 0 1.1 0a0.6 0.6 0 1 0 -1.1 0M707.0 748.5a0.5 0.5 0 1 0 1.0 0a0.5 0.5 0 1 0 -1.0 0M721.1 745.3a0.6 0.6 0 1 0 1.2 0a0.6 0.6 0 1 0 -1.2 0M703.3 750.8a0.5 0.5 0 1 0 1.0 0a0.5 0.5 0 1 0 -1.0 0M746.9 740.2a0.7 0.7 0 1 0 1.5 0a0.7 0.7 0 1 0 -1.5 0M714.0 751.0a1.1 1.1 0 1 0 2.2 0a1.1 1.1 0 1 0 -2.2 0M742.5 741.5a1.0 1.0 0 1 0 1.9 0a1.0 1.0 0 1 0 -1.9 0M741.2 741.8a0.8 0.8 0 1 0 1.5 0a0.8 0.8 0 1 0 -1.5 0M746.9 739.8a0.9 0.9 0 1 0 1.8 0a0.9 0.9 0 1 0 -1.8 0M714.8 748.3a0.8 0.8 0 1 0 1.6 0a0.8 0.8 0 1 0 -1.6 0M713.2 749.5a1.0 1.0 0 1 0 1.9 0a1.0 1.0 0 1 0 -1.9 0M730.0 736.1a0.4 0.4 0 1 0 0.8 0a0.4 0.4 0 1 0 -0.8 0M710.9 750.2a0.5 0.5 0 1 0 1.0 0a0.5 0.5 0 1 0 -1.0 0M747.0 741.3a0.7 0.7 0 1 0 1.5 0a0.7 0.7 0 1 0 -1.5 0M707.3 750.5a0.6 0.6 0 1 0 1.1 0a0.6 0.6 0 1 0 -1.1 0M722.6 748.7a0.5 0.5 0 1 0 1.0 0a0.5 0.5 0 1 0 -1.0 0M742.0 741.2a0.5 0.5 0 1 0 1.0 0a0.5 0.5 0 1 0 -1.0 0M711.8 750.4a0.5 0.5 0 1 0 1.1 0a0.5 0.5 0 1 0 -1.1 0M701.1 752.9a0.5 0.5 0 1 0 1.0 0a0.5 0.5 0 1 0 -1.0 0M710.8 747.7a0.3 0.3 0 1 0 0.7 0a0.3 0.3 0 1 0 -0.7 0M718.4 742.3a0.3 0.3 0 1 0 0.6 0a0.3 0.3 0 1 0 -0.6 0M727.9 736.5a0.6 0.6 0 1 0 1.3 0a0.6 0.6 0 1 0 -1.3 0M709.6 750.5a0.8 0.8 0 1 0 1.7 0a0.8 0.8 0 1 0 -1.7 0M725.2 736.6a0.3 0.3 0 1 0 0.6 0a0.3 0.3 0 1 0 -0.6 0M747.1 739.6a0.5 0.5 0 1 0 0.9 0a0.5 0.5 0 1 0 -0.9 0M724.8 747.4a0.9 0.9 0 1 0 1.8 0a0.9 0.9 0 1 0 -1.8 0M718.0 741.7a0.5 0.5 0 1 0 1.0 0a0.5 0.5 0 1 0 -1.0 0M721.1 747.4a0.8 0.8 0 1 0 1.6 0a0.8 0.8 0 1 0 -1.6 0M715.1 743.9a0.3 0.3 0 1 0 0.6 0a0.3 0.3 0 1 0 -0.6 0M729.9 740.2a0.5 0.5 0 1 0 1.0 0a0.5 0.5 0 1 0 -1.0 0M739.7 741.0a0.8 0.8 0 1 0 1.6 0a0.8 0.8 0 1 0 -1.6 0M731.1 743.4a0.6 0.6 0 1 0 1.2 0a0.6 0.6 0 1 0 -1.2 0M704.2 753.2a1.0 1.0 0 1 0 2.0 0a1.0 1.0 0 1 0 -2.0 0M720.7 743.0a0.4 0.4 0 1 0 0.7 0a0.4 0.4 0 1 0 -0.7 0M731.0 742.7a0.7 0.7 0 1 0 1.4 0a0.7 0.7 0 1 0 -1.4 0M717.1 750.2a0.6 0.6 0 1 0 1.3 0a0.6 0.6 0 1 0 -1.3 0M713.1 750.9a0.9 0.9 0 1 0 1.8 0a0.9 0.9 0 1 0 -1.8 0M717.0 747.3a0.9 0.9 0 1 0 1.9 0a0.9 0.9 0 1 0 -1.9 0M742.2 733.5a0.6 0.6 0 1 0 1.3 0a0.6 0.6 0 1 0 -1.3 0M708.2 751.7a0.4 0.4 0 1 0 0.8 0a0.4 0.4 0 1 0 -0.8 0M737.7 736.9a0.5 0.5 0 1 0 1.0 0a0.5 0.5 0 1 0 -1.0 0M725.3 740.6a0.7 0.7 0 1 0 1.4 0a0.7 0.7 0 1 0 -1.4 0M717.1 742.9a0.4 0.4 0 1 0 0.8 0a0.4 0.4 0 1 0 -0.8 0M733.4 744.7a0.5 0.5 0 1 0 0.9 0a0.5 0.5 0 1 0 -0.9 0M746.3 737.1a0.7 0.7 0 1 0 1.3 0a0.7 0.7 0 1 0 -1.3 0M701.0 754.7a0.5 0.5 0 1 0 1.0 0a0.5 0.5 0 1 0 -1.0 0M712.1 750.1a0.6 0.6 0 1 0 1.2 0a0.6 0.6 0 1 0 -1.2 0M700.9 754.0a0.8 0.8 0 1 0 1.6 0a0.8 0.8 0 1 0 -1.6 0M712.6 745.6a0.5 0.5 0 1 0 1.1 0a0.5 0.5 0 1 0 -1.1 0M737.1 743.0a0.7 0.7 0 1 0 1.3 0a0.7 0.7 0 1 0 -1.3 0M736.5 741.9a0.4 0.4 0 1 0 0.7 0a0.4 0.4 0 1 0 -0.7 0M744.0 735.7a0.4 0.4 0 1 0 0.8 0a0.4 0.4 0 1 0 -0.8 0M702.1 751.7a0.5 0.5 0 1 0 1.1 0a0.5 0.5 0 1 0 -1.1 0M701.8 754.0a0.4 0.4 0 1 0 0.9 0a0.4 0.4 0 1 0 -0.9 0M739.6 743.0a1.0 1.0 0 1 0 2.0 0a1.0 1.0 0 1 0 -2.0 0M737.7 744.5a0.9 0.9 0 1 0 1.8 0a0.9 0.9 0 1 0 -1.8 0M724.7 739.6a0.7 0.7 0 1 0 1.4 0a0.7 0.7 0 1 0 -1.4 0M715.8 750.3a1.1 1.1 0 1 0 2.2 0a1.1 1.1 0 1 0 -2.2 0M727.5 735.4a0.5 0.5 0 1 0 1.1 0a0.5 0.5 0 1 0 -1.1 0M740.7 734.1a0.6 0.6 0 1 0 1.1 0a0.6 0.6 0 1 0 -1.1 0M724.5 748.2a0.9 0.9 0 1 0 1.8 0a0.9 0.9 0 1 0 -1.8 0M725.2 742.6a0.9 0.9 0 1 0 1.8 0a0.9 0.9 0 1 0 -1.8 0M709.0 748.3a0.3 0.3 0 1 0 0.6 0a0.3 0.3 0 1 0 -0.6 0M739.4 734.4a0.4 0.4 0 1 0 0.8 0a0.4 0.4 0 1 0 -0.8 0M734.1 731.0a0.5 0.5 0 1 0 1.0 0a0.5 0.5 0 1 0 -1.0 0M730.0 744.6a0.4 0.4 0 1 0 0.8 0a0.4 0.4 0 1 0 -0.8 0M721.5 745.6a0.5 0.5 0 1 0 0.9 0a0.5 0.5 0 1 0 -0.9 0M717.7 749.4a0.9 0.9 0 1 0 1.8 0a0.9 0.9 0 1 0 -1.8 0M735.3 743.6a0.5 0.5 0 1 0 1.1 0a0.5 0.5 0 1 0 -1.1 0M729.1 741.9a0.9 0.9 0 1 0 1.9 0a0.9 0.9 0 1 0 -1.9 0M720.3 747.1a1.0 1.0 0 1 0 1.9 0a1.0 1.0 0 1 0 -1.9 0M709.3 749.4a0.5 0.5 0 1 0 1.0 0a0.5 0.5 0 1 0 -1.0 0M742.0 738.8a0.8 0.8 0 1 0 1.5 0a0.8 0.8 0 1 0 -1.5 0M711.3 747.6a0.6 0.6 0 1 0 1.2 0a0.6 0.6 0 1 0 -1.2 0M728.4 737.3a0.7 0.7 0 1 0 1.4 0a0.7 0.7 0 1 0 -1.4 0M706.8 752.0a0.6 0.6 0 1 0 1.2 0a0.6 0.6 0 1 0 -1.2 0M712.1 751.6a0.6 0.6 0 1 0 1.2 0a0.6 0.6 0 1 0 -1.2 0M713.3 746.4a0.5 0.5 0 1 0 1.1 0a0.5 0.5 0 1 0 -1.1 0M706.7 751.9a0.7 0.7 0 1 0 1.3 0a0.7 0.7 0 1 0 -1.3 0M720.9 748.3a0.4 0.4 0 1 0 0.9 0a0.4 0.4 0 1 0 -0.9 0M698.7 753.4a0.5 0.5 0 1 0 1.1 0a0.5 0.5 0 1 0 -1.1 0M705.1 750.4a0.8 0.8 0 1 0 1.6 0a0.8 0.8 0 1 0 -1.6 0M730.0 746.2a0.7 0.7 0 1 0 1.5 0a0.7 0.7 0 1 0 -1.5 0M724.2 747.0a0.8 0.8 0 1 0 1.5 0a0.8 0.8 0 1 0 -1.5 0M698.3 753.8a0.5 0.5 0 1 0 1.1 0a0.5 0.5 0 1 0 -1.1 0M737.2 731.6a0.5 0.5 0 1 0 1.0 0a0.5 0.5 0 1 0 -1.0 0M715.2 749.5a0.5 0.5 0 1 0 0.9 0a0.5 0.5 0 1 0 -0.9 0M700.3 752.9a0.7 0.7 0 1 0 1.4 0a0.7 0.7 0 1 0 -1.4 0M717.1 749.2a0.8 0.8 0 1 0 1.7 0a0.8 0.8 0 1 0 -1.7 0M745.1 733.7a0.3 0.3 0 1 0 0.6 0a0.3 0.3 0 1 0 -0.6 0M742.3 734.5a0.6 0.6 0 1 0 1.2 0a0.6 0.6 0 1 0 -1.2 0M718.6 748.8a1.0 1.0 0 1 0 1.9 0a1.0 1.0 0 1 0 -1.9 0M719.1 746.9a0.7 0.7 0 1 0 1.4 0a0.7 0.7 0 1 0 -1.4 0M724.1 739.0a0.4 0.4 0 1 0 0.7 0a0.4 0.4 0 1 0 -0.7 0M701.4 753.0a0.7 0.7 0 1 0 1.4 0a0.7 0.7 0 1 0 -1.4 0M742.8 736.6a0.8 0.8 0 1 0 1.5 0a0.8 0.8 0 1 0 -1.5 0M746.7 739.7a0.6 0.6 0 1 0 1.3 0a0.6 0.6 0 1 0 -1.3 0M709.5 751.0a0.8 0.8 0 1 0 1.5 0a0.8 0.8 0 1 0 -1.5 0M705.2 750.8a0.4 0.4 0 1 0 0.8 0a0.4 0.4 0 1 0 -0.8 0M729.0 734.0a0.3 0.3 0 1 0 0.5 0a0.3 0.3 0 1 0 -0.5 0M701.4 753.5a0.5 0.5 0 1 0 0.9 0a0.5 0.5 0 1 0 -0.9 0M736.3 745.4a1.0 1.0 0 1 0 2.1 0a1.0 1.0 0 1 0 -2.1 0M744.7 735.8a0.5 0.5 0 1 0 1.0 0a0.5 0.5 0 1 0 -1.0 0M718.3 744.1a0.6 0.6 0 1 0 1.2 0a0.6 0.6 0 1 0 -1.2 0M724.3 745.3a0.6 0.6 0 1 0 1.3 0a0.6 0.6 0 1 0 -1.3 0M737.8 733.9a0.7 0.7 0 1 0 1.4 0a0.7 0.7 0 1 0 -1.4 0M710.0 750.8a0.7 0.7 0 1 0 1.3 0a0.7 0.7 0 1 0 -1.3 0M731.2 742.9a0.5 0.5 0 1 0 1.0 0a0.5 0.5 0 1 0 -1.0 0M704.7 752.6a0.7 0.7 0 1 0 1.3 0a0.7 0.7 0 1 0 -1.3 0M748.7 736.2a0.6 0.6 0 1 0 1.3 0a0.6 0.6 0 1 0 -1.3 0M749.0 735.8a0.5 0.5 0 1 0 1.0 0a0.5 0.5 0 1 0 -1.0 0M740.1 744.1a0.9 0.9 0 1 0 1.8 0a0.9 0.9 0 1 0 -1.8 0M732.7 743.3a0.8 0.8 0 1 0 1.5 0a0.8 0.8 0 1 0 -1.5 0M746.8 739.9a0.7 0.7 0 1 0 1.5 0a0.7 0.7 0 1 0 -1.5 0M717.7 747.6a0.9 0.9 0 1 0 1.9 0a0.9 0.9 0 1 0 -1.9 0M699.6 754.7a0.9 0.9 0 1 0 1.7 0a0.9 0.9 0 1 0 -1.7 0M724.4 748.0a0.9 0.9 0 1 0 1.8 0a0.9 0.9 0 1 0 -1.8 0M722.9 742.9a0.6 0.6 0 1 0 1.1 0a0.6 0.6 0 1 0 -1.1 0M730.8 739.4a0.5 0.5 0 1 0 1.1 0a0.5 0.5 0 1 0 -1.1 0M706.2 752.6a1.0 1.0 0 1 0 2.0 0a1.0 1.0 0 1 0 -2.0 0M729.0 746.4a1.0 1.0 0 1 0 2.0 0a1.0 1.0 0 1 0 -2.0 0M714.7 750.6a0.8 0.8 0 1 0 1.6 0a0.8 0.8 0 1 0 -1.6 0M715.8 747.1a0.7 0.7 0 1 0 1.3 0a0.7 0.7 0 1 0 -1.3 0M714.8 746.8a0.4 0.4 0 1 0 0.8 0a0.4 0.4 0 1 0 -0.8 0M730.3 739.3a0.4 0.4 0 1 0 0.7 0a0.4 0.4 0 1 0 -0.7 0M722.6 748.6a0.7 0.7 0 1 0 1.4 0a0.7 0.7 0 1 0 -1.4 0M743.8 738.9a0.7 0.7 0 1 0 1.5 0a0.7 0.7 0 1 0 -1.5 0M737.9 744.2a1.1 1.1 0 1 0 2.2 0a1.1 1.1 0 1 0 -2.2 0M736.5 744.7a1.0 1.0 0 1 0 2.0 0a1.0 1.0 0 1 0 -2.0 0M721.8 747.9a1.1 1.1 0 1 0 2.1 0a1.1 1.1 0 1 0 -2.1 0M733.7 735.0a0.3 0.3 0 1 0 0.7 0a0.3 0.3 0 1 0 -0.7 0M739.0 744.5a0.6 0.6 0 1 0 1.1 0a0.6 0.6 0 1 0 -1.1 0M720.6 749.5a0.8 0.8 0 1 0 1.7 0a0.8 0.8 0 1 0 -1.7 0M712.8 749.8a0.8 0.8 0 1 0 1.7 0a0.8 0.8 0 1 0 -1.7 0M727.4 736.1a0.5 0.5 0 1 0 1.1 0a0.5 0.5 0 1 0 -1.1 0M744.1 738.7a0.9 0.9 0 1 0 1.7 0a0.9 0.9 0 1 0 -1.7 0M742.8 742.8a0.9 0.9 0 1 0 1.8 0a0.9 0.9 0 1 0 -1.8 0M722.0 740.9a0.6 0.6 0 1 0 1.2 0a0.6 0.6 0 1 0 -1.2 0M741.1 743.5a0.7 0.7 0 1 0 1.3 0a0.7 0.7 0 1 0 -1.3 0M741.3 732.0a0.5 0.5 0 1 0 1.1 0a0.5 0.5 0 1 0 -1.1 0M702.0 752.7a0.4 0.4 0 1 0 0.7 0a0.4 0.4 0 1 0 -0.7 0M733.3 734.5a0.3 0.3 0 1 0 0.6 0a0.3 0.3 0 1 0 -0.6 0M746.7 737.9a0.4 0.4 0 1 0 0.9 0a0.4 0.4 0 1 0 -0.9 0M712.0 748.9a0.9 0.9 0 1 0 1.7 0a0.9 0.9 0 1 0 -1.7 0M731.1 746.0a0.4 0.4 0 1 0 0.8 0a0.4 0.4 0 1 0 -0.8 0M707.8 748.7a0.4 0.4 0 1 0 0.7 0a0.4 0.4 0 1 0 -0.7 0M730.2 743.9a0.8 0.8 0 1 0 1.7 0a0.8 0.8 0 1 0 -1.7 0M721.2 748.3a1.0 1.0 0 1 0 2.0 0a1.0 1.0 0 1 0 -2.0 0M731.7 736.9a0.7 0.7 0 1 0 1.5 0a0.7 0.7 0 1 0 -1.5 0M745.8 743.0a0.7 0.7 0 1 0 1.3 0a0.7 0.7 0 1 0 -1.3 0M709.4 749.6a0.9 0.9 0 1 0 1.7 0a0.9 0.9 0 1 0 -1.7 0M740.0 744.4a0.5 0.5 0 1 0 1.1 0a0.5 0.5 0 1 0 -1.1 0M742.9 737.0a0.5 0.5 0 1 0 1.0 0a0.5 0.5 0 1 0 -1.0 0M725.9 746.8a1.0 1.0 0 1 0 2.0 0a1.0 1.0 0 1 0 -2.0 0M725.5 737.5a0.5 0.5 0 1 0 1.1 0a0.5 0.5 0 1 0 -1.1 0M704.2 752.8a0.5 0.5 0 1 0 1.0 0a0.5 0.5 0 1 0 -1.0 0M745.5 738.5a0.3 0.3 0 1 0 0.7 0a0.3 0.3 0 1 0 -0.7 0M710.5 750.2a0.7 0.7 0 1 0 1.3 0a0.7 0.7 0 1 0 -1.3 0M731.9 742.1a0.6 0.6 0 1 0 1.2 0a0.6 0.6 0 1 0 -1.2 0M697.7 754.8a0.5 0.5 0 1 0 1.0 0a0.5 0.5 0 1 0 -1.0 0M699.0 754.2a1.0 1.0 0 1 0 1.9 0a1.0 1.0 0 1 0 -1.9 0M701.2 754.3a0.9 0.9 0 1 0 1.7 0a0.9 0.9 0 1 0 -1.7 0M716.2 748.8a0.7 0.7 0 1 0 1.4 0a0.7 0.7 0 1 0 -1.4 0M716.7 745.9a0.6 0.6 0 1 0 1.2 0a0.6 0.6 0 1 0 -1.2 0M748.9 735.1a0.2 0.2 0 1 0 0.5 0a0.2 0.2 0 1 0 -0.5 0M733.2 735.1a0.7 0.7 0 1 0 1.4 0a0.7 0.7 0 1 0 -1.4 0M741.0 737.5a0.7 0.7 0 1 0 1.3 0a0.7 0.7 0 1 0 -1.3 0M720.8 747.1a0.9 0.9 0 1 0 1.8 0a0.9 0.9 0 1 0 -1.8 0M745.8 734.0a0.5 0.5 0 1 0 1.1 0a0.5 0.5 0 1 0 -1.1 0M719.8 742.1a0.7 0.7 0 1 0 1.3 0a0.7 0.7 0 1 0 -1.3 0M730.2 738.5a0.5 0.5 0 1 0 1.0 0a0.5 0.5 0 1 0 -1.0 0M731.0 742.1a0.4 0.4 0 1 0 0.8 0a0.4 0.4 0 1 0 -0.8 0M719.5 747.1a1.0 1.0 0 1 0 2.0 0a1.0 1.0 0 1 0 -2.0 0M727.5 743.8a0.5 0.5 0 1 0 1.0 0a0.5 0.5 0 1 0 -1.0 0M714.6 748.9a0.4 0.4 0 1 0 0.9 0a0.4 0.4 0 1 0 -0.9 0M698.2 754.0a0.5 0.5 0 1 0 0.9 0a0.5 0.5 0 1 0 -0.9 0M726.7 741.3a0.5 0.5 0 1 0 1.0 0a0.5 0.5 0 1 0 -1.0 0M709.9 752.2a0.6 0.6 0 1 0 1.2 0a0.6 0.6 0 1 0 -1.2 0M720.0 742.5a0.6 0.6 0 1 0 1.1 0a0.6 0.6 0 1 0 -1.1 0M745.7 741.0a1.0 1.0 0 1 0 1.9 0a1.0 1.0 0 1 0 -1.9 0M731.0 746.3a0.5 0.5 0 1 0 1.1 0a0.5 0.5 0 1 0 -1.1 0M735.7 730.5a0.4 0.4 0 1 0 0.7 0a0.4 0.4 0 1 0 -0.7 0M739.9 740.4a0.9 0.9 0 1 0 1.8 0a0.9 0.9 0 1 0 -1.8 0M703.4 752.3a0.9 0.9 0 1 0 1.8 0a0.9 0.9 0 1 0 -1.8 0M716.7 748.9a0.4 0.4 0 1 0 0.8 0a0.4 0.4 0 1 0 -0.8 0M709.8 751.0a0.9 0.9 0 1 0 1.7 0a0.9 0.9 0 1 0 -1.7 0M713.7 748.8a0.5 0.5 0 1 0 1.0 0a0.5 0.5 0 1 0 -1.0 0M735.7 733.1a0.6 0.6 0 1 0 1.1 0a0.6 0.6 0 1 0 -1.1 0M713.1 746.0a0.8 0.8 0 1 0 1.6 0a0.8 0.8 0 1 0 -1.6 0M731.3 746.2a1.0 1.0 0 1 0 2.0 0a1.0 1.0 0 1 0 -2.0 0M743.9 741.2a0.4 0.4 0 1 0 0.9 0a0.4 0.4 0 1 0 -0.9 0M711.9 748.3a0.8 0.8 0 1 0 1.7 0a0.8 0.8 0 1 0 -1.7 0M737.8 731.9a0.3 0.3 0 1 0 0.7 0a0.3 0.3 0 1 0 -0.7 0M721.1 741.6a0.6 0.6 0 1 0 1.2 0a0.6 0.6 0 1 0 -1.2 0M725.2 740.4a0.5 0.5 0 1 0 1.0 0a0.5 0.5 0 1 0 -1.0 0M703.0 753.0a0.4 0.4 0 1 0 0.7 0a0.4 0.4 0 1 0 -0.7 0M733.7 742.6a0.7 0.7 0 1 0 1.4 0a0.7 0.7 0 1 0 -1.4 0M732.1 744.0a0.7 0.7 0 1 0 1.4 0a0.7 0.7 0 1 0 -1.4 0M699.1 753.3a0.5 0.5 0 1 0 1.0 0a0.5 0.5 0 1 0 -1.0 0M747.2 742.5a0.9 0.9 0 1 0 1.7 0a0.9 0.9 0 1 0 -1.7 0M738.0 742.0a0.4 0.4 0 1 0 0.8 0a0.4 0.4 0 1 0 -0.8 0M708.9 752.0a0.9 0.9 0 1 0 1.9 0a0.9 0.9 0 1 0 -1.9 0M706.1 749.5a0.5 0.5 0 1 0 0.9 0a0.5 0.5 0 1 0 -0.9 0M731.2 738.9a0.6 0.6 0 1 0 1.3 0a0.6 0.6 0 1 0 -1.3 0M736.5 738.0a0.5 0.5 0 1 0 1.0 0a0.5 0.5 0 1 0 -1.0 0M737.9 742.8a0.9 0.9 0 1 0 1.7 0a0.9 0.9 0 1 0 -1.7 0M741.5 735.2a0.4 0.4 0 1 0 0.9 0a0.4 0.4 0 1 0 -0.9 0M742.8 731.9a0.4 0.4 0 1 0 0.8 0a0.4 0.4 0 1 0 -0.8 0M717.2 746.0a0.9 0.9 0 1 0 1.8 0a0.9 0.9 0 1 0 -1.8 0M707.4 753.0a0.8 0.8 0 1 0 1.5 0a0.8 0.8 0 1 0 -1.5 0M737.4 734.9a0.5 0.5 0 1 0 0.9 0a0.5 0.5 0 1 0 -0.9 0M747.4 741.6a0.9 0.9 0 1 0 1.8 0a0.9 0.9 0 1 0 -1.8 0M704.9 753.7a0.5 0.5 0 1 0 1.0 0a0.5 0.5 0 1 0 -1.0 0M703.0 752.5a0.7 0.7 0 1 0 1.3 0a0.7 0.7 0 1 0 -1.3 0M713.2 744.4a0.4 0.4 0 1 0 0.8 0a0.4 0.4 0 1 0 -0.8 0M708.6 751.9a0.9 0.9 0 1 0 1.8 0a0.9 0.9 0 1 0 -1.8 0M745.2 742.4a0.4 0.4 0 1 0 0.8 0a0.4 0.4 0 1 0 -0.8 0M739.2 742.7a1.1 1.1 0 1 0 2.1 0a1.1 1.1 0 1 0 -2.1 0M729.8 738.8a0.5 0.5 0 1 0 1.0 0a0.5 0.5 0 1 0 -1.0 0M741.4 739.9a0.5 0.5 0 1 0 1.1 0a0.5 0.5 0 1 0 -1.1 0M743.9 742.9a0.9 0.9 0 1 0 1.9 0a0.9 0.9 0 1 0 -1.9 0M703.8 751.6a0.5 0.5 0 1 0 1.0 0a0.5 0.5 0 1 0 -1.0 0M742.4 743.6a0.8 0.8 0 1 0 1.6 0a0.8 0.8 0 1 0 -1.6 0M726.5 736.1a0.7 0.7 0 1 0 1.3 0a0.7 0.7 0 1 0 -1.3 0M733.4 744.2a0.6 0.6 0 1 0 1.1 0a0.6 0.6 0 1 0 -1.1 0M716.4 747.4a0.5 0.5 0 1 0 1.0 0a0.5 0.5 0 1 0 -1.0 0M713.8 745.5a0.6 0.6 0 1 0 1.2 0a0.6 0.6 0 1 0 -1.2 0M720.9 738.9a0.3 0.3 0 1 0 0.6 0a0.3 0.3 0 1 0 -0.6 0M730.1 745.6a1.0 1.0 0 1 0 2.0 0a1.0 1.0 0 1 0 -2.0 0M743.0 741.9a0.9 0.9 0 1 0 1.8 0a0.9 0.9 0 1 0 -1.8 0M741.5 742.0a0.6 0.6 0 1 0 1.2 0a0.6 0.6 0 1 0 -1.2 0M730.7 734.1a0.3 0.3 0 1 0 0.6 0a0.3 0.3 0 1 0 -0.6 0M737.4 738.0a0.6 0.6 0 1 0 1.1 0a0.6 0.6 0 1 0 -1.1 0M735.0 732.7a0.3 0.3 0 1 0 0.7 0a0.3 0.3 0 1 0 -0.7 0M743.8 740.9a0.9 0.9 0 1 0 1.7 0a0.9 0.9 0 1 0 -1.7 0M742.4 742.7a1.0 1.0 0 1 0 2.0 0a1.0 1.0 0 1 0 -2.0 0M748.3 741.2a0.4 0.4 0 1 0 0.8 0a0.4 0.4 0 1 0 -0.8 0M708.4 747.3a0.2 0.2 0 1 0 0.5 0a0.2 0.2 0 1 0 -0.5 0M744.3 742.6a0.9 0.9 0 1 0 1.8 0a0.9 0.9 0 1 0 -1.8 0M705.2 753.0a0.9 0.9 0 1 0 1.7 0a0.9 0.9 0 1 0 -1.7 0M704.8 752.4a1.0 1.0 0 1 0 1.9 0a1.0 1.0 0 1 0 -1.9 0M740.0 733.1a0.7 0.7 0 1 0 1.4 0a0.7 0.7 0 1 0 -1.4 0M700.1 754.4a0.9 0.9 0 1 0 1.9 0a0.9 0.9 0 1 0 -1.9 0M735.2 745.6a0.8 0.8 0 1 0 1.5 0a0.8 0.8 0 1 0 -1.5 0M714.7 748.2a0.4 0.4 0 1 0 0.8 0a0.4 0.4 0 1 0 -0.8 0M700.0 752.6a0.4 0.4 0 1 0 0.7 0a0.4 0.4 0 1 0 -0.7 0M743.1 743.1a0.7 0.7 0 1 0 1.5 0a0.7 0.7 0 1 0 -1.5 0M708.7 750.6a0.5 0.5 0 1 0 0.9 0a0.5 0.5 0 1 0 -0.9 0M735.2 744.5a0.9 0.9 0 1 0 1.8 0a0.9 0.9 0 1 0 -1.8 0M727.2 747.0a0.6 0.6 0 1 0 1.3 0a0.6 0.6 0 1 0 -1.3 0M731.4 733.2a0.4 0.4 0 1 0 0.8 0a0.4 0.4 0 1 0 -0.8 0M715.3 742.7a0.6 0.6 0 1 0 1.2 0a0.6 0.6 0 1 0 -1.2 0M738.0 742.7a0.5 0.5 0 1 0 1.0 0a0.5 0.5 0 1 0 -1.0 0M715.6 750.6a0.4 0.4 0 1 0 0.9 0a0.4 0.4 0 1 0 -0.9 0M728.8 742.6a0.7 0.7 0 1 0 1.4 0a0.7 0.7 0 1 0 -1.4 0M720.1 749.6a0.9 0.9 0 1 0 1.8 0a0.9 0.9 0 1 0 -1.8 0M735.8 739.0a0.6 0.6 0 1 0 1.3 0a0.6 0.6 0 1 0 -1.3 0M739.8 731.0a0.6 0.6 0 1 0 1.2 0a0.6 0.6 0 1 0 -1.2 0M737.9 741.0a0.6 0.6 0 1 0 1.1 0a0.6 0.6 0 1 0 -1.1 0M727.6 734.8a0.4 0.4 0 1 0 0.8 0a0.4 0.4 0 1 0 -0.8 0M723.0 745.0a0.4 0.4 0 1 0 0.9 0a0.4 0.4 0 1 0 -0.9 0M747.5 742.5a0.9 0.9 0 1 0 1.7 0a0.9 0.9 0 1 0 -1.7 0M745.2 741.7a0.8 0.8 0 1 0 1.6 0a0.8 0.8 0 1 0 -1.6 0M721.8 747.3a0.5 0.5 0 1 0 1.0 0a0.5 0.5 0 1 0 -1.0 0M708.0 748.2a0.6 0.6 0 1 0 1.3 0a0.6 0.6 0 1 0 -1.3 0M744.0 743.2a0.9 0.9 0 1 0 1.8 0a0.9 0.9 0 1 0 -1.8 0M720.5 743.2a0.6 0.6 0 1 0 1.2 0a0.6 0.6 0 1 0 -1.2 0M721.9 738.6a0.2 0.2 0 1 0 0.5 0a0.2 0.2 0 1 0 -0.5 0M741.2 733.8a0.5 0.5 0 1 0 1.0 0a0.5 0.5 0 1 0 -1.0 0M736.3 730.3a0.3 0.3 0 1 0 0.6 0a0.3 0.3 0 1 0 -0.6 0M736.1 735.5a0.5 0.5 0 1 0 0.9 0a0.5 0.5 0 1 0 -0.9 0M737.5 741.1a0.7 0.7 0 1 0 1.4 0a0.7 0.7 0 1 0 -1.4 0M735.1 736.8a0.5 0.5 0 1 0 0.9 0a0.5 0.5 0 1 0 -0.9 0M735.0 739.1a0.5 0.5 0 1 0 0.9 0a0.5 0.5 0 1 0 -0.9 0M732.5 743.7a1.0 1.0 0 1 0 2.0 0a1.0 1.0 0 1 0 -2.0 0M728.9 737.8a0.6 0.6 0 1 0 1.1 0a0.6 0.6 0 1 0 -1.1 0M726.7 746.0a0.5 0.5 0 1 0 0.9 0a0.5 0.5 0 1 0 -0.9 0M746.1 739.3a0.6 0.6 0 1 0 1.3 0a0.6 0.6 0 1 0 -1.3 0M732.4 734.5a0.4 0.4 0 1 0 0.8 0a0.4 0.4 0 1 0 -0.8 0M712.1 746.0a0.5 0.5 0 1 0 1.0 0a0.5 0.5 0 1 0 -1.0 0M736.8 733.8a0.7 0.7 0 1 0 1.4 0a0.7 0.7 0 1 0 -1.4 0M742.6 743.7a0.7 0.7 0 1 0 1.4 0a0.7 0.7 0 1 0 -1.4 0M744.2 735.1a0.3 0.3 0 1 0 0.6 0a0.3 0.3 0 1 0 -0.6 0M709.5 751.4a0.4 0.4 0 1 0 0.9 0a0.4 0.4 0 1 0 -0.9 0M723.1 739.8a0.5 0.5 0 1 0 1.0 0a0.5 0.5 0 1 0 -1.0 0M724.9 747.9a0.7 0.7 0 1 0 1.4 0a0.7 0.7 0 1 0 -1.4 0M749.0 738.5a0.5 0.5 0 1 0 1.1 0a0.5 0.5 0 1 0 -1.1 0M729.5 736.2a0.6 0.6 0 1 0 1.3 0a0.6 0.6 0 1 0 -1.3 0M710.2 748.2a0.5 0.5 0 1 0 1.0 0a0.5 0.5 0 1 0 -1.0 0M728.6 745.1a0.6 0.6 0 1 0 1.3 0a0.6 0.6 0 1 0 -1.3 0M720.6 746.3a0.4 0.4 0 1 0 0.7 0a0.4 0.4 0 1 0 -0.7 0M713.3 747.6a0.3 0.3 0 1 0 0.7 0a0.3 0.3 0 1 0 -0.7 0M712.2 746.8a0.4 0.4 0 1 0 0.9 0a0.4 0.4 0 1 0 -0.9 0M718.7 748.2a1.0 1.0 0 1 0 1.9 0a1.0 1.0 0 1 0 -1.9 0M705.6 750.6a0.8 0.8 0 1 0 1.6 0a0.8 0.8 0 1 0 -1.6 0M712.4 748.9a0.8 0.8 0 1 0 1.7 0a0.8 0.8 0 1 0 -1.7 0M733.8 742.1a0.4 0.4 0 1 0 0.8 0a0.4 0.4 0 1 0 -0.8 0M725.3 744.5a0.8 0.8 0 1 0 1.6 0a0.8 0.8 0 1 0 -1.6 0M717.8 746.9a0.8 0.8 0 1 0 1.5 0a0.8 0.8 0 1 0 -1.5 0M741.3 741.3a0.6 0.6 0 1 0 1.2 0a0.6 0.6 0 1 0 -1.2 0M735.3 731.9a0.3 0.3 0 1 0 0.6 0a0.3 0.3 0 1 0 -0.6 0M748.3 738.0a0.5 0.5 0 1 0 1.0 0a0.5 0.5 0 1 0 -1.0 0M735.6 742.4a0.4 0.4 0 1 0 0.8 0a0.4 0.4 0 1 0 -0.8 0M739.2 741.1a0.7 0.7 0 1 0 1.4 0a0.7 0.7 0 1 0 -1.4 0M731.1 733.6a0.6 0.6 0 1 0 1.2 0a0.6 0.6 0 1 0 -1.2 0M700.0 753.6a0.6 0.6 0 1 0 1.2 0a0.6 0.6 0 1 0 -1.2 0M729.1 735.9a0.5 0.5 0 1 0 0.9 0a0.5 0.5 0 1 0 -0.9 0M730.0 734.5a0.4 0.4 0 1 0 0.9 0a0.4 0.4 0 1 0 -0.9 0M728.4 741.2a0.8 0.8 0 1 0 1.7 0a0.8 0.8 0 1 0 -1.7 0M737.7 735.5a0.5 0.5 0 1 0 1.0 0a0.5 0.5 0 1 0 -1.0 0M701.6 752.6a0.6 0.6 0 1 0 1.2 0a0.6 0.6 0 1 0 -1.2 0M741.8 735.3a0.3 0.3 0 1 0 0.7 0a0.3 0.3 0 1 0 -0.7 0M712.6 751.3a1.0 1.0 0 1 0 2.0 0a1.0 1.0 0 1 0 -2.0 0M705.3 753.3a0.9 0.9 0 1 0 1.9 0a0.9 0.9 0 1 0 -1.9 0M729.7 746.8a0.9 0.9 0 1 0 1.8 0a0.9 0.9 0 1 0 -1.8 0M738.2 739.8a0.4 0.4 0 1 0 0.7 0a0.4 0.4 0 1 0 -0.7 0M736.7 740.9a0.7 0.7 0 1 0 1.4 0a0.7 0.7 0 1 0 -1.4 0M749.2 737.5a0.7 0.7 0 1 0 1.4 0a0.7 0.7 0 1 0 -1.4 0M708.8 751.0a0.7 0.7 0 1 0 1.4 0a0.7 0.7 0 1 0 -1.4 0M698.2 753.9a0.3 0.3 0 1 0 0.7 0a0.3 0.3 0 1 0 -0.7 0M716.0 748.6a0.5 0.5 0 1 0 1.1 0a0.5 0.5 0 1 0 -1.1 0M743.8 738.8a0.6 0.6 0 1 0 1.2 0a0.6 0.6 0 1 0 -1.2 0M723.3 748.6a0.6 0.6 0 1 0 1.2 0a0.6 0.6 0 1 0 -1.2 0M744.9 735.7a0.7 0.7 0 1 0 1.4 0a0.7 0.7 0 1 0 -1.4 0M715.5 749.8a0.4 0.4 0 1 0 0.8 0a0.4 0.4 0 1 0 -0.8 0M730.0 742.7a0.7 0.7 0 1 0 1.3 0a0.7 0.7 0 1 0 -1.3 0M728.9 740.0a0.5 0.5 0 1 0 1.0 0a0.5 0.5 0 1 0 -1.0 0M740.0 743.0a1.0 1.0 0 1 0 2.1 0a1.0 1.0 0 1 0 -2.1 0M729.6 746.9a0.6 0.6 0 1 0 1.3 0a0.6 0.6 0 1 0 -1.3 0M729.9 742.2a0.7 0.7 0 1 0 1.4 0a0.7 0.7 0 1 0 -1.4 0M718.8 747.9a0.9 0.9 0 1 0 1.8 0a0.9 0.9 0 1 0 -1.8 0M718.8 743.2a0.7 0.7 0 1 0 1.4 0a0.7 0.7 0 1 0 -1.4 0M732.5 740.9a0.9 0.9 0 1 0 1.8 0a0.9 0.9 0 1 0 -1.8 0M728.6 735.7a0.3 0.3 0 1 0 0.5 0a0.3 0.3 0 1 0 -0.5 0M726.6 740.4a0.3 0.3 0 1 0 0.7 0a0.3 0.3 0 1 0 -0.7 0M742.3 743.6a0.8 0.8 0 1 0 1.7 0a0.8 0.8 0 1 0 -1.7 0M712.9 744.7a0.5 0.5 0 1 0 1.0 0a0.5 0.5 0 1 0 -1.0 0M741.3 739.4a0.7 0.7 0 1 0 1.5 0a0.7 0.7 0 1 0 -1.5 0M735.7 742.8a0.5 0.5 0 1 0 1.0 0a0.5 0.5 0 1 0 -1.0 0M741.3 743.2a1.0 1.0 0 1 0 2.1 0a1.0 1.0 0 1 0 -2.1 0M712.4 751.4a0.5 0.5 0 1 0 0.9 0a0.5 0.5 0 1 0 -0.9 0M743.1 732.5a0.4 0.4 0 1 0 0.8 0a0.4 0.4 0 1 0 -0.8 0M734.4 743.4a1.0 1.0 0 1 0 2.0 0a1.0 1.0 0 1 0 -2.0 0M735.7 744.5a0.4 0.4 0 1 0 0.8 0a0.4 0.4 0 1 0 -0.8 0M735.2 745.5a1.0 1.0 0 1 0 2.0 0a1.0 1.0 0 1 0 -2.0 0M717.2 748.8a0.8 0.8 0 1 0 1.6 0a0.8 0.8 0 1 0 -1.6 0M720.1 744.5a0.4 0.4 0 1 0 0.8 0a0.4 0.4 0 1 0 -0.8 0M744.7 741.2a0.9 0.9 0 1 0 1.8 0a0.9 0.9 0 1 0 -1.8 0M710.4 747.0a0.8 0.8 0 1 0 1.5 0a0.8 0.8 0 1 0 -1.5 0M721.8 749.1a0.7 0.7 0 1 0 1.4 0a0.7 0.7 0 1 0 -1.4 0M733.7 744.0a0.8 0.8 0 1 0 1.5 0a0.8 0.8 0 1 0 -1.5 0M705.4 751.6a0.8 0.8 0 1 0 1.6 0a0.8 0.8 0 1 0 -1.6 0M726.6 739.8a0.4 0.4 0 1 0 0.7 0a0.4 0.4 0 1 0 -0.7 0M740.8 743.5a1.1 1.1 0 1 0 2.1 0a1.1 1.1 0 1 0 -2.1 0M749.6 736.5a0.5 0.5 0 1 0 0.9 0a0.5 0.5 0 1 0 -0.9 0M717.3 747.7a0.9 0.9 0 1 0 1.7 0a0.9 0.9 0 1 0 -1.7 0M731.6 733.0a0.3 0.3 0 1 0 0.6 0a0.3 0.3 0 1 0 -0.6 0M730.3 734.7a0.5 0.5 0 1 0 1.1 0a0.5 0.5 0 1 0 -1.1 0M729.1 746.7a0.5 0.5 0 1 0 1.0 0a0.5 0.5 0 1 0 -1.0 0M718.5 741.4a0.6 0.6 0 1 0 1.3 0a0.6 0.6 0 1 0 -1.3 0M716.2 742.7a0.3 0.3 0 1 0 0.5 0a0.3 0.3 0 1 0 -0.5 0M736.4 730.9a0.4 0.4 0 1 0 0.7 0a0.4 0.4 0 1 0 -0.7 0M747.4 738.2a0.3 0.3 0 1 0 0.6 0a0.3 0.3 0 1 0 -0.6 0M720.3 745.6a0.5 0.5 0 1 0 1.0 0a0.5 0.5 0 1 0 -1.0 0M737.6 743.7a0.9 0.9 0 1 0 1.9 0a0.9 0.9 0 1 0 -1.9 0M717.0 750.2a0.8 0.8 0 1 0 1.6 0a0.8 0.8 0 1 0 -1.6 0M705.7 751.0a0.8 0.8 0 1 0 1.6 0a0.8 0.8 0 1 0 -1.6 0M733.3 740.8a0.4 0.4 0 1 0 0.7 0a0.4 0.4 0 1 0 -0.7 0M727.5 747.0a0.9 0.9 0 1 0 1.7 0a0.9 0.9 0 1 0 -1.7 0M708.7 749.6a0.5 0.5 0 1 0 1.0 0a0.5 0.5 0 1 0 -1.0 0M723.6 741.5a0.4 0.4 0 1 0 0.8 0a0.4 0.4 0 1 0 -0.8 0M712.4 744.9a0.4 0.4 0 1 0 0.8 0a0.4 0.4 0 1 0 -0.8 0M744.6 734.4a0.5 0.5 0 1 0 0.9 0a0.5 0.5 0 1 0 -0.9 0M708.3 752.4a1.0 1.0 0 1 0 2.1 0a1.0 1.0 0 1 0 -2.1 0M707.3 750.7a0.7 0.7 0 1 0 1.3 0a0.7 0.7 0 1 0 -1.3 0M707.5 750.8a0.4 0.4 0 1 0 0.9 0a0.4 0.4 0 1 0 -0.9 0M730.7 740.4a0.5 0.5 0 1 0 1.1 0a0.5 0.5 0 1 0 -1.1 0M712.5 749.2a0.5 0.5 0 1 0 1.0 0a0.5 0.5 0 1 0 -1.0 0M707.2 752.0a1.0 1.0 0 1 0 2.0 0a1.0 1.0 0 1 0 -2.0 0M731.7 733.6a0.3 0.3 0 1 0 0.5 0a0.3 0.3 0 1 0 -0.5 0M746.4 739.8a0.8 0.8 0 1 0 1.6 0a0.8 0.8 0 1 0 -1.6 0M733.4 736.7a0.4 0.4 0 1 0 0.8 0a0.4 0.4 0 1 0 -0.8 0M738.2 743.9a0.6 0.6 0 1 0 1.1 0a0.6 0.6 0 1 0 -1.1 0M700.3 754.0a0.7 0.7 0 1 0 1.4 0a0.7 0.7 0 1 0 -1.4 0M720.0 740.7a0.3 0.3 0 1 0 0.6 0a0.3 0.3 0 1 0 -0.6 0M731.1 744.5a0.8 0.8 0 1 0 1.6 0a0.8 0.8 0 1 0 -1.6 0M742.0 736.3a0.3 0.3 0 1 0 0.6 0a0.3 0.3 0 1 0 -0.6 0M715.6 746.0a0.9 0.9 0 1 0 1.7 0a0.9 0.9 0 1 0 -1.7 0M701.5 752.8a0.7 0.7 0 1 0 1.4 0a0.7 0.7 0 1 0 -1.4 0M741.1 741.4a0.9 0.9 0 1 0 1.8 0a0.9 0.9 0 1 0 -1.8 0M729.7 734.3a0.2 0.2 0 1 0 0.5 0a0.2 0.2 0 1 0 -0.5 0M746.3 740.4a0.6 0.6 0 1 0 1.2 0a0.6 0.6 0 1 0 -1.2 0M704.6 752.9a0.9 0.9 0 1 0 1.8 0a0.9 0.9 0 1 0 -1.8 0M735.2 744.6a0.6 0.6 0 1 0 1.3 0a0.6 0.6 0 1 0 -1.3 0M708.4 752.0a0.5 0.5 0 1 0 1.1 0a0.5 0.5 0 1 0 -1.1 0M722.4 738.0a0.6 0.6 0 1 0 1.3 0a0.6 0.6 0 1 0 -1.3 0M741.0 739.7a0.6 0.6 0 1 0 1.3 0a0.6 0.6 0 1 0 -1.3 0M742.6 733.1a0.6 0.6 0 1 0 1.2 0a0.6 0.6 0 1 0 -1.2 0M733.4 744.4a0.8 0.8 0 1 0 1.6 0a0.8 0.8 0 1 0 -1.6 0M744.5 735.7a0.3 0.3 0 1 0 0.6 0a0.3 0.3 0 1 0 -0.6 0M737.7 741.7a0.5 0.5 0 1 0 0.9 0a0.5 0.5 0 1 0 -0.9 0M747.8 738.3a0.7 0.7 0 1 0 1.4 0a0.7 0.7 0 1 0 -1.4 0M709.3 747.5a0.7 0.7 0 1 0 1.4 0a0.7 0.7 0 1 0 -1.4 0M746.0 736.9a0.7 0.7 0 1 0 1.4 0a0.7 0.7 0 1 0 -1.4 0M741.9 738.2a0.6 0.6 0 1 0 1.1 0a0.6 0.6 0 1 0 -1.1 0M743.4 735.5a0.7 0.7 0 1 0 1.4 0a0.7 0.7 0 1 0 -1.4 0M720.6 739.4a0.5 0.5 0 1 0 0.9 0a0.5 0.5 0 1 0 -0.9 0M745.4 742.5a1.1 1.1 0 1 0 2.2 0a1.1 1.1 0 1 0 -2.2 0M739.7 742.5a1.0 1.0 0 1 0 1.9 0a1.0 1.0 0 1 0 -1.9 0M713.8 750.2a0.7 0.7 0 1 0 1.4 0a0.7 0.7 0 1 0 -1.4 0M714.7 747.4a0.9 0.9 0 1 0 1.8 0a0.9 0.9 0 1 0 -1.8 0M738.1 736.1a0.5 0.5 0 1 0 1.0 0a0.5 0.5 0 1 0 -1.0 0M742.1 735.0a0.6 0.6 0 1 0 1.2 0a0.6 0.6 0 1 0 -1.2 0M747.7 736.5a0.5 0.5 0 1 0 0.9 0a0.5 0.5 0 1 0 -0.9 0M705.3 750.7a0.8 0.8 0 1 0 1.5 0a0.8 0.8 0 1 0 -1.5 0M721.0 743.5a0.8 0.8 0 1 0 1.6 0a0.8 0.8 0 1 0 -1.6 0M739.4 744.6a0.8 0.8 0 1 0 1.5 0a0.8 0.8 0 1 0 -1.5 0M698.3 755.2a1.0 1.0 0 1 0 2.0 0a1.0 1.0 0 1 0 -2.0 0M725.4 741.3a0.6 0.6 0 1 0 1.1 0a0.6 0.6 0 1 0 -1.1 0M719.5 748.3a0.6 0.6 0 1 0 1.3 0a0.6 0.6 0 1 0 -1.3 0M743.7 737.9a0.5 0.5 0 1 0 0.9 0a0.5 0.5 0 1 0 -0.9 0M704.7 752.8a0.8 0.8 0 1 0 1.7 0a0.8 0.8 0 1 0 -1.7 0M726.8 739.8a0.7 0.7 0 1 0 1.5 0a0.7 0.7 0 1 0 -1.5 0M708.3 749.2a0.3 0.3 0 1 0 0.6 0a0.3 0.3 0 1 0 -0.6 0M741.3 743.0a0.6 0.6 0 1 0 1.1 0a0.6 0.6 0 1 0 -1.1 0M746.9 740.8a0.5 0.5 0 1 0 1.0 0a0.5 0.5 0 1 0 -1.0 0M744.9 738.3a0.8 0.8 0 1 0 1.6 0a0.8 0.8 0 1 0 -1.6 0M723.3 743.5a0.9 0.9 0 1 0 1.8 0a0.9 0.9 0 1 0 -1.8 0M732.5 731.4a0.3 0.3 0 1 0 0.6 0a0.3 0.3 0 1 0 -0.6 0M741.3 743.1a0.8 0.8 0 1 0 1.5 0a0.8 0.8 0 1 0 -1.5 0M696.0 755.8a1.1 1.1 0 1 0 2.1 0a1.1 1.1 0 1 0 -2.1 0M728.6 736.7a0.4 0.4 0 1 0 0.8 0a0.4 0.4 0 1 0 -0.8 0M719.9 749.1a0.8 0.8 0 1 0 1.6 0a0.8 0.8 0 1 0 -1.6 0M743.8 739.3a0.6 0.6 0 1 0 1.1 0a0.6 0.6 0 1 0 -1.1 0M747.4 735.5a0.5 0.5 0 1 0 1.1 0a0.5 0.5 0 1 0 -1.1 0M704.6 751.3a0.6 0.6 0 1 0 1.1 0a0.6 0.6 0 1 0 -1.1 0M746.6 740.8a0.8 0.8 0 1 0 1.6 0a0.8 0.8 0 1 0 -1.6 0M734.1 741.9a0.7 0.7 0 1 0 1.4 0a0.7 0.7 0 1 0 -1.4 0M738.9 732.4a0.5 0.5 0 1 0 0.9 0a0.5 0.5 0 1 0 -0.9 0M724.6 736.7a0.2 0.2 0 1 0 0.5 0a0.2 0.2 0 1 0 -0.5 0M743.5 737.0a0.6 0.6 0 1 0 1.2 0a0.6 0.6 0 1 0 -1.2 0M727.5 738.0a0.7 0.7 0 1 0 1.5 0a0.7 0.7 0 1 0 -1.5 0M740.2 735.5a0.3 0.3 0 1 0 0.6 0a0.3 0.3 0 1 0 -0.6 0M718.3 749.2a1.1 1.1 0 1 0 2.2 0a1.1 1.1 0 1 0 -2.2 0M743.6 742.8a0.8 0.8 0 1 0 1.6 0a0.8 0.8 0 1 0 -1.6 0M730.4 746.7a0.7 0.7 0 1 0 1.4 0a0.7 0.7 0 1 0 -1.4 0M740.2 737.3a0.5 0.5 0 1 0 0.9 0a0.5 0.5 0 1 0 -0.9 0M739.0 742.2a0.7 0.7 0 1 0 1.5 0a0.7 0.7 0 1 0 -1.5 0M727.6 734.6a0.5 0.5 0 1 0 1.0 0a0.5 0.5 0 1 0 -1.0 0M742.5 737.0a0.5 0.5 0 1 0 1.0 0a0.5 0.5 0 1 0 -1.0 0M747.8 737.9a0.7 0.7 0 1 0 1.3 0a0.7 0.7 0 1 0 -1.3 0M716.1 749.8a0.8 0.8 0 1 0 1.6 0a0.8 0.8 0 1 0 -1.6 0M743.8 735.4a0.4 0.4 0 1 0 0.9 0a0.4 0.4 0 1 0 -0.9 0M708.7 749.8a0.9 0.9 0 1 0 1.7 0a0.9 0.9 0 1 0 -1.7 0M711.3 747.2a0.4 0.4 0 1 0 0.7 0a0.4 0.4 0 1 0 -0.7 0M717.9 750.1a0.6 0.6 0 1 0 1.2 0a0.6 0.6 0 1 0 -1.2 0M725.3 736.2a0.6 0.6 0 1 0 1.3 0a0.6 0.6 0 1 0 -1.3 0M711.1 750.2a1.0 1.0 0 1 0 2.0 0a1.0 1.0 0 1 0 -2.0 0M712.1 749.9a0.7 0.7 0 1 0 1.3 0a0.7 0.7 0 1 0 -1.3 0M706.3 752.3a0.6 0.6 0 1 0 1.3 0a0.6 0.6 0 1 0 -1.3 0M725.7 736.2a0.3 0.3 0 1 0 0.7 0a0.3 0.3 0 1 0 -0.7 0M714.5 743.8a0.4 0.4 0 1 0 0.9 0a0.4 0.4 0 1 0 -0.9 0M743.2 737.7a0.7 0.7 0 1 0 1.5 0a0.7 0.7 0 1 0 -1.5 0M717.9 749.2a0.9 0.9 0 1 0 1.9 0a0.9 0.9 0 1 0 -1.9 0M727.7 740.9a0.7 0.7 0 1 0 1.4 0a0.7 0.7 0 1 0 -1.4 0M738.7 742.5a0.6 0.6 0 1 0 1.2 0a0.6 0.6 0 1 0 -1.2 0M745.9 739.3a0.5 0.5 0 1 0 1.0 0a0.5 0.5 0 1 0 -1.0 0M733.3 743.6a0.9 0.9 0 1 0 1.8 0a0.9 0.9 0 1 0 -1.8 0M701.9 751.9a0.5 0.5 0 1 0 1.1 0a0.5 0.5 0 1 0 -1.1 0M723.8 737.7a0.4 0.4 0 1 0 0.7 0a0.4 0.4 0 1 0 -0.7 0M714.0 751.0a0.8 0.8 0 1 0 1.6 0a0.8 0.8 0 1 0 -1.6 0M740.6 736.7a0.5 0.5 0 1 0 1.0 0a0.5 0.5 0 1 0 -1.0 0M740.4 743.8a0.6 0.6 0 1 0 1.2 0a0.6 0.6 0 1 0 -1.2 0M738.1 731.0a0.5 0.5 0 1 0 1.0 0a0.5 0.5 0 1 0 -1.0 0M738.8 734.9a0.5 0.5 0 1 0 0.9 0a0.5 0.5 0 1 0 -0.9 0M747.4 737.3a0.5 0.5 0 1 0 0.9 0a0.5 0.5 0 1 0 -0.9 0M725.2 738.7a0.4 0.4 0 1 0 0.9 0a0.4 0.4 0 1 0 -0.9 0M713.1 745.0a0.5 0.5 0 1 0 1.0 0a0.5 0.5 0 1 0 -1.0 0M730.8 737.6a0.8 0.8 0 1 0 1.6 0a0.8 0.8 0 1 0 -1.6 0M708.4 751.3a0.4 0.4 0 1 0 0.8 0a0.4 0.4 0 1 0 -0.8 0M724.4 743.1a0.8 0.8 0 1 0 1.7 0a0.8 0.8 0 1 0 -1.7 0M736.7 738.4a0.5 0.5 0 1 0 1.1 0a0.5 0.5 0 1 0 -1.1 0M730.9 744.0a0.9 0.9 0 1 0 1.9 0a0.9 0.9 0 1 0 -1.9 0M742.8 734.4a0.3 0.3 0 1 0 0.7 0a0.3 0.3 0 1 0 -0.7 0M737.8 735.3a0.5 0.5 0 1 0 1.1 0a0.5 0.5 0 1 0 -1.1 0M746.5 734.9a0.6 0.6 0 1 0 1.2 0a0.6 0.6 0 1 0 -1.2 0M742.6 737.4a0.8 0.8 0 1 0 1.6 0a0.8 0.8 0 1 0 -1.6 0M708.8 748.7a0.7 0.7 0 1 0 1.3 0a0.7 0.7 0 1 0 -1.3 0M733.1 743.6a0.4 0.4 0 1 0 0.8 0a0.4 0.4 0 1 0 -0.8 0M735.6 733.9a0.4 0.4 0 1 0 0.8 0a0.4 0.4 0 1 0 -0.8 0M713.0 750.4a0.4 0.4 0 1 0 0.9 0a0.4 0.4 0 1 0 -0.9 0M739.2 731.0a0.6 0.6 0 1 0 1.1 0a0.6 0.6 0 1 0 -1.1 0M723.0 741.4a0.3 0.3 0 1 0 0.7 0a0.3 0.3 0 1 0 -0.7 0M742.5 741.5a0.4 0.4 0 1 0 0.7 0a0.4 0.4 0 1 0 -0.7 0M733.1 745.2a0.6 0.6 0 1 0 1.2 0a0.6 0.6 0 1 0 -1.2 0M702.8 752.8a0.7 0.7 0 1 0 1.4 0a0.7 0.7 0 1 0 -1.4 0M739.8 744.3a1.0 1.0 0 1 0 2.0 0a1.0 1.0 0 1 0 -2.0 0M706.2 752.5a0.8 0.8 0 1 0 1.6 0a0.8 0.8 0 1 0 -1.6 0M720.0 746.9a0.7 0.7 0 1 0 1.5 0a0.7 0.7 0 1 0 -1.5 0M715.0 744.6a0.4 0.4 0 1 0 0.7 0a0.4 0.4 0 1 0 -0.7 0M744.2 735.3a0.5 0.5 0 1 0 1.1 0a0.5 0.5 0 1 0 -1.1 0M701.0 752.7a0.3 0.3 0 1 0 0.6 0a0.3 0.3 0 1 0 -0.6 0M729.0 742.4a0.4 0.4 0 1 0 0.8 0a0.4 0.4 0 1 0 -0.8 0M735.9 735.8a0.6 0.6 0 1 0 1.2 0a0.6 0.6 0 1 0 -1.2 0M723.9 743.2a0.7 0.7 0 1 0 1.4 0a0.7 0.7 0 1 0 -1.4 0M715.5 743.5a0.7 0.7 0 1 0 1.4 0a0.7 0.7 0 1 0 -1.4 0M743.9 732.6a0.4 0.4 0 1 0 0.7 0a0.4 0.4 0 1 0 -0.7 0M747.2 742.4a0.7 0.7 0 1 0 1.5 0a0.7 0.7 0 1 0 -1.5 0M708.3 750.5a0.8 0.8 0 1 0 1.5 0a0.8 0.8 0 1 0 -1.5 0M737.7 740.3a0.6 0.6 0 1 0 1.1 0a0.6 0.6 0 1 0 -1.1 0M712.0 749.4a0.5 0.5 0 1 0 1.1 0a0.5 0.5 0 1 0 -1.1 0M713.2 746.1a0.5 0.5 0 1 0 1.1 0a0.5 0.5 0 1 0 -1.1 0M724.3 746.9a0.9 0.9 0 1 0 1.8 0a0.9 0.9 0 1 0 -1.8 0M711.8 750.4a0.8 0.8 0 1 0 1.5 0a0.8 0.8 0 1 0 -1.5 0M740.2 731.2a0.5 0.5 0 1 0 1.1 0a0.5 0.5 0 1 0 -1.1 0M748.1 735.6a0.6 0.6 0 1 0 1.1 0a0.6 0.6 0 1 0 -1.1 0M736.7 745.0a0.5 0.5 0 1 0 1.1 0a0.5 0.5 0 1 0 -1.1 0M698.8 753.6a0.6 0.6 0 1 0 1.2 0a0.6 0.6 0 1 0 -1.2 0M733.6 743.6a0.6 0.6 0 1 0 1.2 0a0.6 0.6 0 1 0 -1.2 0M710.6 748.1a0.9 0.9 0 1 0 1.7 0a0.9 0.9 0 1 0 -1.7 0M717.6 750.2a0.5 0.5 0 1 0 1.1 0a0.5 0.5 0 1 0 -1.1 0M723.4 738.3a0.6 0.6 0 1 0 1.2 0a0.6 0.6 0 1 0 -1.2 0M725.2 747.7a0.5 0.5 0 1 0 0.9 0a0.5 0.5 0 1 0 -0.9 0M710.7 747.2a0.5 0.5 0 1 0 1.0 0a0.5 0.5 0 1 0 -1.0 0M749.3 736.6a0.6 0.6 0 1 0 1.2 0a0.6 0.6 0 1 0 -1.2 0M729.8 735.8a0.3 0.3 0 1 0 0.6 0a0.3 0.3 0 1 0 -0.6 0M706.9 750.5a0.6 0.6 0 1 0 1.2 0a0.6 0.6 0 1 0 -1.2 0M712.9 750.2a0.4 0.4 0 1 0 0.8 0a0.4 0.4 0 1 0 -0.8 0M745.9 737.3a0.8 0.8 0 1 0 1.6 0a0.8 0.8 0 1 0 -1.6 0M747.6 740.3a0.8 0.8 0 1 0 1.6 0a0.8 0.8 0 1 0 -1.6 0M724.5 738.8a0.7 0.7 0 1 0 1.4 0a0.7 0.7 0 1 0 -1.4 0M707.7 752.9a0.6 0.6 0 1 0 1.1 0a0.6 0.6 0 1 0 -1.1 0M732.4 742.2a0.4 0.4 0 1 0 0.7 0a0.4 0.4 0 1 0 -0.7 0M743.8 735.6a0.5 0.5 0 1 0 1.0 0a0.5 0.5 0 1 0 -1.0 0M702.2 751.5a0.5 0.5 0 1 0 1.0 0a0.5 0.5 0 1 0 -1.0 0M703.5 753.0a0.8 0.8 0 1 0 1.6 0a0.8 0.8 0 1 0 -1.6 0M744.4 739.7a0.7 0.7 0 1 0 1.5 0a0.7 0.7 0 1 0 -1.5 0M712.1 750.4a1.0 1.0 0 1 0 2.0 0a1.0 1.0 0 1 0 -2.0 0M721.4 748.7a0.8 0.8 0 1 0 1.6 0a0.8 0.8 0 1 0 -1.6 0M707.3 752.3a0.7 0.7 0 1 0 1.4 0a0.7 0.7 0 1 0 -1.4 0M733.5 737.7a0.7 0.7 0 1 0 1.4 0a0.7 0.7 0 1 0 -1.4 0M723.9 748.2a0.9 0.9 0 1 0 1.9 0a0.9 0.9 0 1 0 -1.9 0M702.5 752.9a0.6 0.6 0 1 0 1.2 0a0.6 0.6 0 1 0 -1.2 0M737.8 736.0a0.4 0.4 0 1 0 0.8 0a0.4 0.4 0 1 0 -0.8 0M736.6 736.4a0.5 0.5 0 1 0 1.1 0a0.5 0.5 0 1 0 -1.1 0M710.2 746.5a0.5 0.5 0 1 0 1.0 0a0.5 0.5 0 1 0 -1.0 0M702.5 753.6a1.1 1.1 0 1 0 2.1 0a1.1 1.1 0 1 0 -2.1 0M713.9 748.6a0.9 0.9 0 1 0 1.7 0a0.9 0.9 0 1 0 -1.7 0M742.7 737.7a0.7 0.7 0 1 0 1.4 0a0.7 0.7 0 1 0 -1.4 0M700.3 754.6a1.1 1.1 0 1 0 2.2 0a1.1 1.1 0 1 0 -2.2 0M740.2 744.4a0.4 0.4 0 1 0 0.9 0a0.4 0.4 0 1 0 -0.9 0M717.0 742.1a0.3 0.3 0 1 0 0.7 0a0.3 0.3 0 1 0 -0.7 0M738.8 731.9a0.5 0.5 0 1 0 1.0 0a0.5 0.5 0 1 0 -1.0 0M745.3 741.7a0.5 0.5 0 1 0 0.9 0a0.5 0.5 0 1 0 -0.9 0M699.6 753.5a0.3 0.3 0 1 0 0.7 0a0.3 0.3 0 1 0 -0.7 0M748.4 738.0a0.4 0.4 0 1 0 0.8 0a0.4 0.4 0 1 0 -0.8 0M740.4 743.3a0.8 0.8 0 1 0 1.5 0a0.8 0.8 0 1 0 -1.5 0M707.0 749.0a0.7 0.7 0 1 0 1.4 0a0.7 0.7 0 1 0 -1.4 0M744.1 743.3a1.0 1.0 0 1 0 2.1 0a1.0 1.0 0 1 0 -2.1 0M733.5 734.1a0.5 0.5 0 1 0 1.0 0a0.5 0.5 0 1 0 -1.0 0M734.6 738.3a0.8 0.8 0 1 0 1.5 0a0.8 0.8 0 1 0 -1.5 0M703.7 753.8a0.8 0.8 0 1 0 1.6 0a0.8 0.8 0 1 0 -1.6 0M718.0 747.2a0.4 0.4 0 1 0 0.7 0a0.4 0.4 0 1 0 -0.7 0M737.2 745.1a1.0 1.0 0 1 0 2.0 0a1.0 1.0 0 1 0 -2.0 0M741.9 740.0a0.4 0.4 0 1 0 0.8 0a0.4 0.4 0 1 0 -0.8 0M734.1 744.2a0.7 0.7 0 1 0 1.4 0a0.7 0.7 0 1 0 -1.4 0M708.1 747.4a0.5 0.5 0 1 0 0.9 0a0.5 0.5 0 1 0 -0.9 0M719.7 749.2a0.9 0.9 0 1 0 1.9 0a0.9 0.9 0 1 0 -1.9 0M745.0 734.9a0.3 0.3 0 1 0 0.6 0a0.3 0.3 0 1 0 -0.6 0M721.2 746.8a0.9 0.9 0 1 0 1.8 0a0.9 0.9 0 1 0 -1.8 0M709.5 748.9a0.9 0.9 0 1 0 1.7 0a0.9 0.9 0 1 0 -1.7 0M738.8 744.9a0.5 0.5 0 1 0 0.9 0a0.5 0.5 0 1 0 -0.9 0M707.5 749.4a0.6 0.6 0 1 0 1.2 0a0.6 0.6 0 1 0 -1.2 0M729.7 741.6a0.6 0.6 0 1 0 1.2 0a0.6 0.6 0 1 0 -1.2 0M734.5 737.3a0.8 0.8 0 1 0 1.6 0a0.8 0.8 0 1 0 -1.6 0M740.2 734.7a0.7 0.7 0 1 0 1.4 0a0.7 0.7 0 1 0 -1.4 0M744.0 736.6a0.3 0.3 0 1 0 0.6 0a0.3 0.3 0 1 0 -0.6 0M738.8 733.5a0.5 0.5 0 1 0 0.9 0a0.5 0.5 0 1 0 -0.9 0M742.9 742.6a1.1 1.1 0 1 0 2.1 0a1.1 1.1 0 1 0 -2.1 0M727.3 739.0a0.4 0.4 0 1 0 0.8 0a0.4 0.4 0 1 0 -0.8 0M718.1 747.5a0.6 0.6 0 1 0 1.1 0a0.6 0.6 0 1 0 -1.1 0M705.3 751.7a1.0 1.0 0 1 0 1.9 0a1.0 1.0 0 1 0 -1.9 0M738.1 731.8a0.6 0.6 0 1 0 1.1 0a0.6 0.6 0 1 0 -1.1 0M744.9 732.6a0.5 0.5 0 1 0 1.1 0a0.5 0.5 0 1 0 -1.1 0M716.3 749.0a0.7 0.7 0 1 0 1.3 0a0.7 0.7 0 1 0 -1.3 0M698.8 754.8a1.0 1.0 0 1 0 2.0 0a1.0 1.0 0 1 0 -2.0 0M745.1 741.1a0.9 0.9 0 1 0 1.7 0a0.9 0.9 0 1 0 -1.7 0M742.3 733.4a0.6 0.6 0 1 0 1.2 0a0.6 0.6 0 1 0 -1.2 0M728.3 746.6a1.0 1.0 0 1 0 2.0 0a1.0 1.0 0 1 0 -2.0 0M719.9 743.7a0.5 0.5 0 1 0 1.0 0a0.5 0.5 0 1 0 -1.0 0M733.9 731.1a0.3 0.3 0 1 0 0.6 0a0.3 0.3 0 1 0 -0.6 0M731.3 737.7a0.6 0.6 0 1 0 1.2 0a0.6 0.6 0 1 0 -1.2 0M745.9 740.5a0.9 0.9 0 1 0 1.9 0a0.9 0.9 0 1 0 -1.9 0M740.0 731.3a0.3 0.3 0 1 0 0.5 0a0.3 0.3 0 1 0 -0.5 0M712.6 749.9a1.0 1.0 0 1 0 2.0 0a1.0 1.0 0 1 0 -2.0 0M698.2 755.0a0.9 0.9 0 1 0 1.7 0a0.9 0.9 0 1 0 -1.7 0M747.6 741.9a0.7 0.7 0 1 0 1.4 0a0.7 0.7 0 1 0 -1.4 0M737.9 736.4a0.7 0.7 0 1 0 1.4 0a0.7 0.7 0 1 0 -1.4 0M738.7 742.8a0.5 0.5 0 1 0 1.1 0a0.5 0.5 0 1 0 -1.1 0M700.5 753.2a0.4 0.4 0 1 0 0.8 0a0.4 0.4 0 1 0 -0.8 0M718.2 740.9a0.5 0.5 0 1 0 1.0 0a0.5 0.5 0 1 0 -1.0 0M733.9 737.3a0.6 0.6 0 1 0 1.3 0a0.6 0.6 0 1 0 -1.3 0M736.7 742.5a0.4 0.4 0 1 0 0.8 0a0.4 0.4 0 1 0 -0.8 0M703.0 754.2a0.7 0.7 0 1 0 1.3 0a0.7 0.7 0 1 0 -1.3 0M708.2 752.4a0.7 0.7 0 1 0 1.5 0a0.7 0.7 0 1 0 -1.5 0M748.2 738.2a0.4 0.4 0 1 0 0.9 0a0.4 0.4 0 1 0 -0.9 0M739.2 743.5a0.5 0.5 0 1 0 0.9 0a0.5 0.5 0 1 0 -0.9 0M718.3 746.8a0.8 0.8 0 1 0 1.6 0a0.8 0.8 0 1 0 -1.6 0M727.7 738.5a0.3 0.3 0 1 0 0.7 0a0.3 0.3 0 1 0 -0.7 0M745.5 741.0a0.9 0.9 0 1 0 1.8 0a0.9 0.9 0 1 0 -1.8 0M701.0 752.5a0.4 0.4 0 1 0 0.7 0a0.4 0.4 0 1 0 -0.7 0M744.6 735.6a0.6 0.6 0 1 0 1.2 0a0.6 0.6 0 1 0 -1.2 0M716.1 750.8a0.5 0.5 0 1 0 1.1 0a0.5 0.5 0 1 0 -1.1 0M744.1 742.6a0.9 0.9 0 1 0 1.7 0a0.9 0.9 0 1 0 -1.7 0M734.0 737.2a0.4 0.4 0 1 0 0.8 0a0.4 0.4 0 1 0 -0.8 0M707.9 752.5a1.1 1.1 0 1 0 2.2 0a1.1 1.1 0 1 0 -2.2 0M723.7 741.5a0.6 0.6 0 1 0 1.2 0a0.6 0.6 0 1 0 -1.2 0M713.3 751.3a0.4 0.4 0 1 0 0.8 0a0.4 0.4 0 1 0 -0.8 0M741.8 743.2a1.1 1.1 0 1 0 2.2 0a1.1 1.1 0 1 0 -2.2 0M723.3 740.9a0.4 0.4 0 1 0 0.7 0a0.4 0.4 0 1 0 -0.7 0M740.0 742.5a0.6 0.6 0 1 0 1.2 0a0.6 0.6 0 1 0 -1.2 0M728.3 746.7a0.6 0.6 0 1 0 1.1 0a0.6 0.6 0 1 0 -1.1 0M740.5 742.1a0.6 0.6 0 1 0 1.3 0a0.6 0.6 0 1 0 -1.3 0M739.1 743.0a0.5 0.5 0 1 0 1.0 0a0.5 0.5 0 1 0 -1.0 0M713.6 748.9a0.6 0.6 0 1 0 1.2 0a0.6 0.6 0 1 0 -1.2 0M734.8 740.3a0.9 0.9 0 1 0 1.7 0a0.9 0.9 0 1 0 -1.7 0M702.3 752.2a0.8 0.8 0 1 0 1.5 0a0.8 0.8 0 1 0 -1.5 0M713.6 751.3a0.7 0.7 0 1 0 1.5 0a0.7 0.7 0 1 0 -1.5 0M707.0 750.9a0.8 0.8 0 1 0 1.6 0a0.8 0.8 0 1 0 -1.6 0M705.0 753.3a0.7 0.7 0 1 0 1.5 0a0.7 0.7 0 1 0 -1.5 0M710.4 751.1a0.7 0.7 0 1 0 1.4 0a0.7 0.7 0 1 0 -1.4 0M706.7 753.0a0.7 0.7 0 1 0 1.3 0a0.7 0.7 0 1 0 -1.3 0M730.0 733.8a0.5 0.5 0 1 0 1.0 0a0.5 0.5 0 1 0 -1.0 0M703.3 753.4a0.9 0.9 0 1 0 1.8 0a0.9 0.9 0 1 0 -1.8 0M733.9 733.1a0.7 0.7 0 1 0 1.4 0a0.7 0.7 0 1 0 -1.4 0M741.9 743.3a1.1 1.1 0 1 0 2.2 0a1.1 1.1 0 1 0 -2.2 0M729.0 745.0a0.5 0.5 0 1 0 1.0 0a0.5 0.5 0 1 0 -1.0 0M743.1 742.4a0.4 0.4 0 1 0 0.9 0a0.4 0.4 0 1 0 -0.9 0M718.4 741.2a0.4 0.4 0 1 0 0.9 0a0.4 0.4 0 1 0 -0.9 0M737.1 744.8a0.7 0.7 0 1 0 1.5 0a0.7 0.7 0 1 0 -1.5 0M718.3 748.7a0.8 0.8 0 1 0 1.7 0a0.8 0.8 0 1 0 -1.7 0M720.0 748.8a1.1 1.1 0 1 0 2.2 0a1.1 1.1 0 1 0 -2.2 0M726.8 746.4a0.4 0.4 0 1 0 0.8 0a0.4 0.4 0 1 0 -0.8 0M736.0 739.5a0.3 0.3 0 1 0 0.7 0a0.3 0.3 0 1 0 -0.7 0M728.8 737.6a0.6 0.6 0 1 0 1.1 0a0.6 0.6 0 1 0 -1.1 0M714.7 747.4a0.7 0.7 0 1 0 1.4 0a0.7 0.7 0 1 0 -1.4 0M733.7 744.9a1.0 1.0 0 1 0 1.9 0a1.0 1.0 0 1 0 -1.9 0M747.3 737.4a0.7 0.7 0 1 0 1.5 0a0.7 0.7 0 1 0 -1.5 0M724.4 737.8a0.3 0.3 0 1 0 0.7 0a0.3 0.3 0 1 0 -0.7 0M714.5 746.5a0.8 0.8 0 1 0 1.7 0a0.8 0.8 0 1 0 -1.7 0M704.6 753.2a0.4 0.4 0 1 0 0.8 0a0.4 0.4 0 1 0 -0.8 0M724.5 747.5a0.5 0.5 0 1 0 1.0 0a0.5 0.5 0 1 0 -1.0 0M739.6 738.2a0.9 0.9 0 1 0 1.7 0a0.9 0.9 0 1 0 -1.7 0M725.2 740.5a0.3 0.3 0 1 0 0.6 0a0.3 0.3 0 1 0 -0.6 0M746.1 741.8a0.7 0.7 0 1 0 1.4 0a0.7 0.7 0 1 0 -1.4 0M732.3 732.1a0.4 0.4 0 1 0 0.9 0a0.4 0.4 0 1 0 -0.9 0M748.8 739.0a0.4 0.4 0 1 0 0.9 0a0.4 0.4 0 1 0 -0.9 0M741.2 742.7a1.1 1.1 0 1 0 2.2 0a1.1 1.1 0 1 0 -2.2 0M725.1 746.2a1.0 1.0 0 1 0 2.1 0a1.0 1.0 0 1 0 -2.1 0M719.5 746.4a0.6 0.6 0 1 0 1.1 0a0.6 0.6 0 1 0 -1.1 0M734.4 745.9a0.7 0.7 0 1 0 1.4 0a0.7 0.7 0 1 0 -1.4 0M711.6 746.4a0.3 0.3 0 1 0 0.5 0a0.3 0.3 0 1 0 -0.5 0M732.5 743.9a0.7 0.7 0 1 0 1.4 0a0.7 0.7 0 1 0 -1.4 0M733.3 736.3a0.4 0.4 0 1 0 0.7 0a0.4 0.4 0 1 0 -0.7 0M713.7 750.7a1.1 1.1 0 1 0 2.2 0a1.1 1.1 0 1 0 -2.2 0M708.7 752.2a0.8 0.8 0 1 0 1.5 0a0.8 0.8 0 1 0 -1.5 0M735.2 732.7a0.3 0.3 0 1 0 0.5 0a0.3 0.3 0 1 0 -0.5 0M713.7 750.4a0.8 0.8 0 1 0 1.6 0a0.8 0.8 0 1 0 -1.6 0M725.9 743.7a0.9 0.9 0 1 0 1.8 0a0.9 0.9 0 1 0 -1.8 0M737.9 733.2a0.7 0.7 0 1 0 1.4 0a0.7 0.7 0 1 0 -1.4 0M718.7 740.9a0.4 0.4 0 1 0 0.8 0a0.4 0.4 0 1 0 -0.8 0M703.2 750.9a0.3 0.3 0 1 0 0.6 0a0.3 0.3 0 1 0 -0.6 0M698.9 754.8a0.6 0.6 0 1 0 1.1 0a0.6 0.6 0 1 0 -1.1 0M748.6 736.5a0.4 0.4 0 1 0 0.9 0a0.4 0.4 0 1 0 -0.9 0M732.4 733.7a0.6 0.6 0 1 0 1.3 0a0.6 0.6 0 1 0 -1.3 0M735.9 739.6a0.4 0.4 0 1 0 0.8 0a0.4 0.4 0 1 0 -0.8 0M715.9 745.4a0.6 0.6 0 1 0 1.2 0a0.6 0.6 0 1 0 -1.2 0M743.2 733.5a0.7 0.7 0 1 0 1.4 0a0.7 0.7 0 1 0 -1.4 0M710.9 751.7a1.1 1.1 0 1 0 2.1 0a1.1 1.1 0 1 0 -2.1 0M730.4 745.3a0.9 0.9 0 1 0 1.7 0a0.9 0.9 0 1 0 -1.7 0M715.3 749.5a0.6 0.6 0 1 0 1.3 0a0.6 0.6 0 1 0 -1.3 0M731.4 737.3a0.3 0.3 0 1 0 0.7 0a0.3 0.3 0 1 0 -0.7 0M739.8 737.6a0.6 0.6 0 1 0 1.1 0a0.6 0.6 0 1 0 -1.1 0M738.3 734.4a0.3 0.3 0 1 0 0.5 0a0.3 0.3 0 1 0 -0.5 0M728.6 738.6a0.7 0.7 0 1 0 1.4 0a0.7 0.7 0 1 0 -1.4 0M733.5 744.5a1.1 1.1 0 1 0 2.1 0a1.1 1.1 0 1 0 -2.1 0M739.8 742.8a0.7 0.7 0 1 0 1.3 0a0.7 0.7 0 1 0 -1.3 0M746.4 741.9a0.7 0.7 0 1 0 1.3 0a0.7 0.7 0 1 0 -1.3 0M748.6 736.1a0.3 0.3 0 1 0 0.7 0a0.3 0.3 0 1 0 -0.7 0M738.2 741.5a0.8 0.8 0 1 0 1.6 0a0.8 0.8 0 1 0 -1.6 0M738.9 744.0a0.5 0.5 0 1 0 1.1 0a0.5 0.5 0 1 0 -1.1 0M713.3 750.0a0.4 0.4 0 1 0 0.8 0a0.4 0.4 0 1 0 -0.8 0M708.5 750.8a0.6 0.6 0 1 0 1.2 0a0.6 0.6 0 1 0 -1.2 0M704.4 751.5a0.9 0.9 0 1 0 1.7 0a0.9 0.9 0 1 0 -1.7 0M731.5 742.7a0.8 0.8 0 1 0 1.6 0a0.8 0.8 0 1 0 -1.6 0M724.3 747.1a0.7 0.7 0 1 0 1.5 0a0.7 0.7 0 1 0 -1.5 0M699.4 753.8a0.4 0.4 0 1 0 0.8 0a0.4 0.4 0 1 0 -0.8 0M724.6 736.7a0.6 0.6 0 1 0 1.1 0a0.6 0.6 0 1 0 -1.1 0M743.3 737.6a0.7 0.7 0 1 0 1.3 0a0.7 0.7 0 1 0 -1.3 0M740.5 731.4a0.3 0.3 0 1 0 0.6 0a0.3 0.3 0 1 0 -0.6 0M739.4 742.1a0.5 0.5 0 1 0 1.1 0a0.5 0.5 0 1 0 -1.1 0M742.5 738.1a0.8 0.8 0 1 0 1.6 0a0.8 0.8 0 1 0 -1.6 0M744.7 738.5a0.4 0.4 0 1 0 0.8 0a0.4 0.4 0 1 0 -0.8 0M698.6 754.3a0.8 0.8 0 1 0 1.5 0a0.8 0.8 0 1 0 -1.5 0M716.0 750.5a0.4 0.4 0 1 0 0.8 0a0.4 0.4 0 1 0 -0.8 0M712.0 747.2a0.3 0.3 0 1 0 0.6 0a0.3 0.3 0 1 0 -0.6 0M713.7 749.7a0.9 0.9 0 1 0 1.7 0a0.9 0.9 0 1 0 -1.7 0M747.5 742.6a0.5 0.5 0 1 0 1.0 0a0.5 0.5 0 1 0 -1.0 0M748.1 734.8a0.3 0.3 0 1 0 0.6 0a0.3 0.3 0 1 0 -0.6 0M720.7 744.6a0.5 0.5 0 1 0 1.0 0a0.5 0.5 0 1 0 -1.0 0M724.8 743.3a0.5 0.5 0 1 0 1.0 0a0.5 0.5 0 1 0 -1.0 0M702.3 754.2a0.5 0.5 0 1 0 1.0 0a0.5 0.5 0 1 0 -1.0 0M705.6 750.7a0.7 0.7 0 1 0 1.4 0a0.7 0.7 0 1 0 -1.4 0M717.6 743.1a0.6 0.6 0 1 0 1.3 0a0.6 0.6 0 1 0 -1.3 0M721.0 744.9a0.4 0.4 0 1 0 0.9 0a0.4 0.4 0 1 0 -0.9 0M746.6 739.0a0.3 0.3 0 1 0 0.7 0a0.3 0.3 0 1 0 -0.7 0M710.5 747.9a0.5 0.5 0 1 0 1.0 0a0.5 0.5 0 1 0 -1.0 0M736.8 743.3a0.9 0.9 0 1 0 1.9 0a0.9 0.9 0 1 0 -1.9 0M739.9 744.0a0.8 0.8 0 1 0 1.6 0a0.8 0.8 0 1 0 -1.6 0M712.7 746.5a0.7 0.7 0 1 0 1.4 0a0.7 0.7 0 1 0 -1.4 0M740.3 742.7a0.4 0.4 0 1 0 0.9 0a0.4 0.4 0 1 0 -0.9 0M736.6 738.6a0.4 0.4 0 1 0 0.8 0a0.4 0.4 0 1 0 -0.8 0M712.8 747.7a0.4 0.4 0 1 0 0.7 0a0.4 0.4 0 1 0 -0.7 0M733.7 743.9a0.6 0.6 0 1 0 1.1 0a0.6 0.6 0 1 0 -1.1 0M725.1 742.4a0.8 0.8 0 1 0 1.5 0a0.8 0.8 0 1 0 -1.5 0M700.9 752.9a0.4 0.4 0 1 0 0.8 0a0.4 0.4 0 1 0 -0.8 0M718.5 744.2a0.7 0.7 0 1 0 1.4 0a0.7 0.7 0 1 0 -1.4 0M736.6 732.3a0.3 0.3 0 1 0 0.7 0a0.3 0.3 0 1 0 -0.7 0M720.0 743.3a0.4 0.4 0 1 0 0.9 0a0.4 0.4 0 1 0 -0.9 0M709.2 751.5a0.9 0.9 0 1 0 1.8 0a0.9 0.9 0 1 0 -1.8 0M743.1 736.5a0.8 0.8 0 1 0 1.6 0a0.8 0.8 0 1 0 -1.6 0M740.5 741.8a0.6 0.6 0 1 0 1.1 0a0.6 0.6 0 1 0 -1.1 0M736.5 745.1a0.8 0.8 0 1 0 1.7 0a0.8 0.8 0 1 0 -1.7 0M704.5 753.6a0.8 0.8 0 1 0 1.6 0a0.8 0.8 0 1 0 -1.6 0M710.8 745.8a0.6 0.6 0 1 0 1.2 0a0.6 0.6 0 1 0 -1.2 0M725.9 746.5a0.5 0.5 0 1 0 0.9 0a0.5 0.5 0 1 0 -0.9 0M729.5 740.7a0.5 0.5 0 1 0 1.1 0a0.5 0.5 0 1 0 -1.1 0M738.2 739.1a0.8 0.8 0 1 0 1.6 0a0.8 0.8 0 1 0 -1.6 0M705.8 753.2a0.7 0.7 0 1 0 1.4 0a0.7 0.7 0 1 0 -1.4 0M726.8 745.4a0.8 0.8 0 1 0 1.7 0a0.8 0.8 0 1 0 -1.7 0M713.5 749.4a0.7 0.7 0 1 0 1.4 0a0.7 0.7 0 1 0 -1.4 0M739.5 735.0a0.5 0.5 0 1 0 0.9 0a0.5 0.5 0 1 0 -0.9 0M728.6 734.7a0.7 0.7 0 1 0 1.3 0a0.7 0.7 0 1 0 -1.3 0M732.4 745.7a0.7 0.7 0 1 0 1.4 0a0.7 0.7 0 1 0 -1.4 0M734.2 743.3a0.4 0.4 0 1 0 0.8 0a0.4 0.4 0 1 0 -0.8 0M749.3 736.4a0.3 0.3 0 1 0 0.6 0a0.3 0.3 0 1 0 -0.6 0M728.0 739.9a0.5 0.5 0 1 0 0.9 0a0.5 0.5 0 1 0 -0.9 0M704.1 750.9a0.7 0.7 0 1 0 1.3 0a0.7 0.7 0 1 0 -1.3 0M724.1 748.1a0.7 0.7 0 1 0 1.4 0a0.7 0.7 0 1 0 -1.4 0M707.0 748.3a0.3 0.3 0 1 0 0.5 0a0.3 0.3 0 1 0 -0.5 0M719.2 742.6a0.3 0.3 0 1 0 0.7 0a0.3 0.3 0 1 0 -0.7 0M706.0 753.2a0.5 0.5 0 1 0 1.0 0a0.5 0.5 0 1 0 -1.0 0M732.7 734.0a0.3 0.3 0 1 0 0.7 0a0.3 0.3 0 1 0 -0.7 0M712.0 746.5a0.5 0.5 0 1 0 1.0 0a0.5 0.5 0 1 0 -1.0 0M719.4 749.1a0.6 0.6 0 1 0 1.1 0a0.6 0.6 0 1 0 -1.1 0M746.9 742.3a0.6 0.6 0 1 0 1.2 0a0.6 0.6 0 1 0 -1.2 0M741.0 733.1a0.7 0.7 0 1 0 1.3 0a0.7 0.7 0 1 0 -1.3 0M730.3 733.2a0.5 0.5 0 1 0 1.0 0a0.5 0.5 0 1 0 -1.0 0M717.7 746.4a0.8 0.8 0 1 0 1.6 0a0.8 0.8 0 1 0 -1.6 0M737.5 744.3a0.5 0.5 0 1 0 1.1 0a0.5 0.5 0 1 0 -1.1 0M746.0 742.5a1.0 1.0 0 1 0 2.0 0a1.0 1.0 0 1 0 -2.0 0M719.8 747.9a0.5 0.5 0 1 0 1.1 0a0.5 0.5 0 1 0 -1.1 0M730.5 732.6a0.3 0.3 0 1 0 0.6 0a0.3 0.3 0 1 0 -0.6 0M743.0 741.4a0.5 0.5 0 1 0 1.0 0a0.5 0.5 0 1 0 -1.0 0M738.8 741.7a0.5 0.5 0 1 0 1.0 0a0.5 0.5 0 1 0 -1.0 0M726.4 737.6a0.7 0.7 0 1 0 1.4 0a0.7 0.7 0 1 0 -1.4 0M730.0 747.0a1.0 1.0 0 1 0 1.9 0a1.0 1.0 0 1 0 -1.9 0M735.9 732.4a0.7 0.7 0 1 0 1.4 0a0.7 0.7 0 1 0 -1.4 0M721.5 740.1a0.6 0.6 0 1 0 1.3 0a0.6 0.6 0 1 0 -1.3 0M716.3 748.0a0.6 0.6 0 1 0 1.2 0a0.6 0.6 0 1 0 -1.2 0M721.2 746.1a0.4 0.4 0 1 0 0.8 0a0.4 0.4 0 1 0 -0.8 0M716.0 742.9a0.4 0.4 0 1 0 0.9 0a0.4 0.4 0 1 0 -0.9 0M737.1 732.6a0.6 0.6 0 1 0 1.2 0a0.6 0.6 0 1 0 -1.2 0M716.9 742.1a0.6 0.6 0 1 0 1.2 0a0.6 0.6 0 1 0 -1.2 0M748.7 738.1a0.7 0.7 0 1 0 1.4 0a0.7 0.7 0 1 0 -1.4 0M740.8 742.4a0.8 0.8 0 1 0 1.6 0a0.8 0.8 0 1 0 -1.6 0M724.8 738.5a0.3 0.3 0 1 0 0.6 0a0.3 0.3 0 1 0 -0.6 0M729.7 743.3a0.9 0.9 0 1 0 1.8 0a0.9 0.9 0 1 0 -1.8 0M722.5 739.6a0.7 0.7 0 1 0 1.3 0a0.7 0.7 0 1 0 -1.3 0M742.9 742.9a1.1 1.1 0 1 0 2.1 0a1.1 1.1 0 1 0 -2.1 0M740.1 736.7a0.6 0.6 0 1 0 1.3 0a0.6 0.6 0 1 0 -1.3 0M702.6 751.3a0.5 0.5 0 1 0 1.0 0a0.5 0.5 0 1 0 -1.0 0M725.7 744.7a0.9 0.9 0 1 0 1.8 0a0.9 0.9 0 1 0 -1.8 0M742.7 733.8a0.4 0.4 0 1 0 0.7 0a0.4 0.4 0 1 0 -0.7 0M720.0 747.9a0.4 0.4 0 1 0 0.9 0a0.4 0.4 0 1 0 -0.9 0M718.2 750.0a1.0 1.0 0 1 0 2.0 0a1.0 1.0 0 1 0 -2.0 0M713.5 751.2a0.4 0.4 0 1 0 0.9 0a0.4 0.4 0 1 0 -0.9 0M737.9 743.5a0.7 0.7 0 1 0 1.4 0a0.7 0.7 0 1 0 -1.4 0M725.4 738.4a0.7 0.7 0 1 0 1.5 0a0.7 0.7 0 1 0 -1.5 0M719.5 743.8a0.8 0.8 0 1 0 1.6 0a0.8 0.8 0 1 0 -1.6 0M729.7 734.4a0.6 0.6 0 1 0 1.2 0a0.6 0.6 0 1 0 -1.2 0M720.9 740.3a0.5 0.5 0 1 0 1.0 0a0.5 0.5 0 1 0 -1.0 0M706.6 750.4a0.8 0.8 0 1 0 1.6 0a0.8 0.8 0 1 0 -1.6 0M729.8 741.1a0.6 0.6 0 1 0 1.2 0a0.6 0.6 0 1 0 -1.2 0M745.2 737.6a0.4 0.4 0 1 0 0.8 0a0.4 0.4 0 1 0 -0.8 0M721.0 746.1a1.0 1.0 0 1 0 2.0 0a1.0 1.0 0 1 0 -2.0 0M735.4 744.7a1.1 1.1 0 1 0 2.1 0a1.1 1.1 0 1 0 -2.1 0M701.0 753.2a0.6 0.6 0 1 0 1.1 0a0.6 0.6 0 1 0 -1.1 0M738.1 740.6a0.4 0.4 0 1 0 0.8 0a0.4 0.4 0 1 0 -0.8 0M731.9 734.4a0.6 0.6 0 1 0 1.3 0a0.6 0.6 0 1 0 -1.3 0M720.3 747.9a0.9 0.9 0 1 0 1.8 0a0.9 0.9 0 1 0 -1.8 0M740.1 742.8a1.0 1.0 0 1 0 2.0 0a1.0 1.0 0 1 0 -2.0 0M748.2 740.3a0.6 0.6 0 1 0 1.2 0a0.6 0.6 0 1 0 -1.2 0M740.5 732.1a0.3 0.3 0 1 0 0.7 0a0.3 0.3 0 1 0 -0.7 0M717.9 747.7a0.8 0.8 0 1 0 1.7 0a0.8 0.8 0 1 0 -1.7 0M712.1 748.2a0.6 0.6 0 1 0 1.2 0a0.6 0.6 0 1 0 -1.2 0M734.3 744.8a1.1 1.1 0 1 0 2.2 0a1.1 1.1 0 1 0 -2.2 0M748.6 739.5a0.8 0.8 0 1 0 1.6 0a0.8 0.8 0 1 0 -1.6 0M713.1 744.7a0.5 0.5 0 1 0 1.0 0a0.5 0.5 0 1 0 -1.0 0M741.8 733.6a0.4 0.4 0 1 0 0.8 0a0.4 0.4 0 1 0 -0.8 0M745.4 742.1a0.4 0.4 0 1 0 0.8 0a0.4 0.4 0 1 0 -0.8 0M731.3 733.4a0.7 0.7 0 1 0 1.3 0a0.7 0.7 0 1 0 -1.3 0M746.8 739.6a0.9 0.9 0 1 0 1.8 0a0.9 0.9 0 1 0 -1.8 0M729.8 745.9a0.8 0.8 0 1 0 1.7 0a0.8 0.8 0 1 0 -1.7 0M741.1 740.4a0.7 0.7 0 1 0 1.5 0a0.7 0.7 0 1 0 -1.5 0M715.5 749.1a0.7 0.7 0 1 0 1.3 0a0.7 0.7 0 1 0 -1.3 0M729.6 741.5a0.4 0.4 0 1 0 0.8 0a0.4 0.4 0 1 0 -0.8 0M697.2 755.2a0.8 0.8 0 1 0 1.7 0a0.8 0.8 0 1 0 -1.7 0M738.5 743.0a0.6 0.6 0 1 0 1.1 0a0.6 0.6 0 1 0 -1.1 0M728.0 746.0a0.8 0.8 0 1 0 1.6 0a0.8 0.8 0 1 0 -1.6 0M744.3 742.3a0.8 0.8 0 1 0 1.6 0a0.8 0.8 0 1 0 -1.6 0M739.6 735.4a0.6 0.6 0 1 0 1.3 0a0.6 0.6 0 1 0 -1.3 0M736.7 742.8a0.9 0.9 0 1 0 1.9 0a0.9 0.9 0 1 0 -1.9 0M744.5 743.1a1.1 1.1 0 1 0 2.2 0a1.1 1.1 0 1 0 -2.2 0M724.6 748.0a0.4 0.4 0 1 0 0.9 0a0.4 0.4 0 1 0 -0.9 0M742.3 736.9a0.4 0.4 0 1 0 0.7 0a0.4 0.4 0 1 0 -0.7 0M727.4 739.7a0.9 0.9 0 1 0 1.7 0a0.9 0.9 0 1 0 -1.7 0M721.9 741.1a0.4 0.4 0 1 0 0.8 0a0.4 0.4 0 1 0 -0.8 0M711.8 751.1a0.7 0.7 0 1 0 1.4 0a0.7 0.7 0 1 0 -1.4 0M733.4 743.1a0.5 0.5 0 1 0 0.9 0a0.5 0.5 0 1 0 -0.9 0M712.9 751.3a0.5 0.5 0 1 0 1.1 0a0.5 0.5 0 1 0 -1.1 0M719.7 745.3a0.4 0.4 0 1 0 0.9 0a0.4 0.4 0 1 0 -0.9 0M727.3 742.7a1.0 1.0 0 1 0 1.9 0a1.0 1.0 0 1 0 -1.9 0M731.0 733.0a0.4 0.4 0 1 0 0.9 0a0.4 0.4 0 1 0 -0.9 0M713.1 747.4a0.4 0.4 0 1 0 0.8 0a0.4 0.4 0 1 0 -0.8 0M709.6 752.1a0.9 0.9 0 1 0 1.8 0a0.9 0.9 0 1 0 -1.8 0M747.3 740.5a0.6 0.6 0 1 0 1.1 0a0.6 0.6 0 1 0 -1.1 0M724.4 745.0a0.8 0.8 0 1 0 1.6 0a0.8 0.8 0 1 0 -1.6 0M721.8 748.1a1.0 1.0 0 1 0 2.0 0a1.0 1.0 0 1 0 -2.0 0M729.8 747.1a1.0 1.0 0 1 0 2.1 0a1.0 1.0 0 1 0 -2.1 0M737.9 741.6a0.8 0.8 0 1 0 1.5 0a0.8 0.8 0 1 0 -1.5 0M745.5 740.5a0.6 0.6 0 1 0 1.2 0a0.6 0.6 0 1 0 -1.2 0M718.6 745.1a0.7 0.7 0 1 0 1.4 0a0.7 0.7 0 1 0 -1.4 0M741.5 732.0a0.3 0.3 0 1 0 0.6 0a0.3 0.3 0 1 0 -0.6 0M723.8 738.8a0.6 0.6 0 1 0 1.3 0a0.6 0.6 0 1 0 -1.3 0M734.1 736.9a0.5 0.5 0 1 0 1.0 0a0.5 0.5 0 1 0 -1.0 0M746.9 739.2a0.6 0.6 0 1 0 1.1 0a0.6 0.6 0 1 0 -1.1 0M710.4 751.7a1.0 1.0 0 1 0 2.1 0a1.0 1.0 0 1 0 -2.1 0M739.9 744.5a0.6 0.6 0 1 0 1.3 0a0.6 0.6 0 1 0 -1.3 0M728.0 741.7a0.6 0.6 0 1 0 1.1 0a0.6 0.6 0 1 0 -1.1 0M744.4 741.0a0.7 0.7 0 1 0 1.4 0a0.7 0.7 0 1 0 -1.4 0M746.6 738.3a0.6 0.6 0 1 0 1.1 0a0.6 0.6 0 1 0 -1.1 0M719.8 746.4a0.7 0.7 0 1 0 1.5 0a0.7 0.7 0 1 0 -1.5 0M740.0 742.5a0.6 0.6 0 1 0 1.2 0a0.6 0.6 0 1 0 -1.2 0M722.4 745.6a1.0 1.0 0 1 0 1.9 0a1.0 1.0 0 1 0 -1.9 0M729.7 744.3a0.6 0.6 0 1 0 1.2 0a0.6 0.6 0 1 0 -1.2 0M740.8 743.2a0.9 0.9 0 1 0 1.8 0a0.9 0.9 0 1 0 -1.8 0M699.5 754.9a0.4 0.4 0 1 0 0.8 0a0.4 0.4 0 1 0 -0.8 0M740.5 743.5a0.5 0.5 0 1 0 1.1 0a0.5 0.5 0 1 0 -1.1 0M702.3 753.6a0.9 0.9 0 1 0 1.7 0a0.9 0.9 0 1 0 -1.7 0M740.4 732.6a0.7 0.7 0 1 0 1.3 0a0.7 0.7 0 1 0 -1.3 0M734.2 732.0a0.3 0.3 0 1 0 0.6 0a0.3 0.3 0 1 0 -0.6 0M746.0 740.2a0.5 0.5 0 1 0 0.9 0a0.5 0.5 0 1 0 -0.9 0M741.3 733.7a0.4 0.4 0 1 0 0.9 0a0.4 0.4 0 1 0 -0.9 0M706.4 749.0a0.6 0.6 0 1 0 1.2 0a0.6 0.6 0 1 0 -1.2 0M736.5 730.7a0.2 0.2 0 1 0 0.5 0a0.2 0.2 0 1 0 -0.5 0M702.5 754.1a0.4 0.4 0 1 0 0.8 0a0.4 0.4 0 1 0 -0.8 0M738.8 737.5a0.4 0.4 0 1 0 0.7 0a0.4 0.4 0 1 0 -0.7 0M709.5 751.7a0.8 0.8 0 1 0 1.6 0a0.8 0.8 0 1 0 -1.6 0M739.2 731.1a0.4 0.4 0 1 0 0.8 0a0.4 0.4 0 1 0 -0.8 0M747.8 740.3a0.6 0.6 0 1 0 1.2 0a0.6 0.6 0 1 0 -1.2 0M714.7 749.6a1.1 1.1 0 1 0 2.1 0a1.1 1.1 0 1 0 -2.1 0M749.1 738.4a0.4 0.4 0 1 0 0.8 0a0.4 0.4 0 1 0 -0.8 0M710.7 751.5a0.6 0.6 0 1 0 1.3 0a0.6 0.6 0 1 0 -1.3 0M737.2 744.9a0.8 0.8 0 1 0 1.6 0a0.8 0.8 0 1 0 -1.6 0M734.8 745.7a0.7 0.7 0 1 0 1.5 0a0.7 0.7 0 1 0 -1.5 0M741.4 738.4a0.6 0.6 0 1 0 1.2 0a0.6 0.6 0 1 0 -1.2 0M744.9 738.3a0.5 0.5 0 1 0 1.0 0a0.5 0.5 0 1 0 -1.0 0M725.9 736.1a0.6 0.6 0 1 0 1.2 0a0.6 0.6 0 1 0 -1.2 0M746.0 739.0a0.4 0.4 0 1 0 0.8 0a0.4 0.4 0 1 0 -0.8 0M710.7 749.9a0.8 0.8 0 1 0 1.6 0a0.8 0.8 0 1 0 -1.6 0M697.5 754.4a0.7 0.7 0 1 0 1.3 0a0.7 0.7 0 1 0 -1.3 0M727.2 747.8a1.0 1.0 0 1 0 2.0 0a1.0 1.0 0 1 0 -2.0 0M725.5 740.4a0.6 0.6 0 1 0 1.2 0a0.6 0.6 0 1 0 -1.2 0M737.9 740.9a1.0 1.0 0 1 0 1.9 0a1.0 1.0 0 1 0 -1.9 0M748.4 735.7a0.5 0.5 0 1 0 1.0 0a0.5 0.5 0 1 0 -1.0 0M719.1 746.9a0.5 0.5 0 1 0 1.1 0a0.5 0.5 0 1 0 -1.1 0M746.2 736.3a0.7 0.7 0 1 0 1.3 0a0.7 0.7 0 1 0 -1.3 0M744.4 732.4a0.5 0.5 0 1 0 1.0 0a0.5 0.5 0 1 0 -1.0 0M720.9 741.8a0.4 0.4 0 1 0 0.8 0a0.4 0.4 0 1 0 -0.8 0M732.0 745.2a1.0 1.0 0 1 0 2.0 0a1.0 1.0 0 1 0 -2.0 0M726.9 745.0a1.0 1.0 0 1 0 2.0 0a1.0 1.0 0 1 0 -2.0 0M705.7 749.1a0.6 0.6 0 1 0 1.1 0a0.6 0.6 0 1 0 -1.1 0M710.2 747.5a0.6 0.6 0 1 0 1.1 0a0.6 0.6 0 1 0 -1.1 0M745.7 738.7a0.6 0.6 0 1 0 1.1 0a0.6 0.6 0 1 0 -1.1 0" fill="#3a3a3a"/>
<path d="M696.9 756.2 L712.5 752.3 L728.1 748.1 L743.8 744.1" fill="none" stroke="#3a3a3a" stroke-width="2.0" stroke-linecap="round" stroke-linejoin="round"/>
<path d="M727.7 740.1a0.5 0.5 0 1 0 1.1 0a0.5 0.5 0 1 0 -1.1 0M729.5 740.3a0.3 0.3 0 1 0 0.7 0a0.3 0.3 0 1 0 -0.7 0M729.5 738.9a0.5 0.5 0 1 0 1.0 0a0.5 0.5 0 1 0 -1.0 0M725.6 742.7a0.5 0.5 0 1 0 1.0 0a0.5 0.5 0 1 0 -1.0 0M731.2 739.9a0.5 0.5 0 1 0 1.0 0a0.5 0.5 0 1 0 -1.0 0M727.9 741.8a0.4 0.4 0 1 0 0.8 0a0.4 0.4 0 1 0 -0.8 0M717.1 745.3a0.6 0.6 0 1 0 1.2 0a0.6 0.6 0 1 0 -1.2 0M731.6 739.1a0.5 0.5 0 1 0 0.9 0a0.5 0.5 0 1 0 -0.9 0M728.6 738.4a0.4 0.4 0 1 0 0.9 0a0.4 0.4 0 1 0 -0.9 0" fill="#33a0d6"/>
<path d="M681.6 757.4a0.8 0.8 0 1 0 1.6 0a0.8 0.8 0 1 0 -1.6 0M677.5 759.0a0.7 0.7 0 1 0 1.4 0a0.7 0.7 0 1 0 -1.4 0M683.0 760.9a0.4 0.4 0 1 0 0.7 0a0.4 0.4 0 1 0 -0.7 0M683.8 758.6a0.7 0.7 0 1 0 1.4 0a0.7 0.7 0 1 0 -1.4 0M683.0 760.7a0.5 0.5 0 1 0 1.0 0a0.5 0.5 0 1 0 -1.0 0M679.7 762.1a0.4 0.4 0 1 0 0.7 0a0.4 0.4 0 1 0 -0.7 0M677.7 758.9a0.7 0.7 0 1 0 1.5 0a0.7 0.7 0 1 0 -1.5 0M680.2 758.5a0.6 0.6 0 1 0 1.1 0a0.6 0.6 0 1 0 -1.1 0M673.7 759.4a0.7 0.7 0 1 0 1.4 0a0.7 0.7 0 1 0 -1.4 0M674.9 762.3a0.4 0.4 0 1 0 0.9 0a0.4 0.4 0 1 0 -0.9 0M683.9 761.3a0.4 0.4 0 1 0 0.8 0a0.4 0.4 0 1 0 -0.8 0M681.2 760.8a0.5 0.5 0 1 0 1.0 0a0.5 0.5 0 1 0 -1.0 0M683.7 762.4a0.6 0.6 0 1 0 1.1 0a0.6 0.6 0 1 0 -1.1 0M679.8 757.5a0.8 0.8 0 1 0 1.5 0a0.8 0.8 0 1 0 -1.5 0M680.8 762.7a0.6 0.6 0 1 0 1.3 0a0.6 0.6 0 1 0 -1.3 0M685.4 758.2a0.6 0.6 0 1 0 1.3 0a0.6 0.6 0 1 0 -1.3 0" fill="#333"/>
<ellipse cx="661" cy="756.8" rx="2.7" ry="1.9" fill="none" stroke="#222" stroke-width="1.1" transform="rotate(-20 661 756.8)"/>
</g>
<text x="164.6" y="102.3" font-size="11" fill="#d8ecf8" text-anchor="middle" transform="rotate(69 164.6 102.3)" textLength="41" lengthAdjust="spacingAndGlyphs">Escambia</text>
<text x="196" y="86" font-size="11" fill="#4a5961" text-anchor="middle" textLength="26" lengthAdjust="spacingAndGlyphs">Santa</text>
<text x="196" y="98.5" font-size="11" fill="#4a5961" text-anchor="middle" textLength="22" lengthAdjust="spacingAndGlyphs">Rosa</text>
<text x="232.5" y="93" font-size="11" fill="#1f5f78" text-anchor="middle" transform="rotate(90 232.5 93)" textLength="43" lengthAdjust="spacingAndGlyphs">Okaloosa</text>
<text x="275.5" y="107.5" font-size="11" fill="#0f4266" text-anchor="middle" textLength="33" lengthAdjust="spacingAndGlyphs">Walton</text>
<text x="320.5" y="138.5" font-size="11" fill="#0f4266" text-anchor="middle" textLength="17" lengthAdjust="spacingAndGlyphs">Bay</text>
<text x="363.5" y="184.8" font-size="11" fill="#2a7e95" text-anchor="middle" textLength="19" lengthAdjust="spacingAndGlyphs">Gulf</text>
<text x="405" y="184.8" font-size="11" fill="#2a7e95" text-anchor="middle" textLength="36" lengthAdjust="spacingAndGlyphs">Franklin</text>
<text x="681.7" y="104" font-size="11" fill="#1f6d86" text-anchor="middle" textLength="33" lengthAdjust="spacingAndGlyphs">Nassau</text>
<text x="696" y="136.2" font-size="11" fill="#dfe5ea" text-anchor="middle" textLength="26" lengthAdjust="spacingAndGlyphs">Duval</text>
<text x="714" y="187.5" font-size="11" fill="#0f4266" text-anchor="middle" transform="rotate(70 714 187.5)" textLength="42" lengthAdjust="spacingAndGlyphs">St. Johns</text>
<text x="727.5" y="231" font-size="11" fill="#4a5961" text-anchor="middle" transform="rotate(74 727.5 231)" textLength="33" lengthAdjust="spacingAndGlyphs">Flagler</text>
<text x="741.5" y="277.5" font-size="11" fill="#0f4266" text-anchor="middle" textLength="33" lengthAdjust="spacingAndGlyphs">Volusia</text>
<text x="786.5" y="379.5" font-size="11" fill="#0f4266" text-anchor="middle" transform="rotate(60 786.5 379.5)" textLength="37" lengthAdjust="spacingAndGlyphs">Brevard</text>
<text x="799.5" y="416.3" font-size="11" fill="#1f6d86" text-anchor="middle" textLength="28" lengthAdjust="spacingAndGlyphs">Indian</text>
<text x="799.5" y="429" font-size="11" fill="#1f6d86" text-anchor="middle" textLength="24" lengthAdjust="spacingAndGlyphs">River</text>
<text x="813.8" y="449" font-size="11" fill="#0f4266" text-anchor="middle" textLength="12" lengthAdjust="spacingAndGlyphs">St.</text>
<text x="813.8" y="463" font-size="11" fill="#0f4266" text-anchor="middle" textLength="25" lengthAdjust="spacingAndGlyphs">Lucie</text>
<text x="822.5" y="487" font-size="11" fill="#0f4266" text-anchor="middle" textLength="30" lengthAdjust="spacingAndGlyphs">Martin</text>
<text x="817.5" y="533.8" font-size="11" fill="#cfe0f0" text-anchor="middle" textLength="53.5" lengthAdjust="spacingAndGlyphs">Palm Beach</text>
<text x="816.3" y="588.2" font-size="11" fill="#e1e6ea" text-anchor="middle" textLength="39" lengthAdjust="spacingAndGlyphs">Broward</text>
<text x="812.5" y="628.3" font-size="11" fill="#e1e6ea" text-anchor="middle" textLength="57" lengthAdjust="spacingAndGlyphs">Miami-Dade</text>
<text x="758.5" y="643.5" font-size="11" fill="#0f4266" text-anchor="middle" transform="rotate(42 758.5 643.5)" textLength="35" lengthAdjust="spacingAndGlyphs">Monroe</text>
<text x="735" y="596.8" font-size="11" fill="#4a5961" text-anchor="middle" textLength="31" lengthAdjust="spacingAndGlyphs">Collier</text>
<text x="687.5" y="542.6" font-size="11" fill="#0f4266" text-anchor="middle" textLength="16.5" lengthAdjust="spacingAndGlyphs">Lee</text>
<text x="688" y="509.5" font-size="11" fill="#0f4266" text-anchor="middle" textLength="44" lengthAdjust="spacingAndGlyphs">Charlotte</text>
<text x="641.5" y="478.5" font-size="11" fill="#0f4266" text-anchor="middle" transform="rotate(24 641.5 478.5)" textLength="40" lengthAdjust="spacingAndGlyphs">Sarasota</text>
<text x="638.8" y="445.8" font-size="11" fill="#e1e6ea" text-anchor="middle" textLength="40" lengthAdjust="spacingAndGlyphs">Manatee</text>
<text x="596.8" y="393" font-size="9" fill="#2a7e95" text-anchor="middle" transform="rotate(80 596.8 393)" textLength="34" lengthAdjust="spacingAndGlyphs">Pinellas</text>
<circle class="mk" cx="247.5" cy="128.8" r="5.6" fill="#a3dde9"/>
<circle class="mk" cx="302.5" cy="147.5" r="5.6" fill="#a3dde9"/>
<circle class="mk" cx="345.5" cy="178.8" r="5.6" fill="#a3dde9"/>
<circle class="mk" cx="714.5" cy="100.4" r="5.6" fill="#33a0d6"/>
<circle class="mk" cx="721.1" cy="141.0" r="5.6" fill="#33a0d6"/>
<circle class="mk" cx="720.6" cy="134.0" r="5.6" fill="#33a0d6"/>
<circle class="mk" cx="733.9" cy="187.8" r="5.6" fill="#d3dcdf"/>
<circle class="mk" cx="738.9" cy="207.1" r="5.6" fill="#7a8080"/>
<circle class="mk" cx="748.7" cy="227.7" r="5.6" fill="#d3dcdf"/>
<circle class="mk" cx="745.8" cy="222.4" r="5.6" fill="#7a8080"/>
<circle class="mk" cx="755.7" cy="244.6" r="5.6" fill="#33a0d6"/>
<circle class="mk" cx="760.4" cy="254.5" r="5.6" fill="#33a0d6"/>
<circle class="mk" cx="763.6" cy="260.2" r="5.6" fill="#33a0d6"/>
<circle class="mk" cx="766.7" cy="265.9" r="5.6" fill="#33a0d6"/>
<circle class="mk" cx="770.3" cy="273.2" r="5.6" fill="#33a0d6"/>
<circle class="mk" cx="780.1" cy="288.8" r="5.6" fill="#33a0d6"/>
<circle class="mk" cx="797.5" cy="350.0" r="5.6" fill="#a3dde9"/>
<circle class="mk" cx="799.2" cy="342.5" r="5.6" fill="#a3dde9"/>
<circle class="mk" cx="800.0" cy="363.8" r="5.6" fill="#33a0d6"/>
<circle class="mk" cx="801.2" cy="367.0" r="5.6" fill="#d3dcdf"/>
<circle class="mk" cx="803.8" cy="375.0" r="5.6" fill="#a3dde9"/>
<circle class="mk" cx="819.5" cy="407.0" r="5.6" fill="#d3dcdf"/>
<circle class="mk" cx="826.2" cy="422.0" r="5.6" fill="#a3dde9"/>
<circle class="mk" cx="822.5" cy="415.0" r="5.6" fill="#a3dde9"/>
<circle class="mk" cx="833.8" cy="443.8" r="5.6" fill="#a3dde9"/>
<circle class="mk" cx="851.7" cy="485.5" r="5.6" fill="#d3dcdf"/>
<circle class="mk" cx="856.8" cy="504.7" r="5.6" fill="#33a0d6"/>
<circle class="mk" cx="855.3" cy="496.6" r="5.6" fill="#1d5a96"/>
<circle class="mk" cx="855.8" cy="499.5" r="5.6" fill="#1d5a96"/>
<circle class="mk" cx="859.3" cy="514.3" r="5.6" fill="#1d5a96"/>
<circle class="mk" cx="859.8" cy="523.4" r="5.6" fill="#d3dcdf"/>
<circle class="mk" cx="859.8" cy="531.8" r="5.6" fill="#1d5a96"/>
<circle class="mk" cx="857.8" cy="550.6" r="5.6" fill="#33a0d6"/>
<circle class="mk" cx="858.8" cy="544.1" r="5.6" fill="#1d5a96"/>
<circle class="mk" cx="857.3" cy="558" r="5.6" fill="#33a0d6"/>
<circle class="mk" cx="856.3" cy="567" r="5.6" fill="#33a0d6"/>
<circle class="mk" cx="855.8" cy="573" r="5.6" fill="#33a0d6"/>
<circle class="mk" cx="855" cy="583.5" r="5.6" fill="#33a0d6"/>
<circle class="mk" cx="854.5" cy="597" r="5.6" fill="#33a0d6"/>
<circle class="mk" cx="854.3" cy="592" r="5.6" fill="#a3dde9"/>
<circle class="mk" cx="854" cy="602.5" r="5.6" fill="#33a0d6"/>
<circle class="mk" cx="853.5" cy="607" r="5.6" fill="#a3dde9"/>
<circle class="mk" cx="853.8" cy="611.3" r="5.6" fill="#33a0d6"/>
<circle class="mk" cx="853.2" cy="618" r="5.6" fill="#33a0d6"/>
<circle class="mk" cx="850.5" cy="632" r="5.6" fill="#33a0d6"/>
<circle class="mk" cx="790.0" cy="726.8" r="5.6" fill="#33a0d6"/>
<circle class="mk" cx="766.3" cy="737.8" r="5.6" fill="#33a0d6"/>
<circle class="mk" cx="768.8" cy="738.0" r="5.6" fill="#7a8080"/>
<circle class="mk" cx="695.5" cy="757.0" r="5.6" fill="#a3dde9"/>
<circle class="mk" cx="698.8" cy="609.5" r="5.6" fill="#33a0d6"/>
<circle class="mk" cx="690.0" cy="586.2" r="5.6" fill="#33a0d6"/>
<circle class="mk" cx="685.0" cy="565.0" r="5.6" fill="#33a0d6"/>
<circle class="mk" cx="678.8" cy="555.8" r="5.6" fill="#1d5a96"/>
<circle class="mk" cx="658.8" cy="555.0" r="5.6" fill="#33a0d6"/>
<circle class="mk" cx="625.5" cy="484.2" r="5.6" fill="#a3dde9"/>
<circle class="mk" cx="613.8" cy="461.2" r="5.6" fill="#33a0d6"/>
<circle class="mk" cx="607.5" cy="454.5" r="5.6" fill="#1d5a96"/>
<circle class="mk" cx="602.5" cy="447.5" r="5.6" fill="#33a0d6"/>
<circle class="mk" cx="598.8" cy="438.8" r="5.6" fill="#a3dde9"/>
<circle class="mk" cx="590.2" cy="383.1" r="5.6" fill="#33a0d6"/>
<circle class="mk" cx="589.2" cy="389.5" r="5.6" fill="#a3dde9"/>
<circle class="mk" cx="588.2" cy="403.3" r="5.6" fill="#a3dde9"/>
<circle class="mk" cx="588.2" cy="396.4" r="5.6" fill="#a3dde9"/>
<circle class="mk" cx="593.1" cy="410.6" r="5.6" fill="#33a0d6"/>
<circle class="mk" cx="598" cy="420" r="5.6" fill="#33a0d6"/>
<text x="577" y="562" font-size="12.4" font-style="italic" fill="#4866a8" text-anchor="middle" textLength="22.5" lengthAdjust="spacingAndGlyphs">Gulf</text>
<text x="577" y="575.5" font-size="12.4" font-style="italic" fill="#4866a8" text-anchor="middle" textLength="10.5" lengthAdjust="spacingAndGlyphs">of</text>
<text x="577" y="590" font-size="12.4" font-style="italic" fill="#4866a8" text-anchor="middle" textLength="37.5" lengthAdjust="spacingAndGlyphs">Mexico</text>
<text x="919.4" y="664.7" font-size="12.4" font-style="italic" fill="#4866a8" text-anchor="middle" textLength="39.5" lengthAdjust="spacingAndGlyphs">Atlantic</text>
<text x="919.6" y="679.2" font-size="12.4" font-style="italic" fill="#4866a8" text-anchor="middle" textLength="34.4" lengthAdjust="spacingAndGlyphs">Ocean</text>
<text class="cn" x="19" y="123.10" textLength="71.00" lengthAdjust="spacingAndGlyphs">Bay County</text>
<rect x="18.60" y="124.45" width="71.80" height="1.15" fill="#111"/>
<circle class="ld" cx="101.25" cy="119.5" r="4.9" fill="#2f9ad6"/>
<text class="bn" x="19" y="137.65" textLength="74.00" lengthAdjust="spacingAndGlyphs">Mexico Beach</text>
<circle class="ld" cx="101.25" cy="133.75" r="4.9" fill="#7fe0f3"/>
<text class="bn" x="19" y="151.40" textLength="101.50" lengthAdjust="spacingAndGlyphs">Panama City Beach</text>
<circle class="ld" cx="130.25" cy="147.5" r="4.9" fill="#7fe0f3"/>
<text class="cn" x="19" y="180.35" textLength="97.25" lengthAdjust="spacingAndGlyphs">Brevard County</text>
<rect x="18.60" y="181.70" width="98.05" height="1.15" fill="#111"/>
<circle class="ld" cx="126.25" cy="176.75" r="4.9" fill="#2f9ad6"/>
<text class="bn" x="19" y="195.90" textLength="84.00" lengthAdjust="spacingAndGlyphs">Cape Canaveral</text>
<circle class="ld" cx="111.75" cy="192" r="4.9" fill="#7fe0f3"/>
<text class="bn" x="19" y="210.15" textLength="69.00" lengthAdjust="spacingAndGlyphs">Cocoa Beach</text>
<circle class="ld" cx="97.25" cy="206.25" r="4.9" fill="#7fe0f3"/>
<text class="bn" x="19" y="225.40" textLength="59.00" lengthAdjust="spacingAndGlyphs">Indiatlantic</text>
<circle class="ld" cx="86.5" cy="221.5" r="4.9" fill="#7fe0f3"/>
<text class="bn" x="19" y="238.90" textLength="116.00" lengthAdjust="spacingAndGlyphs">Indian Harbour Beach</text>
<circle class="ld" cx="144" cy="235" r="4.9" fill="#d6f5fa"/>
<text class="bn" x="19" y="252.65" textLength="94.25" lengthAdjust="spacingAndGlyphs">Melbourne Beach</text>
<circle class="ld" cx="122.5" cy="248.75" r="4.9" fill="#2f9ad6"/>
<text class="bn" x="19" y="267.40" textLength="78.50" lengthAdjust="spacingAndGlyphs">Satellite Beach</text>
<circle class="ld" cx="106.75" cy="263.5" r="4.9" fill="#2f9ad6"/>
<text class="cn" x="19" y="297.35" textLength="101.75" lengthAdjust="spacingAndGlyphs">Broward County</text>
<rect x="18.60" y="298.70" width="102.55" height="1.15" fill="#111"/>
<circle class="ld" cx="131.5" cy="293.75" r="4.9" fill="#737d85"/>
<text class="bn" x="19" y="310.90" textLength="66.75" lengthAdjust="spacingAndGlyphs">Dania Beach</text>
<circle class="ld" cx="92.75" cy="307" r="4.9" fill="#7fe0f3"/>
<text class="bn" x="19" y="325.15" textLength="85.25" lengthAdjust="spacingAndGlyphs">Deerfield Beach</text>
<circle class="ld" cx="113.5" cy="321.25" r="4.9" fill="#2f9ad6"/>
<text class="bn" x="19" y="339.15" textLength="83.50" lengthAdjust="spacingAndGlyphs">Fort Lauderdale</text>
<circle class="ld" cx="110.25" cy="335.25" r="4.9" fill="#2f9ad6"/>
<text class="bn" x="19" y="353.65" textLength="92.75" lengthAdjust="spacingAndGlyphs">Hallandale Beach</text>
<circle class="ld" cx="119" cy="349.75" r="4.9" fill="#7fe0f3"/>
<text class="bn" x="19" y="367.65" textLength="83.50" lengthAdjust="spacingAndGlyphs">Hillsboro Beach</text>
<circle class="ld" cx="110.25" cy="363.75" r="4.9" fill="#2f9ad6"/>
<text class="bn" x="19" y="382.15" textLength="94.00" lengthAdjust="spacingAndGlyphs">Hollywood Beach</text>
<circle class="ld" cx="120.25" cy="378.25" r="4.9" fill="#7fe0f3"/>
<text class="bn" x="19" y="396.40" textLength="121.00" lengthAdjust="spacingAndGlyphs">Lauderdale-by-the-Sea</text>
<circle class="ld" cx="147.5" cy="392.5" r="4.9" fill="#2f9ad6"/>
<text class="bn" x="19" y="411.15" textLength="86.00" lengthAdjust="spacingAndGlyphs">Pompano Beach</text>
<circle class="ld" cx="113.5" cy="407.25" r="4.9" fill="#2f9ad6"/>
<text class="cn" x="19" y="440.10" textLength="106.50" lengthAdjust="spacingAndGlyphs">Charlotte County</text>
<rect x="18.60" y="441.45" width="107.30" height="1.15" fill="#111"/>
<circle class="ld" cx="137" cy="436.5" r="4.9" fill="#2f9ad6"/>
<text class="cn" x="19" y="469.10" textLength="89.25" lengthAdjust="spacingAndGlyphs">Collier County</text>
<rect x="18.60" y="470.45" width="90.05" height="1.15" fill="#111"/>
<circle class="ld" cx="118.75" cy="465.5" r="4.9" fill="#d6f5fa"/>
<text class="bn" x="19" y="483.65" textLength="68.00" lengthAdjust="spacingAndGlyphs">Marco Island</text>
<circle class="ld" cx="95.5" cy="479.75" r="4.9" fill="#2f9ad6"/>
<text class="bn" x="19" y="498.40" textLength="37.25" lengthAdjust="spacingAndGlyphs">Naples</text>
<circle class="ld" cx="64.75" cy="494.5" r="4.9" fill="#2f9ad6"/>
<text class="cn" x="193.25" y="188.60" textLength="84.75" lengthAdjust="spacingAndGlyphs">Duval County</text>
<rect x="192.85" y="189.95" width="85.55" height="1.15" fill="#111"/>
<circle class="ld" cx="288.5" cy="185" r="4.9" fill="#737d85"/>
<text class="bn" x="193.25" y="202.40" textLength="76.00" lengthAdjust="spacingAndGlyphs">Atlantic Beach</text>
<circle class="ld" cx="277.75" cy="198.5" r="4.9" fill="#2f9ad6"/>
<text class="bn" x="193.25" y="216.90" textLength="100.00" lengthAdjust="spacingAndGlyphs">Jacksonville Beach</text>
<circle class="ld" cx="300.75" cy="213" r="4.9" fill="#2f9ad6"/>
<text class="bn" x="193.25" y="231.40" textLength="82.25" lengthAdjust="spacingAndGlyphs">Neptune Beach</text>
<circle class="ld" cx="283.5" cy="227.5" r="4.9" fill="#2f9ad6"/>
<text class="cn" x="193.25" y="259.85" textLength="107.25" lengthAdjust="spacingAndGlyphs">Escambia County</text>
<rect x="192.85" y="261.20" width="108.05" height="1.15" fill="#111"/>
<circle class="ld" cx="310" cy="256.25" r="4.9" fill="#2f9ad6"/>
<text class="cn" x="193.25" y="289.60" textLength="91.75" lengthAdjust="spacingAndGlyphs">Flagler County</text>
<rect x="192.85" y="290.95" width="92.55" height="1.15" fill="#111"/>
<circle class="ld" cx="295" cy="286" r="4.9" fill="#d6f5fa"/>
<text class="bn" x="193.25" y="303.90" textLength="74.75" lengthAdjust="spacingAndGlyphs">Beverly Beach</text>
<circle class="ld" cx="277.25" cy="300" r="4.9" fill="#737d85"/>
<text class="bn" x="193.25" y="317.90" textLength="72.50" lengthAdjust="spacingAndGlyphs">Flagler Beach</text>
<circle class="ld" cx="274.25" cy="314" r="4.9" fill="#d6f5fa"/>
<text class="bn" x="193.25" y="332.40" textLength="61.00" lengthAdjust="spacingAndGlyphs">Marineland</text>
<circle class="ld" cx="265" cy="328.5" r="4.9" fill="#737d85"/>
<text class="cn" x="191.5" y="356.60" textLength="98.00" lengthAdjust="spacingAndGlyphs">Franklin County</text>
<rect x="191.10" y="357.95" width="98.80" height="1.15" fill="#111"/>
<circle class="ld" cx="299.5" cy="353" r="4.9" fill="#7fe0f3"/>
<text class="cn" x="191" y="385.35" textLength="75.25" lengthAdjust="spacingAndGlyphs">Gulf County</text>
<rect x="190.60" y="386.70" width="76.05" height="1.15" fill="#111"/>
<circle class="ld" cx="275.75" cy="381.75" r="4.9" fill="#7fe0f3"/>
<text class="cn" x="191" y="411.10" textLength="123.50" lengthAdjust="spacingAndGlyphs">Indian River County</text>
<rect x="190.60" y="412.45" width="124.30" height="1.15" fill="#111"/>
<circle class="ld" cx="325.25" cy="407.5" r="4.9" fill="#7fe0f3"/>
<text class="bn" x="191" y="426.90" textLength="102.75" lengthAdjust="spacingAndGlyphs">Indian River Shores</text>
<circle class="ld" cx="302.75" cy="423" r="4.9" fill="#7fe0f3"/>
<text class="bn" x="191" y="441.15" textLength="36.00" lengthAdjust="spacingAndGlyphs">Orchid</text>
<circle class="ld" cx="236" cy="437.25" r="4.9" fill="#d6f5fa"/>
<text class="bn" x="191" y="455.90" textLength="60.25" lengthAdjust="spacingAndGlyphs">Vero Beach</text>
<circle class="ld" cx="259.75" cy="452" r="4.9" fill="#7fe0f3"/>
<text class="cn" x="191" y="484.85" textLength="69.50" lengthAdjust="spacingAndGlyphs">Lee County</text>
<rect x="190.60" y="486.20" width="70.30" height="1.15" fill="#111"/>
<circle class="ld" cx="271.75" cy="481.25" r="4.9" fill="#2f9ad6"/>
<text class="bn" x="191" y="500.15" textLength="77.75" lengthAdjust="spacingAndGlyphs">Bonita Springs</text>
<circle class="ld" cx="278.5" cy="496.25" r="4.9" fill="#2f9ad6"/>
<text class="bn" x="191" y="514.15" textLength="92.00" lengthAdjust="spacingAndGlyphs">Fort Myers Beach</text>
<circle class="ld" cx="292" cy="510.25" r="4.9" fill="#0d4f9b"/>
<text class="bn" x="191" y="528.40" textLength="39.50" lengthAdjust="spacingAndGlyphs">Sanibel</text>
<circle class="ld" cx="239.25" cy="524.5" r="4.9" fill="#2f9ad6"/>
<text class="cn" x="370" y="239.60" textLength="102.50" lengthAdjust="spacingAndGlyphs">Manatee County</text>
<rect x="369.60" y="240.95" width="103.30" height="1.15" fill="#111"/>
<circle class="ld" cx="484.25" cy="236" r="4.9" fill="#737d85"/>
<text class="bn" x="370" y="254.40" textLength="96.25" lengthAdjust="spacingAndGlyphs">Anna Maria Island</text>
<circle class="ld" cx="475.25" cy="250.5" r="4.9" fill="#7fe0f3"/>
<text class="bn" x="370" y="268.15" textLength="91.75" lengthAdjust="spacingAndGlyphs">Bradenton Beach</text>
<circle class="ld" cx="471.25" cy="264.25" r="4.9" fill="#2f9ad6"/>
<text class="bn" x="370" y="282.40" textLength="76.25" lengthAdjust="spacingAndGlyphs">Holmes Beach</text>
<circle class="ld" cx="455" cy="278.5" r="4.9" fill="#0d4f9b"/>
<text class="cn" x="370" y="309.10" textLength="88.75" lengthAdjust="spacingAndGlyphs">Martin County</text>
<rect x="369.60" y="310.45" width="89.55" height="1.15" fill="#111"/>
<circle class="ld" cx="470" cy="305.5" r="4.9" fill="#2f9ad6"/>
<text class="bn" x="370" y="324.90" textLength="71.75" lengthAdjust="spacingAndGlyphs">Jupiter Island</text>
<circle class="ld" cx="451.75" cy="321" r="4.9" fill="#d6f5fa"/>
<text class="cn" x="370" y="343.60" textLength="125.00" lengthAdjust="spacingAndGlyphs">Miami-Dade County</text>
<rect x="369.60" y="344.95" width="125.80" height="1.15" fill="#111"/>
<circle class="ld" cx="507" cy="340" r="4.9" fill="#737d85"/>
<text class="bn" x="370" y="358.90" textLength="56.75" lengthAdjust="spacingAndGlyphs">Bal Harbor</text>
<circle class="ld" cx="437.75" cy="355" r="4.9" fill="#737d85"/>
<text class="bn" x="370" y="373.65" textLength="74.50" lengthAdjust="spacingAndGlyphs">Golden Beach</text>
<circle class="ld" cx="454.75" cy="369.75" r="4.9" fill="#2f9ad6"/>
<text class="bn" x="370" y="389.15" textLength="69.50" lengthAdjust="spacingAndGlyphs">Key Biscayne</text>
<circle class="ld" cx="449.25" cy="385.25" r="4.9" fill="#2f9ad6"/>
<text class="bn" x="370" y="403.80" textLength="68.25" lengthAdjust="spacingAndGlyphs">Miami Beach</text>
<circle class="ld" cx="448.1" cy="399.9" r="4.9" fill="#2f9ad6"/>
<text class="bn" x="370" y="417.15" textLength="93.75" lengthAdjust="spacingAndGlyphs">Sunny Isles Beach</text>
<circle class="ld" cx="473.25" cy="413.25" r="4.9" fill="#7fe0f3"/>
<text class="bn" x="370" y="431.65" textLength="42.50" lengthAdjust="spacingAndGlyphs">Surfside</text>
<circle class="ld" cx="421.75" cy="427.75" r="4.9" fill="#2f9ad6"/>
<text class="cn" x="370" y="455.10" textLength="96.75" lengthAdjust="spacingAndGlyphs">Monroe County</text>
<rect x="369.60" y="456.45" width="97.55" height="1.15" fill="#111"/>
<circle class="ld" cx="477.25" cy="451.5" r="4.9" fill="#2f9ad6"/>
<text class="bn" x="370" y="471.15" textLength="58.00" lengthAdjust="spacingAndGlyphs">Islamadora</text>
<circle class="ld" cx="438.25" cy="467.25" r="4.9" fill="#2f9ad6"/>
<text class="bn" x="370" y="484.65" textLength="96.00" lengthAdjust="spacingAndGlyphs">Key Colony Beach</text>
<circle class="ld" cx="475" cy="480.75" r="4.9" fill="#737d85"/>
<text class="bn" x="370" y="498.65" textLength="49.25" lengthAdjust="spacingAndGlyphs">Key West</text>
<circle class="ld" cx="428" cy="494.75" r="4.9" fill="#7fe0f3"/>
<text class="bn" x="370" y="513.40" textLength="34.50" lengthAdjust="spacingAndGlyphs">Layton</text>
<circle class="ld" cx="413.25" cy="509.5" r="4.9" fill="#737d85"/>
<text class="bn" x="370" y="526.90" textLength="50.75" lengthAdjust="spacingAndGlyphs">Marathon</text>
<circle class="ld" cx="429.5" cy="523" r="4.9" fill="#2f9ad6"/>
<text class="cn" x="370.75" y="558.35" textLength="93.00" lengthAdjust="spacingAndGlyphs">Nassau County</text>
<rect x="370.35" y="559.70" width="93.80" height="1.15" fill="#111"/>
<circle class="ld" cx="475" cy="554.75" r="4.9" fill="#7fe0f3"/>
<text class="bn" x="371.75" y="573.15" textLength="95.75" lengthAdjust="spacingAndGlyphs">Fernandina Beach</text>
<circle class="ld" cx="477.25" cy="569.25" r="4.9" fill="#2f9ad6"/>
<text class="cn" x="370.75" y="606.35" textLength="107.50" lengthAdjust="spacingAndGlyphs">Okaloosa County</text>
<rect x="370.35" y="607.70" width="108.30" height="1.15" fill="#111"/>
<circle class="ld" cx="488.5" cy="602.75" r="4.9" fill="#7fe0f3"/>
<text class="bn" x="371" y="620.65" textLength="34.00" lengthAdjust="spacingAndGlyphs">Destin</text>
<circle class="ld" cx="413.75" cy="616.75" r="4.9" fill="#7fe0f3"/>
<text class="cn" x="370.75" y="648.85" textLength="120.50" lengthAdjust="spacingAndGlyphs">Palm Beach County</text>
<rect x="370.35" y="650.20" width="121.30" height="1.15" fill="#111"/>
<circle class="ld" cx="501.75" cy="645.25" r="4.9" fill="#0d4f9b"/>
<text class="bn" x="370" y="664.40" textLength="60.50" lengthAdjust="spacingAndGlyphs">Boca Raton</text>
<circle class="ld" cx="440.25" cy="660.5" r="4.9" fill="#2f9ad6"/>
<text class="bn" x="370" y="678.40" textLength="80.00" lengthAdjust="spacingAndGlyphs">Boynton Beach</text>
<circle class="ld" cx="462" cy="674.5" r="4.9" fill="#0d4f9b"/>
<text class="bn" x="370" y="692.90" textLength="70.00" lengthAdjust="spacingAndGlyphs">Delray Beach</text>
<circle class="ld" cx="451" cy="689" r="4.9" fill="#2f9ad6"/>
<text class="bn" x="370" y="706.90" textLength="63.00" lengthAdjust="spacingAndGlyphs">Gulf Stream</text>
<circle class="ld" cx="444.25" cy="703" r="4.9" fill="#737d85"/>
<text class="bn" x="370" y="720.90" textLength="84.50" lengthAdjust="spacingAndGlyphs">Highland Beach</text>
<circle class="ld" cx="464.5" cy="717" r="4.9" fill="#7fe0f3"/>
<text class="bn" x="370" y="735.40" textLength="61.25" lengthAdjust="spacingAndGlyphs">Juno Beach</text>
<circle class="ld" cx="440.25" cy="731.5" r="4.9" fill="#2f9ad6"/>
<text class="bn" x="370" y="749.65" textLength="36.75" lengthAdjust="spacingAndGlyphs">Jupiter</text>
<circle class="ld" cx="416.25" cy="745.75" r="4.9" fill="#0d4f9b"/>
<text class="bn" x="370" y="764.15" textLength="104.50" lengthAdjust="spacingAndGlyphs">Jupiter Inlet Colony</text>
<circle class="ld" cx="484.25" cy="760.25" r="4.9" fill="#0d4f9b"/>
<text class="bn" x="520" y="663.65" textLength="95.75" lengthAdjust="spacingAndGlyphs">Lake Worth Beach</text>
<circle class="ld" cx="624.75" cy="659.75" r="4.9" fill="#0d4f9b"/>
<text class="bn" x="520" y="678.40" textLength="41.25" lengthAdjust="spacingAndGlyphs">Lantana</text>
<circle class="ld" cx="570.25" cy="674.5" r="4.9" fill="#0d4f9b"/>
<text class="bn" x="520" y="692.90" textLength="58.75" lengthAdjust="spacingAndGlyphs">Manalapan</text>
<circle class="ld" cx="587.75" cy="689" r="4.9" fill="#0d4f9b"/>
<text class="bn" x="520" y="706.90" textLength="68.75" lengthAdjust="spacingAndGlyphs">Ocean Ridge</text>
<circle class="ld" cx="597.75" cy="703" r="4.9" fill="#7fe0f3"/>
<text class="bn" x="520" y="720.65" textLength="60.75" lengthAdjust="spacingAndGlyphs">Palm Beach</text>
<circle class="ld" cx="588.5" cy="716.75" r="4.9" fill="#d6f5fa"/>
<text class="bn" x="520" y="735.40" textLength="100.75" lengthAdjust="spacingAndGlyphs">Palm Beach Shores</text>
<circle class="ld" cx="630.25" cy="731.5" r="4.9" fill="#0d4f9b"/>
<text class="bn" x="520" y="749.65" textLength="71.25" lengthAdjust="spacingAndGlyphs">Riviera Beach</text>
<circle class="ld" cx="600.25" cy="745.75" r="4.9" fill="#0d4f9b"/>
<text class="bn" x="520" y="763.15" textLength="95.25" lengthAdjust="spacingAndGlyphs">South Palm Beach</text>
<circle class="ld" cx="624.75" cy="759.25" r="4.9" fill="#7fe0f3"/>
<text class="bn" x="520" y="779.15" textLength="47.00" lengthAdjust="spacingAndGlyphs">Tequesta</text>
<circle class="ld" cx="575.75" cy="775.25" r="4.9" fill="#0d4f9b"/>
<text class="cn" x="808" y="81.85" textLength="95.75" lengthAdjust="spacingAndGlyphs">Pinellas County</text>
<rect x="807.60" y="83.20" width="96.55" height="1.15" fill="#111"/>
<circle class="ld" cx="916.5" cy="78.25" r="4.9" fill="#7fe0f3"/>
<text class="bn" x="808.75" y="95.90" textLength="75.50" lengthAdjust="spacingAndGlyphs">Belleair Beach</text>
<circle class="ld" cx="894.75" cy="92" r="4.9" fill="#7fe0f3"/>
<text class="bn" x="808.75" y="110.15" textLength="73.75" lengthAdjust="spacingAndGlyphs">Belleair Shore</text>
<circle class="ld" cx="893.25" cy="106.25" r="4.9" fill="#737d85"/>
<text class="bn" x="808.75" y="124.15" textLength="58.00" lengthAdjust="spacingAndGlyphs">Clearwater</text>
<circle class="ld" cx="877.25" cy="120.25" r="4.9" fill="#7fe0f3"/>
<text class="bn" x="808.75" y="138.15" textLength="45.00" lengthAdjust="spacingAndGlyphs">Dunedin</text>
<circle class="ld" cx="863" cy="134.25" r="4.9" fill="#2f9ad6"/>
<text class="bn" x="808.75" y="152.15" textLength="103.00" lengthAdjust="spacingAndGlyphs">Indian Rocks Beach</text>
<circle class="ld" cx="921" cy="148.25" r="4.9" fill="#7fe0f3"/>
<text class="bn" x="808.75" y="166.40" textLength="72.25" lengthAdjust="spacingAndGlyphs">Indian Shores</text>
<circle class="ld" cx="890.75" cy="162.5" r="4.9" fill="#7fe0f3"/>
<text class="bn" x="808.75" y="180.65" textLength="79.75" lengthAdjust="spacingAndGlyphs">Madeira Beach</text>
<circle class="ld" cx="898.75" cy="176.75" r="4.9" fill="#2f9ad6"/>
<text class="bn" x="808.75" y="194.90" textLength="125.00" lengthAdjust="spacingAndGlyphs">North Redington Beach</text>
<circle class="ld" cx="942.5" cy="191" r="4.9" fill="#7fe0f3"/>
<text class="bn" x="808.75" y="209.90" textLength="91.25" lengthAdjust="spacingAndGlyphs">Redington Beach</text>
<circle class="ld" cx="910.25" cy="206" r="4.9" fill="#7fe0f3"/>
<text class="bn" x="808.75" y="224.40" textLength="95.00" lengthAdjust="spacingAndGlyphs">Redington Shores</text>
<circle class="ld" cx="913.75" cy="220.5" r="4.9" fill="#2f9ad6"/>
<text class="bn" x="808.75" y="238.90" textLength="74.75" lengthAdjust="spacingAndGlyphs">St. Pete Beach</text>
<circle class="ld" cx="892.75" cy="235" r="4.9" fill="#2f9ad6"/>
<text class="bn" x="808.75" y="253.40" textLength="79.25" lengthAdjust="spacingAndGlyphs">Treasure Island</text>
<circle class="ld" cx="896.75" cy="249.5" r="4.9" fill="#7fe0f3"/>
<text class="cn" x="819.25" y="276.85" textLength="115.50" lengthAdjust="spacingAndGlyphs">Santa Rosa County</text>
<rect x="818.85" y="278.20" width="116.30" height="1.15" fill="#111"/>
<circle class="ld" cx="944.25" cy="273.25" r="4.9" fill="#d6f5fa"/>
<text class="cn" x="833" y="302.10" textLength="101.25" lengthAdjust="spacingAndGlyphs">Sarasota County</text>
<rect x="832.60" y="303.45" width="102.05" height="1.15" fill="#111"/>
<circle class="ld" cx="944.5" cy="298.5" r="4.9" fill="#2f9ad6"/>
<text class="bn" x="833" y="315.90" textLength="74.50" lengthAdjust="spacingAndGlyphs">Longboat Key</text>
<circle class="ld" cx="916.5" cy="312" r="4.9" fill="#0d4f9b"/>
<text class="bn" x="833" y="330.40" textLength="45.00" lengthAdjust="spacingAndGlyphs">Sarasota</text>
<circle class="ld" cx="887.75" cy="326.5" r="4.9" fill="#2f9ad6"/>
<text class="bn" x="833" y="344.15" textLength="35.50" lengthAdjust="spacingAndGlyphs">Venice</text>
<circle class="ld" cx="878.25" cy="340.25" r="4.9" fill="#7fe0f3"/>
<text class="cn" x="848" y="367.60" textLength="103.75" lengthAdjust="spacingAndGlyphs">St. Johns County</text>
<rect x="847.60" y="368.95" width="104.55" height="1.15" fill="#111"/>
<circle class="ld" cx="962.5" cy="364" r="4.9" fill="#2f9ad6"/>
<text class="bn" x="848" y="380.40" textLength="106.25" lengthAdjust="spacingAndGlyphs">St. Augustine Beach</text>
<circle class="ld" cx="963.5" cy="376.5" r="4.9" fill="#d6f5fa"/>
<text class="cn" x="878.75" y="408.85" textLength="99.25" lengthAdjust="spacingAndGlyphs">St. Lucie County</text>
<rect x="878.35" y="410.20" width="100.05" height="1.15" fill="#111"/>
<circle class="ld" cx="989.5" cy="405.25" r="4.9" fill="#2f9ad6"/>
<text class="bn" x="878.75" y="423.40" textLength="48.00" lengthAdjust="spacingAndGlyphs">Ft. Pierce</text>
<circle class="ld" cx="936" cy="419.5" r="4.9" fill="#7fe0f3"/>
<text class="cn" x="878.75" y="455.60" textLength="93.50" lengthAdjust="spacingAndGlyphs">Volusia County</text>
<rect x="878.35" y="456.95" width="94.30" height="1.15" fill="#111"/>
<circle class="ld" cx="984" cy="452" r="4.9" fill="#2f9ad6"/>
<text class="bn" x="878.75" y="471.65" textLength="80.50" lengthAdjust="spacingAndGlyphs">Daytona Beach</text>
<circle class="ld" cx="967.75" cy="467.75" r="4.9" fill="#2f9ad6"/>
<text class="bn" x="878.75" y="485.90" textLength="119.75" lengthAdjust="spacingAndGlyphs">Daytona Beach Shores</text>
<circle class="ld" cx="1008" cy="482" r="4.9" fill="#2f9ad6"/>
<text class="bn" x="878.75" y="500.90" textLength="103.75" lengthAdjust="spacingAndGlyphs">New Smyrna Beach</text>
<circle class="ld" cx="991.5" cy="497" r="4.9" fill="#2f9ad6"/>
<text class="bn" x="878.75" y="515.15" textLength="42.75" lengthAdjust="spacingAndGlyphs">Oak Hill</text>
<circle class="ld" cx="932" cy="511.25" r="4.9" fill="#2f9ad6"/>
<text class="bn" x="878.75" y="529.65" textLength="80.50" lengthAdjust="spacingAndGlyphs">Ormond Beach</text>
<circle class="ld" cx="969.5" cy="525.75" r="4.9" fill="#2f9ad6"/>
<text class="bn" x="878.75" y="544.15" textLength="58.75" lengthAdjust="spacingAndGlyphs">Ponce Inlet</text>
<circle class="ld" cx="948" cy="540.25" r="4.9" fill="#2f9ad6"/>
<text class="cn" x="878.75" y="569.10" textLength="92.25" lengthAdjust="spacingAndGlyphs">Walton County</text>
<rect x="878.35" y="570.45" width="93.05" height="1.15" fill="#111"/>
<circle class="ld" cx="984" cy="565.5" r="4.9" fill="#2f9ad6"/>
<text x="16.3" y="553" font-size="20.6" font-weight="bold" fill="#000" textLength="108" lengthAdjust="spacingAndGlyphs">Total Score</text>
<rect x="15" y="559.3" width="246" height="140.7" fill="#fff" stroke="#151515" stroke-width="1.45"/>
<circle cx="32.1" cy="578.3" r="6.7" fill="#1f5a99" stroke="#37424b" stroke-width="1.2"/>
<text x="49.3" y="583.8" font-size="15.8" fill="#1a1a1a" stroke="#1a1a1a" stroke-width="0.55" textLength="170.7" lengthAdjust="spacingAndGlyphs">Most Ideal (75.1&#8211;100%)</text>
<circle cx="32.1" cy="604" r="6.7" fill="#339fd8" stroke="#37424b" stroke-width="1.2"/>
<text x="49.3" y="609.3" font-size="15.8" fill="#1a1a1a" stroke="#1a1a1a" stroke-width="0.55" textLength="200.7" lengthAdjust="spacingAndGlyphs">Somewhat Ideal (50.1-75%)</text>
<circle cx="32.1" cy="630" r="6.7" fill="#9fdfea" stroke="#37424b" stroke-width="1.2"/>
<text x="50.9" y="635.5" font-size="15.8" fill="#1a1a1a" stroke="#1a1a1a" stroke-width="0.55" textLength="154.6" lengthAdjust="spacingAndGlyphs">Less Ideal (25.1-50%)</text>
<circle cx="32.1" cy="656" r="6.7" fill="#d4f3f8" stroke="#37424b" stroke-width="1.2"/>
<text x="51.2" y="661.3" font-size="15.8" fill="#1a1a1a" stroke="#1a1a1a" stroke-width="0.55" textLength="151.8" lengthAdjust="spacingAndGlyphs">Least Ideal (0.1-25%)</text>
<circle cx="32.1" cy="682" r="6.7" fill="#737d80" stroke="#37424b" stroke-width="1.2"/>
<text x="51.2" y="686.9" font-size="15.8" fill="#1a1a1a" stroke="#1a1a1a" stroke-width="0.55" textLength="147.8" lengthAdjust="spacingAndGlyphs">No Ordinance (Zero)</text>
<circle cx="44.3" cy="743.2" r="28.4" fill="#0a0a0a"/>
<circle cx="44.3" cy="743.2" r="25.6" fill="none" stroke="#1a9b5c" stroke-width="1.2"/>
<circle cx="44.3" cy="743.2" r="24.2" fill="#fff"/>
<circle cx="44.3" cy="743.2" r="18.6" fill="#b9c6e6" stroke="#111" stroke-width="0.8"/>
<defs><path id="nwfarc" d="M24.7 752.7A21.8 21.8 0 1 1 63.9 752.7"/><clipPath id="nwfclip"><circle cx="44.3" cy="743.2" r="24.9"/></clipPath><clipPath id="nwfin"><circle cx="44.3" cy="743.2" r="18.4"/></clipPath></defs>
<text font-size="4.6" font-weight="bold" fill="#111" textLength="89" lengthAdjust="spacing"><textPath href="#nwfarc" startOffset="1.5">NATIONAL WILDLIFE FEDERATION</textPath></text>
<g clip-path="url(#nwfin)"><path d="M28.799999999999997 756.2l1.4-8 1.2 3 1.6-7 1.4 4 1.6-5 1.8 6 1 7z M47.3 756.2l1.5-9 1.6 3.5 1.8-8 1.6 4.5 1.8-6 1.6 4 1.5-3 1.6 6 1 8z" fill="#1f9a4e"/></g>
<path d="M18.299999999999997 756.4000000000001Q34.3 752.8000000000001 44.3 753.4000000000001T70.3 756.4000000000001V773.2H18.299999999999997Z" fill="#0a0a0a" clip-path="url(#nwfclip)"/>
<path d="M35.3 755.2C35.3 746.2 36.8 740.2 40.3 737.7L39.099999999999994 735.2C39.3 731.7 42.8 730.0 45.8 730.8000000000001L50.5 732.4000000000001L52.9 734.0L50.699999999999996 735.4000000000001L51.9 737.0L47.9 738.4000000000001C49.3 742.2 49.9 748.2 50.3 755.2Z" fill="#0a0a0a"/>
<path d="M42.5 733.0l3.2 0.4-0.3 1.6-3.2-0.2z" fill="#c9d3ea"/>
<path d="M42.699999999999996 752.0h11.6v3.2h-11.6z" fill="#e4e4e4"/>
<path d="M43.9 752.0v3.2M45.9 752.0v3.2M47.9 752.0v3.2M49.9 752.0v3.2M51.9 752.0v3.2" stroke="#111" stroke-width="1"/>
<text x="84.6" y="724.9" font-size="9" font-weight="bold" fill="#1f7a8c" textLength="54.2" lengthAdjust="spacingAndGlyphs">SEA TURTLE</text>
<rect x="84.6" y="728.1" width="54.2" height="33.8" fill="#1f7a8c"/>
<path d="M86.6 729.5v31M88.3 729.5v31M133.6 729.5v31M135.3 729.5v31M137 729.5v31" stroke="#63a9b6" stroke-width="0.6" fill="none"/>
<g fill="none" stroke="#fff" stroke-linecap="round"><ellipse cx="111.5" cy="745.5" rx="10" ry="12" stroke-width="0.9"/><ellipse cx="111.5" cy="745.5" rx="7.6" ry="9.3" stroke-width="0.8"/><ellipse cx="111.5" cy="745.5" rx="5.2" ry="6.5" stroke-width="0.8"/><path d="M114.1 747.0a2.7 2.7 0 1 1 -2.4 -3.8a1.6 1.6 0 1 1 -0.8 2.9" stroke-width="1"/><path d="M102.5 740.3q-5-3.4-8.4 1.4q-1.2 2 .4 2.6q3-3 7.4-1.4M120.5 740.3q5-3.4 8.4 1.4q1.2 2-.4 2.6q-3-3-7.4-1.4" stroke-width="1.3"/><path d="M106.1 755.7q-2.6 2.6-1.6 5.2M116.9 755.7q2.6 2.6 1.6 5.2M105.1 758.5q2-1.6 3.6 0M117.9 758.5q-2-1.6-3.6 0" stroke-width="1.1"/></g>
<ellipse cx="111.5" cy="731.9" rx="2.7" ry="2.5" fill="#fff"/>
<text x="85.3" y="770.7" font-size="8" font-weight="bold" fill="#1f7a8c" textLength="53.5" lengthAdjust="spacingAndGlyphs">CONSERVANCY</text>
<text x="903.4" y="779.9" font-size="13.5" font-weight="bold" fill="#1a1a1a" textLength="96" lengthAdjust="spacingAndGlyphs">February 2024</text>
</svg></body></html>
